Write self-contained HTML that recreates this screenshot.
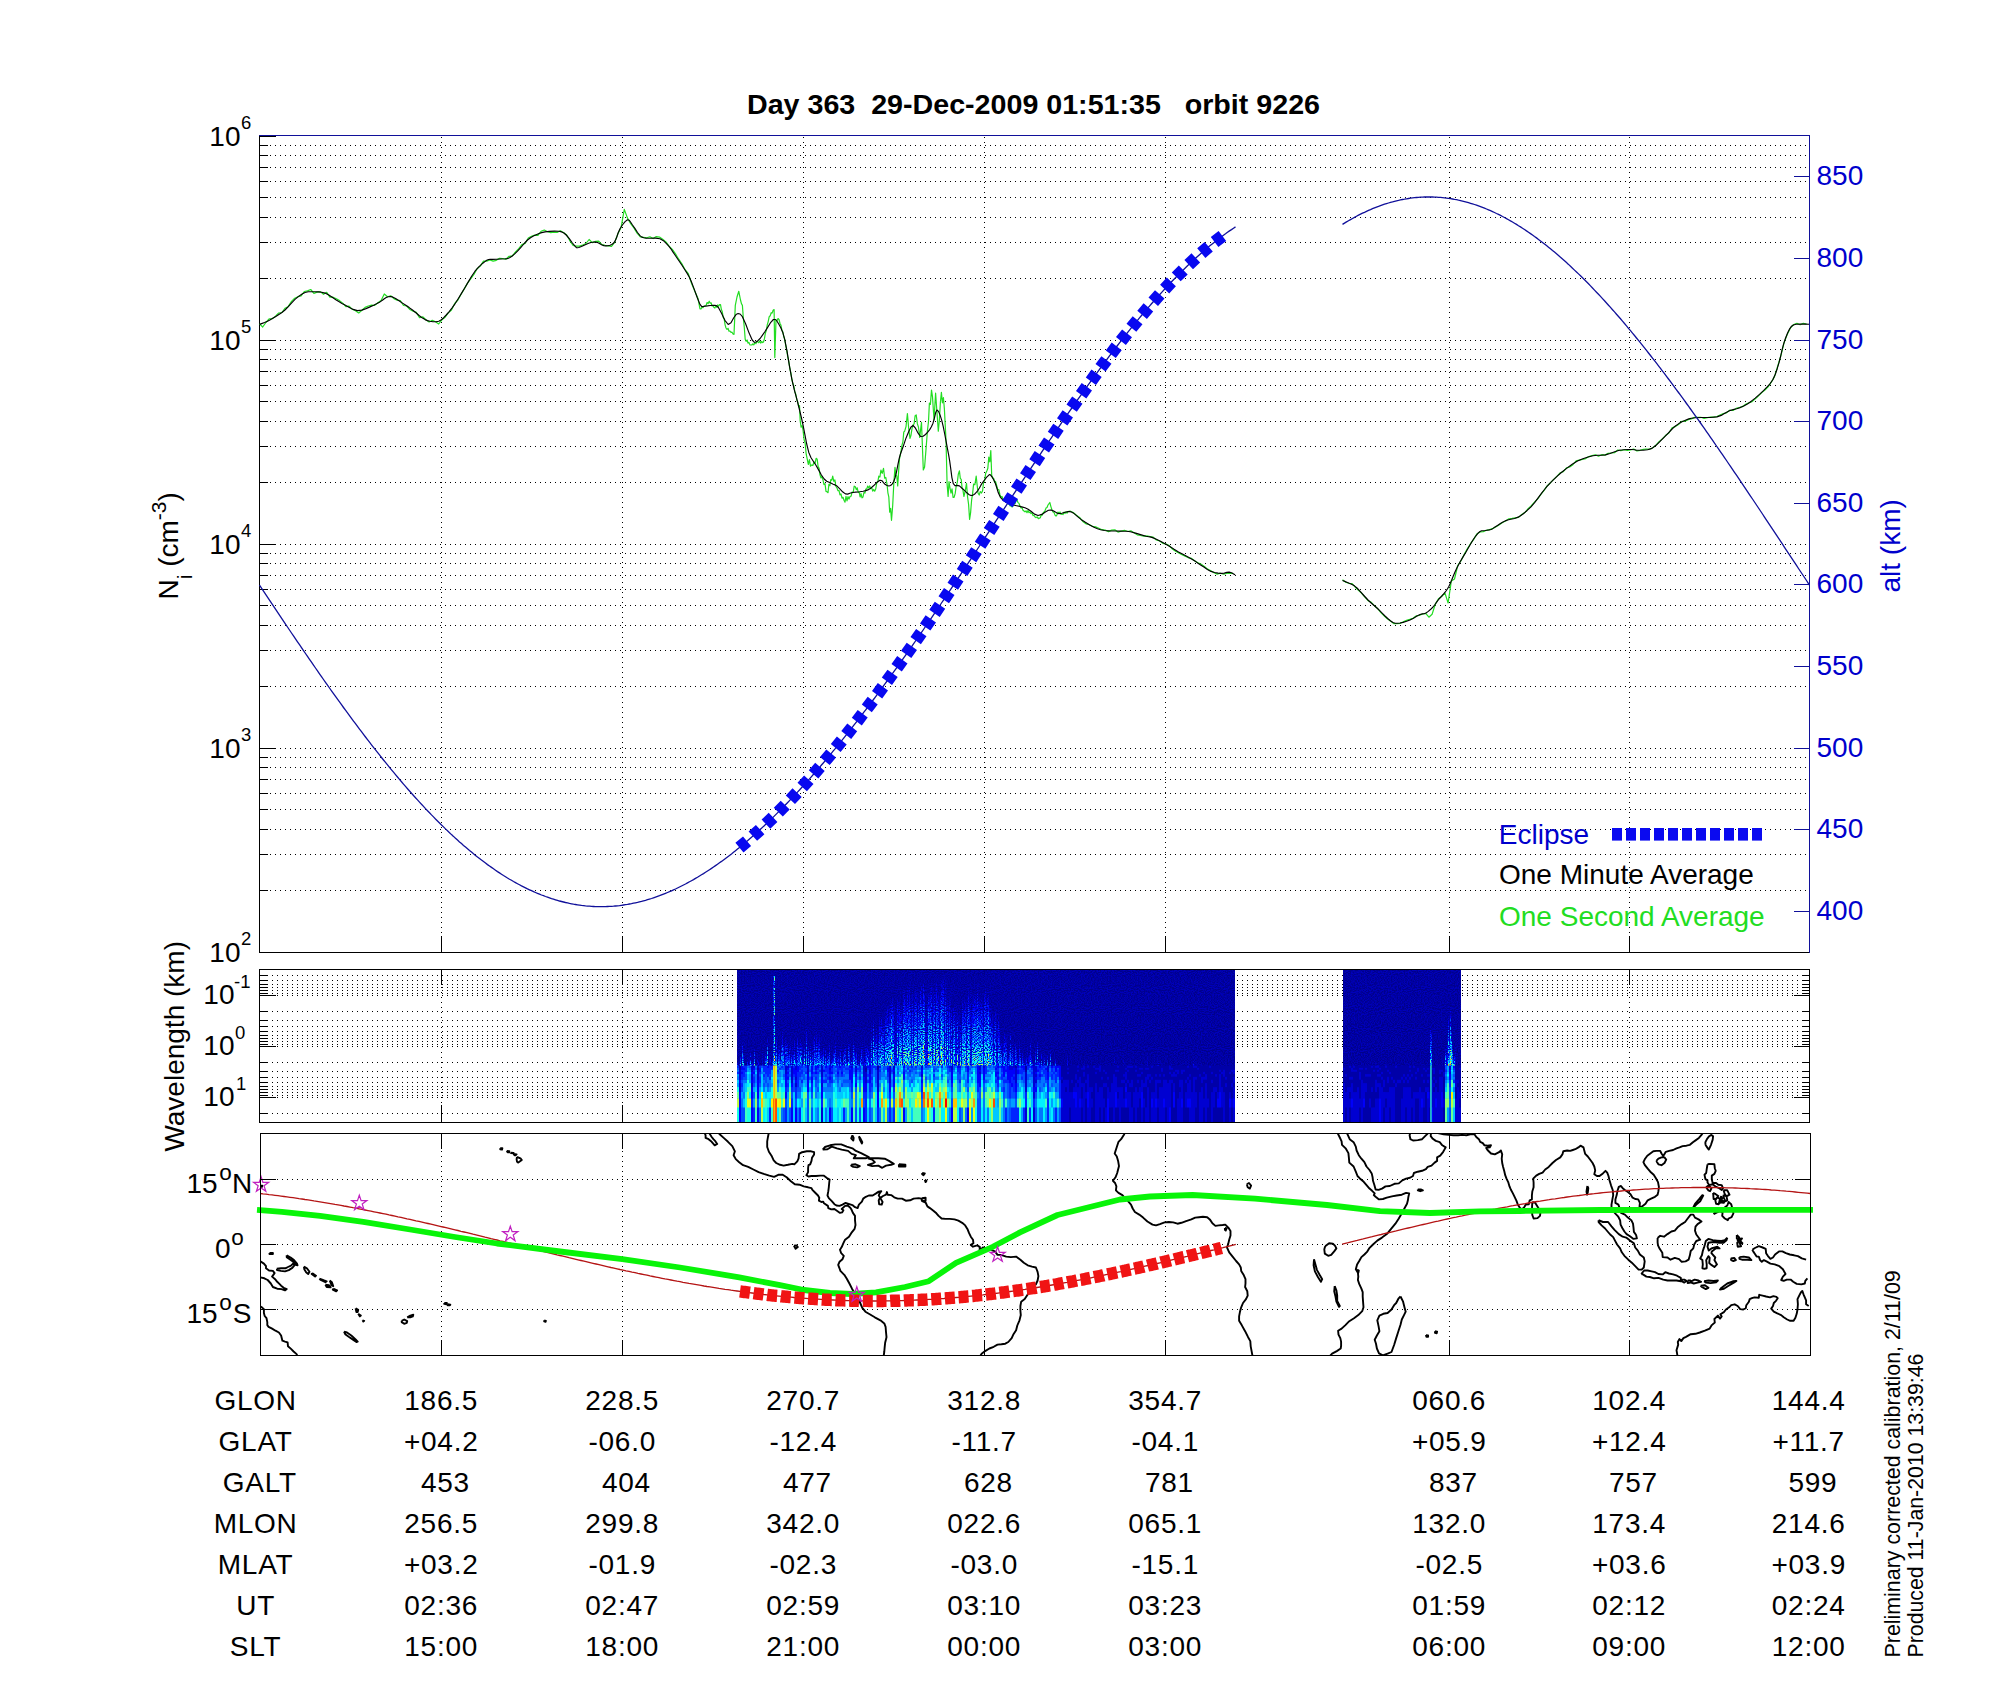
<!DOCTYPE html>
<html><head><meta charset="utf-8"><title>Day 363 29-Dec-2009 orbit 9226</title>
<style>
html,body{margin:0;padding:0;background:#fff;}
svg{display:block;}
text{font-family:"Liberation Sans", Arial, Helvetica, sans-serif;font-size:28px;}
</style></head><body>
<svg width="2000" height="1700" viewBox="0 0 2000 1700" shape-rendering="auto">
<rect width="2000" height="1700" fill="#fff"/>
<line x1="260" y1="890.5" x2="1809" y2="890.5" stroke="#000" stroke-width="1" stroke-dasharray="1 4"/>
<line x1="260" y1="854.5" x2="1809" y2="854.5" stroke="#000" stroke-width="1" stroke-dasharray="1 4"/>
<line x1="260" y1="829.5" x2="1809" y2="829.5" stroke="#000" stroke-width="1" stroke-dasharray="1 4"/>
<line x1="260" y1="809.5" x2="1809" y2="809.5" stroke="#000" stroke-width="1" stroke-dasharray="1 4"/>
<line x1="260" y1="793.5" x2="1809" y2="793.5" stroke="#000" stroke-width="1" stroke-dasharray="1 4"/>
<line x1="260" y1="779.5" x2="1809" y2="779.5" stroke="#000" stroke-width="1" stroke-dasharray="1 4"/>
<line x1="260" y1="767.5" x2="1809" y2="767.5" stroke="#000" stroke-width="1" stroke-dasharray="1 4"/>
<line x1="260" y1="757.5" x2="1809" y2="757.5" stroke="#000" stroke-width="1" stroke-dasharray="1 4"/>
<line x1="260" y1="748.5" x2="1809" y2="748.5" stroke="#000" stroke-width="1" stroke-dasharray="1 4"/>
<line x1="260" y1="686.5" x2="1809" y2="686.5" stroke="#000" stroke-width="1" stroke-dasharray="1 4"/>
<line x1="260" y1="650.5" x2="1809" y2="650.5" stroke="#000" stroke-width="1" stroke-dasharray="1 4"/>
<line x1="260" y1="625.5" x2="1809" y2="625.5" stroke="#000" stroke-width="1" stroke-dasharray="1 4"/>
<line x1="260" y1="605.5" x2="1809" y2="605.5" stroke="#000" stroke-width="1" stroke-dasharray="1 4"/>
<line x1="260" y1="589.5" x2="1809" y2="589.5" stroke="#000" stroke-width="1" stroke-dasharray="1 4"/>
<line x1="260" y1="575.5" x2="1809" y2="575.5" stroke="#000" stroke-width="1" stroke-dasharray="1 4"/>
<line x1="260" y1="563.5" x2="1809" y2="563.5" stroke="#000" stroke-width="1" stroke-dasharray="1 4"/>
<line x1="260" y1="553.5" x2="1809" y2="553.5" stroke="#000" stroke-width="1" stroke-dasharray="1 4"/>
<line x1="260" y1="544.5" x2="1809" y2="544.5" stroke="#000" stroke-width="1" stroke-dasharray="1 4"/>
<line x1="260" y1="482.5" x2="1809" y2="482.5" stroke="#000" stroke-width="1" stroke-dasharray="1 4"/>
<line x1="260" y1="446.5" x2="1809" y2="446.5" stroke="#000" stroke-width="1" stroke-dasharray="1 4"/>
<line x1="260" y1="421.5" x2="1809" y2="421.5" stroke="#000" stroke-width="1" stroke-dasharray="1 4"/>
<line x1="260" y1="401.5" x2="1809" y2="401.5" stroke="#000" stroke-width="1" stroke-dasharray="1 4"/>
<line x1="260" y1="385.5" x2="1809" y2="385.5" stroke="#000" stroke-width="1" stroke-dasharray="1 4"/>
<line x1="260" y1="371.5" x2="1809" y2="371.5" stroke="#000" stroke-width="1" stroke-dasharray="1 4"/>
<line x1="260" y1="359.5" x2="1809" y2="359.5" stroke="#000" stroke-width="1" stroke-dasharray="1 4"/>
<line x1="260" y1="349.5" x2="1809" y2="349.5" stroke="#000" stroke-width="1" stroke-dasharray="1 4"/>
<line x1="260" y1="340.5" x2="1809" y2="340.5" stroke="#000" stroke-width="1" stroke-dasharray="1 4"/>
<line x1="260" y1="278.5" x2="1809" y2="278.5" stroke="#000" stroke-width="1" stroke-dasharray="1 4"/>
<line x1="260" y1="242.5" x2="1809" y2="242.5" stroke="#000" stroke-width="1" stroke-dasharray="1 4"/>
<line x1="260" y1="217.5" x2="1809" y2="217.5" stroke="#000" stroke-width="1" stroke-dasharray="1 4"/>
<line x1="260" y1="197.5" x2="1809" y2="197.5" stroke="#000" stroke-width="1" stroke-dasharray="1 4"/>
<line x1="260" y1="181.5" x2="1809" y2="181.5" stroke="#000" stroke-width="1" stroke-dasharray="1 4"/>
<line x1="260" y1="167.5" x2="1809" y2="167.5" stroke="#000" stroke-width="1" stroke-dasharray="1 4"/>
<line x1="260" y1="155.5" x2="1809" y2="155.5" stroke="#000" stroke-width="1" stroke-dasharray="1 4"/>
<line x1="260" y1="145.5" x2="1809" y2="145.5" stroke="#000" stroke-width="1" stroke-dasharray="1 4"/>
<line x1="441.5" y1="948" x2="441.5" y2="136" stroke="#000" stroke-width="1" stroke-dasharray="1 4"/>
<line x1="622.5" y1="948" x2="622.5" y2="136" stroke="#000" stroke-width="1" stroke-dasharray="1 4"/>
<line x1="803.5" y1="948" x2="803.5" y2="136" stroke="#000" stroke-width="1" stroke-dasharray="1 4"/>
<line x1="984.5" y1="948" x2="984.5" y2="136" stroke="#000" stroke-width="1" stroke-dasharray="1 4"/>
<line x1="1165.5" y1="948" x2="1165.5" y2="136" stroke="#000" stroke-width="1" stroke-dasharray="1 4"/>
<line x1="1449.5" y1="948" x2="1449.5" y2="136" stroke="#000" stroke-width="1" stroke-dasharray="1 4"/>
<line x1="1629.5" y1="948" x2="1629.5" y2="136" stroke="#000" stroke-width="1" stroke-dasharray="1 4"/>
<line x1="259" y1="952.5" x2="276" y2="952.5" stroke="#000" stroke-width="1"/>
<line x1="259" y1="890.5" x2="268" y2="890.5" stroke="#000" stroke-width="1"/>
<line x1="259" y1="854.5" x2="268" y2="854.5" stroke="#000" stroke-width="1"/>
<line x1="259" y1="829.5" x2="268" y2="829.5" stroke="#000" stroke-width="1"/>
<line x1="259" y1="809.5" x2="268" y2="809.5" stroke="#000" stroke-width="1"/>
<line x1="259" y1="793.5" x2="268" y2="793.5" stroke="#000" stroke-width="1"/>
<line x1="259" y1="779.5" x2="268" y2="779.5" stroke="#000" stroke-width="1"/>
<line x1="259" y1="767.5" x2="268" y2="767.5" stroke="#000" stroke-width="1"/>
<line x1="259" y1="757.5" x2="268" y2="757.5" stroke="#000" stroke-width="1"/>
<line x1="259" y1="748.5" x2="276" y2="748.5" stroke="#000" stroke-width="1"/>
<line x1="259" y1="686.5" x2="268" y2="686.5" stroke="#000" stroke-width="1"/>
<line x1="259" y1="650.5" x2="268" y2="650.5" stroke="#000" stroke-width="1"/>
<line x1="259" y1="625.5" x2="268" y2="625.5" stroke="#000" stroke-width="1"/>
<line x1="259" y1="605.5" x2="268" y2="605.5" stroke="#000" stroke-width="1"/>
<line x1="259" y1="589.5" x2="268" y2="589.5" stroke="#000" stroke-width="1"/>
<line x1="259" y1="575.5" x2="268" y2="575.5" stroke="#000" stroke-width="1"/>
<line x1="259" y1="563.5" x2="268" y2="563.5" stroke="#000" stroke-width="1"/>
<line x1="259" y1="553.5" x2="268" y2="553.5" stroke="#000" stroke-width="1"/>
<line x1="259" y1="544.5" x2="276" y2="544.5" stroke="#000" stroke-width="1"/>
<line x1="259" y1="482.5" x2="268" y2="482.5" stroke="#000" stroke-width="1"/>
<line x1="259" y1="446.5" x2="268" y2="446.5" stroke="#000" stroke-width="1"/>
<line x1="259" y1="421.5" x2="268" y2="421.5" stroke="#000" stroke-width="1"/>
<line x1="259" y1="401.5" x2="268" y2="401.5" stroke="#000" stroke-width="1"/>
<line x1="259" y1="385.5" x2="268" y2="385.5" stroke="#000" stroke-width="1"/>
<line x1="259" y1="371.5" x2="268" y2="371.5" stroke="#000" stroke-width="1"/>
<line x1="259" y1="359.5" x2="268" y2="359.5" stroke="#000" stroke-width="1"/>
<line x1="259" y1="349.5" x2="268" y2="349.5" stroke="#000" stroke-width="1"/>
<line x1="259" y1="340.5" x2="276" y2="340.5" stroke="#000" stroke-width="1"/>
<line x1="259" y1="278.5" x2="268" y2="278.5" stroke="#000" stroke-width="1"/>
<line x1="259" y1="242.5" x2="268" y2="242.5" stroke="#000" stroke-width="1"/>
<line x1="259" y1="217.5" x2="268" y2="217.5" stroke="#000" stroke-width="1"/>
<line x1="259" y1="197.5" x2="268" y2="197.5" stroke="#000" stroke-width="1"/>
<line x1="259" y1="181.5" x2="268" y2="181.5" stroke="#000" stroke-width="1"/>
<line x1="259" y1="167.5" x2="268" y2="167.5" stroke="#000" stroke-width="1"/>
<line x1="259" y1="155.5" x2="268" y2="155.5" stroke="#000" stroke-width="1"/>
<line x1="259" y1="145.5" x2="268" y2="145.5" stroke="#000" stroke-width="1"/>
<line x1="259" y1="136.5" x2="276" y2="136.5" stroke="#000" stroke-width="1"/>
<line x1="441.5" y1="952" x2="441.5" y2="936" stroke="#000" stroke-width="1"/>
<line x1="622.5" y1="952" x2="622.5" y2="936" stroke="#000" stroke-width="1"/>
<line x1="803.5" y1="952" x2="803.5" y2="936" stroke="#000" stroke-width="1"/>
<line x1="984.5" y1="952" x2="984.5" y2="936" stroke="#000" stroke-width="1"/>
<line x1="1165.5" y1="952" x2="1165.5" y2="936" stroke="#000" stroke-width="1"/>
<line x1="1449.5" y1="952" x2="1449.5" y2="936" stroke="#000" stroke-width="1"/>
<line x1="1629.5" y1="952" x2="1629.5" y2="936" stroke="#000" stroke-width="1"/>
<line x1="259.5" y1="135" x2="259.5" y2="953" stroke="#000" stroke-width="1"/>
<line x1="259" y1="952.5" x2="1810" y2="952.5" stroke="#000" stroke-width="1"/>
<line x1="259" y1="135.5" x2="1810" y2="135.5" stroke="#10109a" stroke-width="1"/>
<line x1="1809.5" y1="135" x2="1809.5" y2="953" stroke="#10109a" stroke-width="1"/>
<line x1="1794" y1="911.5" x2="1809" y2="911.5" stroke="#10109a" stroke-width="1"/>
<text x="1816.5" y="920" fill="#0000cc">400</text>
<line x1="1794" y1="829.5" x2="1809" y2="829.5" stroke="#10109a" stroke-width="1"/>
<text x="1816.5" y="838" fill="#0000cc">450</text>
<line x1="1794" y1="748.5" x2="1809" y2="748.5" stroke="#10109a" stroke-width="1"/>
<text x="1816.5" y="757" fill="#0000cc">500</text>
<line x1="1794" y1="666.5" x2="1809" y2="666.5" stroke="#10109a" stroke-width="1"/>
<text x="1816.5" y="675" fill="#0000cc">550</text>
<line x1="1794" y1="584.5" x2="1809" y2="584.5" stroke="#10109a" stroke-width="1"/>
<text x="1816.5" y="593" fill="#0000cc">600</text>
<line x1="1794" y1="503.5" x2="1809" y2="503.5" stroke="#10109a" stroke-width="1"/>
<text x="1816.5" y="512" fill="#0000cc">650</text>
<line x1="1794" y1="421.5" x2="1809" y2="421.5" stroke="#10109a" stroke-width="1"/>
<text x="1816.5" y="430" fill="#0000cc">700</text>
<line x1="1794" y1="340.5" x2="1809" y2="340.5" stroke="#10109a" stroke-width="1"/>
<text x="1816.5" y="349" fill="#0000cc">750</text>
<line x1="1794" y1="258.5" x2="1809" y2="258.5" stroke="#10109a" stroke-width="1"/>
<text x="1816.5" y="267" fill="#0000cc">800</text>
<line x1="1794" y1="176.5" x2="1809" y2="176.5" stroke="#10109a" stroke-width="1"/>
<text x="1816.5" y="185" fill="#0000cc">850</text>
<text x="240.5" y="962" text-anchor="end">10</text>
<text x="241" y="944.7" style="font-size:18.5px">2</text>
<text x="240.5" y="758" text-anchor="end">10</text>
<text x="241" y="740.7" style="font-size:18.5px">3</text>
<text x="240.5" y="554" text-anchor="end">10</text>
<text x="241" y="536.7" style="font-size:18.5px">4</text>
<text x="240.5" y="350" text-anchor="end">10</text>
<text x="241" y="332.7" style="font-size:18.5px">5</text>
<text x="240.5" y="146" text-anchor="end">10</text>
<text x="241" y="128.7" style="font-size:18.5px">6</text>
<text transform="translate(178,599.5) rotate(-90)">N<tspan style="font-size:21px" dy="14">i</tspan><tspan dy="-14"> (cm</tspan><tspan style="font-size:21px" dy="-12">-3</tspan><tspan dy="12">)</tspan></text>
<text transform="translate(1900,592.5) rotate(-90)" fill="#0000cc">alt (km)</text>
<text x="1033.5" y="114" text-anchor="middle" font-weight="bold" xml:space="preserve" textLength="573" lengthAdjust="spacingAndGlyphs">Day 363  29-Dec-2009 01:51:35   orbit 9226</text>
<text x="1498.8" y="843.6" fill="#0000cc">Eclipse</text>
<text x="1499" y="884.4">One Minute Average</text>
<text x="1499" y="926" fill="#22dd22">One Second Average</text>
<rect x="1612" y="828" width="10" height="12.6" fill="#0a0af0"/>
<rect x="1626" y="828" width="10" height="12.6" fill="#0a0af0"/>
<rect x="1640" y="828" width="10" height="12.6" fill="#0a0af0"/>
<rect x="1654" y="828" width="10" height="12.6" fill="#0a0af0"/>
<rect x="1668" y="828" width="10" height="12.6" fill="#0a0af0"/>
<rect x="1682" y="828" width="10" height="12.6" fill="#0a0af0"/>
<rect x="1696" y="828" width="10" height="12.6" fill="#0a0af0"/>
<rect x="1710" y="828" width="10" height="12.6" fill="#0a0af0"/>
<rect x="1724" y="828" width="10" height="12.6" fill="#0a0af0"/>
<rect x="1738" y="828" width="10" height="12.6" fill="#0a0af0"/>
<rect x="1752" y="828" width="10" height="12.6" fill="#0a0af0"/>
<line x1="262" y1="975.5" x2="1800" y2="975.5" stroke="#000" stroke-width="1" stroke-dasharray="1 4"/>
<line x1="259" y1="975.5" x2="268" y2="975.5" stroke="#000" stroke-width="1"/>
<line x1="1802" y1="975.5" x2="1809" y2="975.5" stroke="#000" stroke-width="1"/>
<line x1="262" y1="980.5" x2="1800" y2="980.5" stroke="#000" stroke-width="1" stroke-dasharray="1 4"/>
<line x1="259" y1="980.5" x2="268" y2="980.5" stroke="#000" stroke-width="1"/>
<line x1="1802" y1="980.5" x2="1809" y2="980.5" stroke="#000" stroke-width="1"/>
<line x1="262" y1="984.5" x2="1800" y2="984.5" stroke="#000" stroke-width="1" stroke-dasharray="1 4"/>
<line x1="259" y1="984.5" x2="268" y2="984.5" stroke="#000" stroke-width="1"/>
<line x1="1802" y1="984.5" x2="1809" y2="984.5" stroke="#000" stroke-width="1"/>
<line x1="262" y1="987.5" x2="1800" y2="987.5" stroke="#000" stroke-width="1" stroke-dasharray="1 4"/>
<line x1="259" y1="987.5" x2="268" y2="987.5" stroke="#000" stroke-width="1"/>
<line x1="1802" y1="987.5" x2="1809" y2="987.5" stroke="#000" stroke-width="1"/>
<line x1="262" y1="990.5" x2="1800" y2="990.5" stroke="#000" stroke-width="1" stroke-dasharray="1 4"/>
<line x1="259" y1="990.5" x2="268" y2="990.5" stroke="#000" stroke-width="1"/>
<line x1="1802" y1="990.5" x2="1809" y2="990.5" stroke="#000" stroke-width="1"/>
<line x1="262" y1="993.5" x2="1800" y2="993.5" stroke="#000" stroke-width="1" stroke-dasharray="1 4"/>
<line x1="259" y1="993.5" x2="268" y2="993.5" stroke="#000" stroke-width="1"/>
<line x1="1802" y1="993.5" x2="1809" y2="993.5" stroke="#000" stroke-width="1"/>
<line x1="262" y1="995.5" x2="1800" y2="995.5" stroke="#000" stroke-width="1" stroke-dasharray="1 4"/>
<line x1="259" y1="995.5" x2="276" y2="995.5" stroke="#000" stroke-width="1"/>
<line x1="1794" y1="995.5" x2="1809" y2="995.5" stroke="#000" stroke-width="1"/>
<line x1="262" y1="1011.5" x2="1800" y2="1011.5" stroke="#000" stroke-width="1" stroke-dasharray="1 4"/>
<line x1="259" y1="1011.5" x2="268" y2="1011.5" stroke="#000" stroke-width="1"/>
<line x1="1802" y1="1011.5" x2="1809" y2="1011.5" stroke="#000" stroke-width="1"/>
<line x1="262" y1="1020.5" x2="1800" y2="1020.5" stroke="#000" stroke-width="1" stroke-dasharray="1 4"/>
<line x1="259" y1="1020.5" x2="268" y2="1020.5" stroke="#000" stroke-width="1"/>
<line x1="1802" y1="1020.5" x2="1809" y2="1020.5" stroke="#000" stroke-width="1"/>
<line x1="262" y1="1026.5" x2="1800" y2="1026.5" stroke="#000" stroke-width="1" stroke-dasharray="1 4"/>
<line x1="259" y1="1026.5" x2="268" y2="1026.5" stroke="#000" stroke-width="1"/>
<line x1="1802" y1="1026.5" x2="1809" y2="1026.5" stroke="#000" stroke-width="1"/>
<line x1="262" y1="1031.5" x2="1800" y2="1031.5" stroke="#000" stroke-width="1" stroke-dasharray="1 4"/>
<line x1="259" y1="1031.5" x2="268" y2="1031.5" stroke="#000" stroke-width="1"/>
<line x1="1802" y1="1031.5" x2="1809" y2="1031.5" stroke="#000" stroke-width="1"/>
<line x1="262" y1="1035.5" x2="1800" y2="1035.5" stroke="#000" stroke-width="1" stroke-dasharray="1 4"/>
<line x1="259" y1="1035.5" x2="268" y2="1035.5" stroke="#000" stroke-width="1"/>
<line x1="1802" y1="1035.5" x2="1809" y2="1035.5" stroke="#000" stroke-width="1"/>
<line x1="262" y1="1038.5" x2="1800" y2="1038.5" stroke="#000" stroke-width="1" stroke-dasharray="1 4"/>
<line x1="259" y1="1038.5" x2="268" y2="1038.5" stroke="#000" stroke-width="1"/>
<line x1="1802" y1="1038.5" x2="1809" y2="1038.5" stroke="#000" stroke-width="1"/>
<line x1="262" y1="1041.5" x2="1800" y2="1041.5" stroke="#000" stroke-width="1" stroke-dasharray="1 4"/>
<line x1="259" y1="1041.5" x2="268" y2="1041.5" stroke="#000" stroke-width="1"/>
<line x1="1802" y1="1041.5" x2="1809" y2="1041.5" stroke="#000" stroke-width="1"/>
<line x1="262" y1="1044.5" x2="1800" y2="1044.5" stroke="#000" stroke-width="1" stroke-dasharray="1 4"/>
<line x1="259" y1="1044.5" x2="268" y2="1044.5" stroke="#000" stroke-width="1"/>
<line x1="1802" y1="1044.5" x2="1809" y2="1044.5" stroke="#000" stroke-width="1"/>
<line x1="262" y1="1046.5" x2="1800" y2="1046.5" stroke="#000" stroke-width="1" stroke-dasharray="1 4"/>
<line x1="259" y1="1046.5" x2="276" y2="1046.5" stroke="#000" stroke-width="1"/>
<line x1="1794" y1="1046.5" x2="1809" y2="1046.5" stroke="#000" stroke-width="1"/>
<line x1="262" y1="1062.5" x2="1800" y2="1062.5" stroke="#000" stroke-width="1" stroke-dasharray="1 4"/>
<line x1="259" y1="1062.5" x2="268" y2="1062.5" stroke="#000" stroke-width="1"/>
<line x1="1802" y1="1062.5" x2="1809" y2="1062.5" stroke="#000" stroke-width="1"/>
<line x1="262" y1="1071.5" x2="1800" y2="1071.5" stroke="#000" stroke-width="1" stroke-dasharray="1 4"/>
<line x1="259" y1="1071.5" x2="268" y2="1071.5" stroke="#000" stroke-width="1"/>
<line x1="1802" y1="1071.5" x2="1809" y2="1071.5" stroke="#000" stroke-width="1"/>
<line x1="262" y1="1077.5" x2="1800" y2="1077.5" stroke="#000" stroke-width="1" stroke-dasharray="1 4"/>
<line x1="259" y1="1077.5" x2="268" y2="1077.5" stroke="#000" stroke-width="1"/>
<line x1="1802" y1="1077.5" x2="1809" y2="1077.5" stroke="#000" stroke-width="1"/>
<line x1="262" y1="1082.5" x2="1800" y2="1082.5" stroke="#000" stroke-width="1" stroke-dasharray="1 4"/>
<line x1="259" y1="1082.5" x2="268" y2="1082.5" stroke="#000" stroke-width="1"/>
<line x1="1802" y1="1082.5" x2="1809" y2="1082.5" stroke="#000" stroke-width="1"/>
<line x1="262" y1="1086.5" x2="1800" y2="1086.5" stroke="#000" stroke-width="1" stroke-dasharray="1 4"/>
<line x1="259" y1="1086.5" x2="268" y2="1086.5" stroke="#000" stroke-width="1"/>
<line x1="1802" y1="1086.5" x2="1809" y2="1086.5" stroke="#000" stroke-width="1"/>
<line x1="262" y1="1089.5" x2="1800" y2="1089.5" stroke="#000" stroke-width="1" stroke-dasharray="1 4"/>
<line x1="259" y1="1089.5" x2="268" y2="1089.5" stroke="#000" stroke-width="1"/>
<line x1="1802" y1="1089.5" x2="1809" y2="1089.5" stroke="#000" stroke-width="1"/>
<line x1="262" y1="1092.5" x2="1800" y2="1092.5" stroke="#000" stroke-width="1" stroke-dasharray="1 4"/>
<line x1="259" y1="1092.5" x2="268" y2="1092.5" stroke="#000" stroke-width="1"/>
<line x1="1802" y1="1092.5" x2="1809" y2="1092.5" stroke="#000" stroke-width="1"/>
<line x1="262" y1="1095.5" x2="1800" y2="1095.5" stroke="#000" stroke-width="1" stroke-dasharray="1 4"/>
<line x1="259" y1="1095.5" x2="268" y2="1095.5" stroke="#000" stroke-width="1"/>
<line x1="1802" y1="1095.5" x2="1809" y2="1095.5" stroke="#000" stroke-width="1"/>
<line x1="262" y1="1097.5" x2="1800" y2="1097.5" stroke="#000" stroke-width="1" stroke-dasharray="1 4"/>
<line x1="259" y1="1097.5" x2="276" y2="1097.5" stroke="#000" stroke-width="1"/>
<line x1="1794" y1="1097.5" x2="1809" y2="1097.5" stroke="#000" stroke-width="1"/>
<line x1="262" y1="1113.5" x2="1800" y2="1113.5" stroke="#000" stroke-width="1" stroke-dasharray="1 4"/>
<line x1="259" y1="1113.5" x2="268" y2="1113.5" stroke="#000" stroke-width="1"/>
<line x1="1802" y1="1113.5" x2="1809" y2="1113.5" stroke="#000" stroke-width="1"/>
<line x1="441.5" y1="1118" x2="441.5" y2="969" stroke="#000" stroke-width="1" stroke-dasharray="1 4"/>
<line x1="441.5" y1="969" x2="441.5" y2="985" stroke="#000" stroke-width="1"/>
<line x1="441.5" y1="1122" x2="441.5" y2="1105" stroke="#000" stroke-width="1"/>
<line x1="622.5" y1="1118" x2="622.5" y2="969" stroke="#000" stroke-width="1" stroke-dasharray="1 4"/>
<line x1="622.5" y1="969" x2="622.5" y2="985" stroke="#000" stroke-width="1"/>
<line x1="622.5" y1="1122" x2="622.5" y2="1105" stroke="#000" stroke-width="1"/>
<line x1="803.5" y1="1118" x2="803.5" y2="969" stroke="#000" stroke-width="1" stroke-dasharray="1 4"/>
<line x1="803.5" y1="969" x2="803.5" y2="985" stroke="#000" stroke-width="1"/>
<line x1="803.5" y1="1122" x2="803.5" y2="1105" stroke="#000" stroke-width="1"/>
<line x1="984.5" y1="1118" x2="984.5" y2="969" stroke="#000" stroke-width="1" stroke-dasharray="1 4"/>
<line x1="984.5" y1="969" x2="984.5" y2="985" stroke="#000" stroke-width="1"/>
<line x1="984.5" y1="1122" x2="984.5" y2="1105" stroke="#000" stroke-width="1"/>
<line x1="1165.5" y1="1118" x2="1165.5" y2="969" stroke="#000" stroke-width="1" stroke-dasharray="1 4"/>
<line x1="1165.5" y1="969" x2="1165.5" y2="985" stroke="#000" stroke-width="1"/>
<line x1="1165.5" y1="1122" x2="1165.5" y2="1105" stroke="#000" stroke-width="1"/>
<line x1="1449.5" y1="1118" x2="1449.5" y2="969" stroke="#000" stroke-width="1" stroke-dasharray="1 4"/>
<line x1="1449.5" y1="969" x2="1449.5" y2="985" stroke="#000" stroke-width="1"/>
<line x1="1449.5" y1="1122" x2="1449.5" y2="1105" stroke="#000" stroke-width="1"/>
<line x1="1629.5" y1="1118" x2="1629.5" y2="969" stroke="#000" stroke-width="1" stroke-dasharray="1 4"/>
<line x1="1629.5" y1="969" x2="1629.5" y2="985" stroke="#000" stroke-width="1"/>
<line x1="1629.5" y1="1122" x2="1629.5" y2="1105" stroke="#000" stroke-width="1"/>
<defs>
<linearGradient id="fl" x1="0" y1="1" x2="0" y2="0">
<stop offset="0" stop-color="#fff"/><stop offset="0.3" stop-color="#fff" stop-opacity="0.6"/>
<stop offset="0.7" stop-color="#fff" stop-opacity="0.25"/><stop offset="1" stop-color="#fff" stop-opacity="0"/>
</linearGradient>
<filter id="spk" x="0" y="0" width="1" height="1" color-interpolation-filters="sRGB">
<feTurbulence type="fractalNoise" baseFrequency="0.7 0.95" numOctaves="1" seed="5" result="n"/>
<feColorMatrix in="n" type="matrix" values="1 0 0 0 0 1 0 0 0 0 1 0 0 0 0 0 0 0 0 1" result="ng"/>
<feComponentTransfer in="ng" result="nc"><feFuncR type="linear" slope="3.4" intercept="-1.2"/><feFuncG type="linear" slope="3.4" intercept="-1.2"/><feFuncB type="linear" slope="3.4" intercept="-1.2"/></feComponentTransfer>
<feComposite in="SourceGraphic" in2="nc" operator="arithmetic" k1="0.85" k2="0.12" k3="0.05" k4="0.01" result="v"/>
<feComponentTransfer in="v"><feFuncR type="table" tableValues="0 0 0 0 0.5 1 1 1 0.5"/><feFuncG type="table" tableValues="0 0 0.5 1 1 1 0.5 0 0"/><feFuncB type="table" tableValues="0.5 1 1 1 0.5 0 0 0 0"/><feFuncA type="linear" slope="0" intercept="1"/></feComponentTransfer>
</filter>
</defs>
<rect x="737" y="970" width="498" height="152" fill="#00009e"/>
<g filter="url(#spk)">
<rect x="737" y="970" width="498" height="96.6" fill="#000"/>
<rect x="737" y="1062.8" width="1" height="3.8" fill="url(#fl)" opacity="0.47"/>
<rect x="739" y="1063.9" width="1" height="2.7" fill="url(#fl)" opacity="0.46"/>
<rect x="740" y="1056" width="1" height="10.6" fill="url(#fl)" opacity="0.46"/>
<rect x="742" y="1041.6" width="1" height="25" fill="url(#fl)" opacity="0.62"/>
<rect x="743" y="1053.4" width="1" height="13.2" fill="url(#fl)" opacity="0.46"/>
<rect x="747" y="1054.5" width="1" height="12.1" fill="url(#fl)" opacity="0.14"/>
<rect x="748" y="1063.3" width="1" height="3.3" fill="url(#fl)" opacity="0.14"/>
<rect x="749" y="1055" width="1" height="11.5" fill="url(#fl)" opacity="0.14"/>
<rect x="750" y="1051.1" width="1" height="15.5" fill="url(#fl)" opacity="0.45"/>
<rect x="751" y="1060.8" width="1" height="5.8" fill="url(#fl)" opacity="0.45"/>
<rect x="752" y="1062.6" width="1" height="4" fill="url(#fl)" opacity="0.45"/>
<rect x="753" y="1062" width="1" height="4.6" fill="url(#fl)" opacity="0.45"/>
<rect x="754" y="1048.9" width="1" height="17.7" fill="url(#fl)" opacity="0.60"/>
<rect x="757" y="1057.1" width="1" height="9.5" fill="url(#fl)" opacity="0.13"/>
<rect x="758" y="1056.3" width="1" height="10.3" fill="url(#fl)" opacity="0.13"/>
<rect x="762" y="1048.9" width="1" height="17.7" fill="url(#fl)" opacity="0.13"/>
<rect x="765" y="1050.3" width="1" height="16.3" fill="url(#fl)" opacity="0.43"/>
<rect x="766" y="1055.1" width="1" height="11.5" fill="url(#fl)" opacity="0.58"/>
<rect x="767" y="1038.4" width="1" height="28.2" fill="url(#fl)" opacity="0.58"/>
<rect x="769" y="1050.9" width="1" height="15.7" fill="url(#fl)" opacity="0.13"/>
<rect x="770" y="1050" width="1" height="16.6" fill="url(#fl)" opacity="0.13"/>
<rect x="772" y="1059.2" width="1" height="7.4" fill="url(#fl)" opacity="0.42"/>
<rect x="773" y="1049.4" width="1" height="17.2" fill="url(#fl)" opacity="0.42"/>
<rect x="774" y="1047.1" width="1" height="19.5" fill="url(#fl)" opacity="0.42"/>
<rect x="775" y="1045.8" width="1" height="20.7" fill="url(#fl)" opacity="0.42"/>
<rect x="776" y="1035.3" width="1" height="31.3" fill="url(#fl)" opacity="0.56"/>
<rect x="777" y="1064.6" width="1" height="2" fill="url(#fl)" opacity="0.41"/>
<rect x="778" y="1047.6" width="1" height="18.9" fill="url(#fl)" opacity="0.41"/>
<rect x="779" y="1044.5" width="1" height="22.1" fill="url(#fl)" opacity="0.41"/>
<rect x="780" y="1059.1" width="1" height="7.5" fill="url(#fl)" opacity="0.41"/>
<rect x="781" y="1040.1" width="1" height="26.5" fill="url(#fl)" opacity="0.41"/>
<rect x="782" y="1029.9" width="1" height="36.7" fill="url(#fl)" opacity="0.55"/>
<rect x="783" y="1042.4" width="1" height="24.2" fill="url(#fl)" opacity="0.55"/>
<rect x="784" y="1042.1" width="1" height="24.5" fill="url(#fl)" opacity="0.12"/>
<rect x="785" y="1036.2" width="1" height="30.4" fill="url(#fl)" opacity="0.40"/>
<rect x="786" y="1039" width="1" height="27.6" fill="url(#fl)" opacity="0.40"/>
<rect x="787" y="1041.2" width="1" height="25.4" fill="url(#fl)" opacity="0.40"/>
<rect x="788" y="1054.4" width="1" height="12.2" fill="url(#fl)" opacity="0.40"/>
<rect x="789" y="1044.2" width="1" height="22.3" fill="url(#fl)" opacity="0.40"/>
<rect x="790" y="1034.7" width="1" height="31.9" fill="url(#fl)" opacity="0.12"/>
<rect x="791" y="1052.8" width="1" height="13.8" fill="url(#fl)" opacity="0.39"/>
<rect x="792" y="1037.7" width="1" height="28.9" fill="url(#fl)" opacity="0.12"/>
<rect x="793" y="1050.1" width="1" height="16.5" fill="url(#fl)" opacity="0.39"/>
<rect x="794" y="1037.7" width="1" height="28.9" fill="url(#fl)" opacity="0.39"/>
<rect x="795" y="1054.8" width="1" height="11.7" fill="url(#fl)" opacity="0.39"/>
<rect x="796" y="1044.4" width="1" height="22.1" fill="url(#fl)" opacity="0.12"/>
<rect x="797" y="1035.9" width="1" height="30.7" fill="url(#fl)" opacity="0.39"/>
<rect x="798" y="1041.4" width="1" height="25.2" fill="url(#fl)" opacity="0.38"/>
<rect x="799" y="1042.5" width="1" height="24.1" fill="url(#fl)" opacity="0.38"/>
<rect x="800" y="1039.3" width="1" height="27.3" fill="url(#fl)" opacity="0.52"/>
<rect x="801" y="1041.9" width="1" height="24.7" fill="url(#fl)" opacity="0.38"/>
<rect x="802" y="1040" width="1" height="26.6" fill="url(#fl)" opacity="0.11"/>
<rect x="803" y="1052.4" width="1" height="14.2" fill="url(#fl)" opacity="0.38"/>
<rect x="804" y="1042.4" width="1" height="24.2" fill="url(#fl)" opacity="0.52"/>
<rect x="805" y="1061.4" width="1" height="5.2" fill="url(#fl)" opacity="0.12"/>
<rect x="806" y="1026.6" width="1" height="40" fill="url(#fl)" opacity="0.52"/>
<rect x="807" y="1047.7" width="1" height="18.9" fill="url(#fl)" opacity="0.12"/>
<rect x="808" y="1040" width="1" height="26.6" fill="url(#fl)" opacity="0.38"/>
<rect x="809" y="1048.3" width="1" height="18.3" fill="url(#fl)" opacity="0.12"/>
<rect x="810" y="1042.1" width="1" height="24.5" fill="url(#fl)" opacity="0.39"/>
<rect x="811" y="1055.7" width="1" height="10.9" fill="url(#fl)" opacity="0.39"/>
<rect x="812" y="1047.6" width="1" height="19" fill="url(#fl)" opacity="0.39"/>
<rect x="813" y="1033.2" width="1" height="33.4" fill="url(#fl)" opacity="0.12"/>
<rect x="814" y="1029" width="1" height="37.6" fill="url(#fl)" opacity="0.39"/>
<rect x="815" y="1045.2" width="1" height="21.4" fill="url(#fl)" opacity="0.39"/>
<rect x="816" y="1029.7" width="1" height="36.9" fill="url(#fl)" opacity="0.39"/>
<rect x="817" y="1041.6" width="1" height="25" fill="url(#fl)" opacity="0.39"/>
<rect x="818" y="1038.5" width="1" height="28.1" fill="url(#fl)" opacity="0.39"/>
<rect x="819" y="1033.4" width="1" height="33.2" fill="url(#fl)" opacity="0.39"/>
<rect x="820" y="1050.1" width="1" height="16.5" fill="url(#fl)" opacity="0.39"/>
<rect x="821" y="1050.9" width="1" height="15.7" fill="url(#fl)" opacity="0.39"/>
<rect x="822" y="1053" width="1" height="13.5" fill="url(#fl)" opacity="0.39"/>
<rect x="823" y="1043.2" width="1" height="23.3" fill="url(#fl)" opacity="0.39"/>
<rect x="824" y="1057.2" width="1" height="9.4" fill="url(#fl)" opacity="0.39"/>
<rect x="825" y="1046.4" width="1" height="20.2" fill="url(#fl)" opacity="0.39"/>
<rect x="826" y="1057.9" width="1" height="8.7" fill="url(#fl)" opacity="0.39"/>
<rect x="827" y="1053" width="1" height="13.6" fill="url(#fl)" opacity="0.39"/>
<rect x="828" y="1052.8" width="1" height="13.8" fill="url(#fl)" opacity="0.39"/>
<rect x="829" y="1041.5" width="1" height="25.1" fill="url(#fl)" opacity="0.39"/>
<rect x="830" y="1063.8" width="1" height="2.7" fill="url(#fl)" opacity="0.39"/>
<rect x="831" y="1057.5" width="1" height="9.1" fill="url(#fl)" opacity="0.39"/>
<rect x="832" y="1057.6" width="1" height="8.9" fill="url(#fl)" opacity="0.39"/>
<rect x="833" y="1050.6" width="1" height="16" fill="url(#fl)" opacity="0.39"/>
<rect x="834" y="1042" width="1" height="24.6" fill="url(#fl)" opacity="0.39"/>
<rect x="835" y="1040.7" width="1" height="25.9" fill="url(#fl)" opacity="0.39"/>
<rect x="836" y="1051.5" width="1" height="15" fill="url(#fl)" opacity="0.12"/>
<rect x="837" y="1056.8" width="1" height="9.8" fill="url(#fl)" opacity="0.39"/>
<rect x="838" y="1054.7" width="1" height="11.8" fill="url(#fl)" opacity="0.39"/>
<rect x="839" y="1046.1" width="1" height="20.4" fill="url(#fl)" opacity="0.12"/>
<rect x="840" y="1047.2" width="1" height="19.4" fill="url(#fl)" opacity="0.39"/>
<rect x="841" y="1044.9" width="1" height="21.7" fill="url(#fl)" opacity="0.12"/>
<rect x="842" y="1061.7" width="1" height="4.8" fill="url(#fl)" opacity="0.39"/>
<rect x="843" y="1050.6" width="1" height="16" fill="url(#fl)" opacity="0.39"/>
<rect x="844" y="1047.8" width="1" height="18.7" fill="url(#fl)" opacity="0.40"/>
<rect x="845" y="1044.8" width="1" height="21.8" fill="url(#fl)" opacity="0.40"/>
<rect x="846" y="1059.3" width="1" height="7.2" fill="url(#fl)" opacity="0.40"/>
<rect x="847" y="1061.1" width="1" height="5.5" fill="url(#fl)" opacity="0.40"/>
<rect x="848" y="1042" width="1" height="24.6" fill="url(#fl)" opacity="0.53"/>
<rect x="849" y="1043.3" width="1" height="23.3" fill="url(#fl)" opacity="0.40"/>
<rect x="850" y="1060.1" width="1" height="6.5" fill="url(#fl)" opacity="0.40"/>
<rect x="851" y="1057.1" width="1" height="9.5" fill="url(#fl)" opacity="0.40"/>
<rect x="852" y="1046.6" width="1" height="19.9" fill="url(#fl)" opacity="0.12"/>
<rect x="853" y="1038.8" width="1" height="27.8" fill="url(#fl)" opacity="0.54"/>
<rect x="854" y="1045.1" width="1" height="21.4" fill="url(#fl)" opacity="0.40"/>
<rect x="855" y="1055" width="1" height="11.6" fill="url(#fl)" opacity="0.40"/>
<rect x="856" y="1047.6" width="1" height="19" fill="url(#fl)" opacity="0.40"/>
<rect x="857" y="1063.6" width="1" height="3" fill="url(#fl)" opacity="0.40"/>
<rect x="858" y="1041.8" width="1" height="24.8" fill="url(#fl)" opacity="0.12"/>
<rect x="859" y="1060.9" width="1" height="5.6" fill="url(#fl)" opacity="0.12"/>
<rect x="860" y="1056.3" width="1" height="10.2" fill="url(#fl)" opacity="0.40"/>
<rect x="861" y="1045.4" width="1" height="21.2" fill="url(#fl)" opacity="0.41"/>
<rect x="862" y="1037.1" width="1" height="29.5" fill="url(#fl)" opacity="0.12"/>
<rect x="863" y="1046.2" width="1" height="20.3" fill="url(#fl)" opacity="0.12"/>
<rect x="864" y="1053.9" width="1" height="12.7" fill="url(#fl)" opacity="0.12"/>
<rect x="865" y="1036" width="1" height="30.5" fill="url(#fl)" opacity="0.13"/>
<rect x="866" y="1046.4" width="1" height="20.1" fill="url(#fl)" opacity="0.42"/>
<rect x="867" y="1045.1" width="1" height="21.5" fill="url(#fl)" opacity="0.43"/>
<rect x="868" y="1048" width="1" height="18.5" fill="url(#fl)" opacity="0.43"/>
<rect x="869" y="1043.8" width="1" height="22.8" fill="url(#fl)" opacity="0.13"/>
<rect x="870" y="1037.4" width="1" height="29.2" fill="url(#fl)" opacity="0.13"/>
<rect x="871" y="1024.9" width="1" height="41.7" fill="url(#fl)" opacity="0.44"/>
<rect x="872" y="1040.5" width="1" height="26.1" fill="url(#fl)" opacity="0.13"/>
<rect x="873" y="1016.5" width="1" height="50" fill="url(#fl)" opacity="0.61"/>
<rect x="874" y="1037.4" width="1" height="29.2" fill="url(#fl)" opacity="0.45"/>
<rect x="875" y="1033.5" width="1" height="33.1" fill="url(#fl)" opacity="0.46"/>
<rect x="876" y="1025.7" width="1" height="40.9" fill="url(#fl)" opacity="0.46"/>
<rect x="877" y="1035.5" width="1" height="31.1" fill="url(#fl)" opacity="0.14"/>
<rect x="878" y="1033.6" width="1" height="33" fill="url(#fl)" opacity="0.47"/>
<rect x="879" y="1011.9" width="1" height="54.7" fill="url(#fl)" opacity="0.47"/>
<rect x="880" y="1021.3" width="1" height="45.3" fill="url(#fl)" opacity="0.48"/>
<rect x="881" y="1012.8" width="1" height="53.8" fill="url(#fl)" opacity="0.48"/>
<rect x="882" y="1022.4" width="1" height="44.2" fill="url(#fl)" opacity="0.49"/>
<rect x="883" y="1021.4" width="1" height="45.2" fill="url(#fl)" opacity="0.49"/>
<rect x="884" y="1011.9" width="1" height="54.7" fill="url(#fl)" opacity="0.15"/>
<rect x="885" y="1012" width="1" height="54.6" fill="url(#fl)" opacity="0.50"/>
<rect x="886" y="1009.4" width="1" height="57.2" fill="url(#fl)" opacity="0.51"/>
<rect x="887" y="998.5" width="1" height="68.1" fill="url(#fl)" opacity="0.51"/>
<rect x="888" y="1016.2" width="1" height="50.4" fill="url(#fl)" opacity="0.52"/>
<rect x="889" y="1004.9" width="1" height="61.7" fill="url(#fl)" opacity="0.52"/>
<rect x="890" y="999" width="1" height="67.6" fill="url(#fl)" opacity="0.53"/>
<rect x="891" y="999.2" width="1" height="67.4" fill="url(#fl)" opacity="0.72"/>
<rect x="892" y="992" width="1" height="74.6" fill="url(#fl)" opacity="0.54"/>
<rect x="893" y="1002.5" width="1" height="64" fill="url(#fl)" opacity="0.54"/>
<rect x="894" y="1000.4" width="1" height="66.2" fill="url(#fl)" opacity="0.16"/>
<rect x="895" y="1007.4" width="1" height="59.2" fill="url(#fl)" opacity="0.17"/>
<rect x="896" y="1006.5" width="1" height="60.1" fill="url(#fl)" opacity="0.17"/>
<rect x="897" y="994.7" width="1" height="71.9" fill="url(#fl)" opacity="0.57"/>
<rect x="898" y="989.4" width="1" height="77.2" fill="url(#fl)" opacity="0.17"/>
<rect x="899" y="997.7" width="1" height="68.9" fill="url(#fl)" opacity="0.58"/>
<rect x="900" y="1004.7" width="1" height="61.9" fill="url(#fl)" opacity="0.58"/>
<rect x="901" y="1006.2" width="1" height="60.4" fill="url(#fl)" opacity="0.58"/>
<rect x="902" y="1005.3" width="1" height="61.3" fill="url(#fl)" opacity="0.17"/>
<rect x="903" y="986.8" width="1" height="79.8" fill="url(#fl)" opacity="0.58"/>
<rect x="904" y="987.5" width="1" height="79.1" fill="url(#fl)" opacity="0.58"/>
<rect x="905" y="994.8" width="1" height="71.7" fill="url(#fl)" opacity="0.58"/>
<rect x="906" y="998.7" width="1" height="67.8" fill="url(#fl)" opacity="0.58"/>
<rect x="907" y="985" width="1" height="81.6" fill="url(#fl)" opacity="0.58"/>
<rect x="908" y="996.8" width="1" height="69.8" fill="url(#fl)" opacity="0.58"/>
<rect x="909" y="980.5" width="1" height="86.1" fill="url(#fl)" opacity="0.58"/>
<rect x="910" y="998.2" width="1" height="68.3" fill="url(#fl)" opacity="0.58"/>
<rect x="911" y="988.8" width="1" height="77.8" fill="url(#fl)" opacity="0.17"/>
<rect x="912" y="987.9" width="1" height="78.7" fill="url(#fl)" opacity="0.58"/>
<rect x="913" y="989.5" width="1" height="77.1" fill="url(#fl)" opacity="0.17"/>
<rect x="914" y="998.3" width="1" height="68.3" fill="url(#fl)" opacity="0.58"/>
<rect x="915" y="984.6" width="1" height="82" fill="url(#fl)" opacity="0.58"/>
<rect x="916" y="988.5" width="1" height="78.1" fill="url(#fl)" opacity="0.58"/>
<rect x="917" y="991.6" width="1" height="75" fill="url(#fl)" opacity="0.17"/>
<rect x="918" y="987.9" width="1" height="78.7" fill="url(#fl)" opacity="0.58"/>
<rect x="919" y="998" width="1" height="68.6" fill="url(#fl)" opacity="0.58"/>
<rect x="920" y="982.1" width="1" height="84.5" fill="url(#fl)" opacity="0.58"/>
<rect x="921" y="979.9" width="1" height="86.7" fill="url(#fl)" opacity="0.58"/>
<rect x="922" y="997.7" width="1" height="68.9" fill="url(#fl)" opacity="0.58"/>
<rect x="923" y="978.8" width="1" height="87.8" fill="url(#fl)" opacity="0.79"/>
<rect x="924" y="985.2" width="1" height="81.4" fill="url(#fl)" opacity="0.58"/>
<rect x="925" y="1004.1" width="1" height="62.5" fill="url(#fl)" opacity="0.18"/>
<rect x="926" y="1001.8" width="1" height="64.8" fill="url(#fl)" opacity="0.18"/>
<rect x="927" y="989" width="1" height="77.5" fill="url(#fl)" opacity="0.18"/>
<rect x="928" y="988.7" width="1" height="77.9" fill="url(#fl)" opacity="0.79"/>
<rect x="929" y="991.1" width="1" height="75.5" fill="url(#fl)" opacity="0.59"/>
<rect x="930" y="983.5" width="1" height="83.1" fill="url(#fl)" opacity="0.59"/>
<rect x="931" y="982.3" width="1" height="84.3" fill="url(#fl)" opacity="0.59"/>
<rect x="932" y="983.7" width="1" height="82.9" fill="url(#fl)" opacity="0.18"/>
<rect x="933" y="988.8" width="1" height="77.8" fill="url(#fl)" opacity="0.59"/>
<rect x="934" y="983.5" width="1" height="83.1" fill="url(#fl)" opacity="0.59"/>
<rect x="935" y="985.5" width="1" height="81.1" fill="url(#fl)" opacity="0.18"/>
<rect x="936" y="976.7" width="1" height="89.9" fill="url(#fl)" opacity="0.59"/>
<rect x="937" y="986.6" width="1" height="80" fill="url(#fl)" opacity="0.59"/>
<rect x="938" y="991.2" width="1" height="75.4" fill="url(#fl)" opacity="0.59"/>
<rect x="939" y="990.8" width="1" height="75.8" fill="url(#fl)" opacity="0.18"/>
<rect x="940" y="987.5" width="1" height="79.1" fill="url(#fl)" opacity="0.59"/>
<rect x="941" y="978.9" width="1" height="87.7" fill="url(#fl)" opacity="0.80"/>
<rect x="942" y="976.3" width="1" height="90.3" fill="url(#fl)" opacity="0.59"/>
<rect x="943" y="973.5" width="1" height="93.1" fill="url(#fl)" opacity="0.59"/>
<rect x="944" y="990.7" width="1" height="75.9" fill="url(#fl)" opacity="0.18"/>
<rect x="945" y="977.9" width="1" height="88.7" fill="url(#fl)" opacity="0.59"/>
<rect x="946" y="981.1" width="1" height="85.5" fill="url(#fl)" opacity="0.18"/>
<rect x="947" y="997.6" width="1" height="69" fill="url(#fl)" opacity="0.59"/>
<rect x="948" y="999.3" width="1" height="67.2" fill="url(#fl)" opacity="0.18"/>
<rect x="949" y="992.8" width="1" height="73.8" fill="url(#fl)" opacity="0.59"/>
<rect x="950" y="986.3" width="1" height="80.3" fill="url(#fl)" opacity="0.18"/>
<rect x="951" y="1005" width="1" height="61.6" fill="url(#fl)" opacity="0.59"/>
<rect x="952" y="1013.9" width="1" height="52.7" fill="url(#fl)" opacity="0.18"/>
<rect x="953" y="1004" width="1" height="62.6" fill="url(#fl)" opacity="0.59"/>
<rect x="954" y="1005.2" width="1" height="61.4" fill="url(#fl)" opacity="0.59"/>
<rect x="955" y="998.9" width="1" height="67.7" fill="url(#fl)" opacity="0.18"/>
<rect x="956" y="998.2" width="1" height="68.4" fill="url(#fl)" opacity="0.18"/>
<rect x="957" y="1010.1" width="1" height="56.5" fill="url(#fl)" opacity="0.59"/>
<rect x="958" y="1011.8" width="1" height="54.8" fill="url(#fl)" opacity="0.18"/>
<rect x="959" y="1003.8" width="1" height="62.8" fill="url(#fl)" opacity="0.18"/>
<rect x="960" y="1018.9" width="1" height="47.7" fill="url(#fl)" opacity="0.59"/>
<rect x="961" y="1018.5" width="1" height="48.1" fill="url(#fl)" opacity="0.18"/>
<rect x="962" y="995.2" width="1" height="71.3" fill="url(#fl)" opacity="0.59"/>
<rect x="963" y="1002.3" width="1" height="64.2" fill="url(#fl)" opacity="0.59"/>
<rect x="964" y="996.6" width="1" height="70" fill="url(#fl)" opacity="0.59"/>
<rect x="965" y="998.6" width="1" height="68" fill="url(#fl)" opacity="0.59"/>
<rect x="966" y="998.2" width="1" height="68.4" fill="url(#fl)" opacity="0.18"/>
<rect x="967" y="998.1" width="1" height="68.5" fill="url(#fl)" opacity="0.58"/>
<rect x="968" y="984.1" width="1" height="82.5" fill="url(#fl)" opacity="0.58"/>
<rect x="969" y="997" width="1" height="69.6" fill="url(#fl)" opacity="0.58"/>
<rect x="970" y="983.4" width="1" height="83.1" fill="url(#fl)" opacity="0.17"/>
<rect x="971" y="990.6" width="1" height="76" fill="url(#fl)" opacity="0.17"/>
<rect x="972" y="999.2" width="1" height="67.4" fill="url(#fl)" opacity="0.58"/>
<rect x="973" y="994.2" width="1" height="72.4" fill="url(#fl)" opacity="0.58"/>
<rect x="974" y="991.9" width="1" height="74.7" fill="url(#fl)" opacity="0.58"/>
<rect x="975" y="990.6" width="1" height="75.9" fill="url(#fl)" opacity="0.57"/>
<rect x="976" y="999.3" width="1" height="67.2" fill="url(#fl)" opacity="0.57"/>
<rect x="977" y="981.4" width="1" height="85.1" fill="url(#fl)" opacity="0.57"/>
<rect x="978" y="993.4" width="1" height="73.2" fill="url(#fl)" opacity="0.57"/>
<rect x="979" y="996.1" width="1" height="70.5" fill="url(#fl)" opacity="0.57"/>
<rect x="980" y="999" width="1" height="67.6" fill="url(#fl)" opacity="0.57"/>
<rect x="981" y="995.2" width="1" height="71.4" fill="url(#fl)" opacity="0.57"/>
<rect x="982" y="997.9" width="1" height="68.7" fill="url(#fl)" opacity="0.56"/>
<rect x="983" y="997.8" width="1" height="68.7" fill="url(#fl)" opacity="0.17"/>
<rect x="984" y="989.7" width="1" height="76.9" fill="url(#fl)" opacity="0.56"/>
<rect x="985" y="982.8" width="1" height="83.8" fill="url(#fl)" opacity="0.56"/>
<rect x="986" y="998.8" width="1" height="67.8" fill="url(#fl)" opacity="0.55"/>
<rect x="987" y="990.1" width="1" height="76.5" fill="url(#fl)" opacity="0.54"/>
<rect x="988" y="990" width="1" height="76.6" fill="url(#fl)" opacity="0.72"/>
<rect x="989" y="1003.8" width="1" height="62.7" fill="url(#fl)" opacity="0.53"/>
<rect x="990" y="1002.8" width="1" height="63.8" fill="url(#fl)" opacity="0.52"/>
<rect x="991" y="1016" width="1" height="50.6" fill="url(#fl)" opacity="0.51"/>
<rect x="992" y="1010.8" width="1" height="55.8" fill="url(#fl)" opacity="0.50"/>
<rect x="993" y="1019.5" width="1" height="47.1" fill="url(#fl)" opacity="0.15"/>
<rect x="994" y="1012.8" width="1" height="53.8" fill="url(#fl)" opacity="0.49"/>
<rect x="995" y="1006.2" width="1" height="60.4" fill="url(#fl)" opacity="0.48"/>
<rect x="996" y="1003.2" width="1" height="63.4" fill="url(#fl)" opacity="0.14"/>
<rect x="997" y="1013" width="1" height="53.6" fill="url(#fl)" opacity="0.14"/>
<rect x="998" y="1012.8" width="1" height="53.8" fill="url(#fl)" opacity="0.45"/>
<rect x="999" y="1023.6" width="1" height="43" fill="url(#fl)" opacity="0.45"/>
<rect x="1000" y="1037.1" width="1" height="29.4" fill="url(#fl)" opacity="0.43"/>
<rect x="1001" y="1041.4" width="1" height="25.2" fill="url(#fl)" opacity="0.41"/>
<rect x="1002" y="1040.5" width="1" height="26.1" fill="url(#fl)" opacity="0.12"/>
<rect x="1003" y="1039" width="1" height="27.6" fill="url(#fl)" opacity="0.37"/>
<rect x="1004" y="1029.3" width="1" height="37.3" fill="url(#fl)" opacity="0.36"/>
<rect x="1005" y="1034.1" width="1" height="32.5" fill="url(#fl)" opacity="0.36"/>
<rect x="1006" y="1034.9" width="1" height="31.7" fill="url(#fl)" opacity="0.36"/>
<rect x="1007" y="1046" width="1" height="20.6" fill="url(#fl)" opacity="0.11"/>
<rect x="1008" y="1054.6" width="1" height="12" fill="url(#fl)" opacity="0.36"/>
<rect x="1009" y="1045" width="1" height="21.5" fill="url(#fl)" opacity="0.36"/>
<rect x="1010" y="1029.7" width="1" height="36.9" fill="url(#fl)" opacity="0.48"/>
<rect x="1011" y="1049.2" width="1" height="17.4" fill="url(#fl)" opacity="0.35"/>
<rect x="1012" y="1040.8" width="1" height="25.8" fill="url(#fl)" opacity="0.35"/>
<rect x="1013" y="1041.6" width="1" height="24.9" fill="url(#fl)" opacity="0.11"/>
<rect x="1014" y="1040.9" width="1" height="25.6" fill="url(#fl)" opacity="0.11"/>
<rect x="1015" y="1039.4" width="1" height="27.2" fill="url(#fl)" opacity="0.35"/>
<rect x="1016" y="1045.5" width="1" height="21.1" fill="url(#fl)" opacity="0.35"/>
<rect x="1017" y="1054.6" width="1" height="12" fill="url(#fl)" opacity="0.11"/>
<rect x="1018" y="1060.9" width="1" height="5.7" fill="url(#fl)" opacity="0.35"/>
<rect x="1019" y="1039.5" width="1" height="27.1" fill="url(#fl)" opacity="0.35"/>
<rect x="1020" y="1048.5" width="1" height="18.1" fill="url(#fl)" opacity="0.35"/>
<rect x="1021" y="1061.9" width="1" height="4.7" fill="url(#fl)" opacity="0.11"/>
<rect x="1022" y="1051.4" width="1" height="15.1" fill="url(#fl)" opacity="0.35"/>
<rect x="1023" y="1056.6" width="1" height="10" fill="url(#fl)" opacity="0.35"/>
<rect x="1024" y="1063.1" width="1" height="3.5" fill="url(#fl)" opacity="0.35"/>
<rect x="1025" y="1054.4" width="1" height="12.2" fill="url(#fl)" opacity="0.11"/>
<rect x="1026" y="1055.3" width="1" height="11.3" fill="url(#fl)" opacity="0.35"/>
<rect x="1027" y="1045.5" width="1" height="21.1" fill="url(#fl)" opacity="0.10"/>
<rect x="1028" y="1053.6" width="1" height="12.9" fill="url(#fl)" opacity="0.10"/>
<rect x="1029" y="1052" width="1" height="14.6" fill="url(#fl)" opacity="0.35"/>
<rect x="1030" y="1040.6" width="1" height="26" fill="url(#fl)" opacity="0.47"/>
<rect x="1031" y="1056" width="1" height="10.6" fill="url(#fl)" opacity="0.35"/>
<rect x="1032" y="1061" width="1" height="5.5" fill="url(#fl)" opacity="0.35"/>
<rect x="1034" y="1060.7" width="1" height="5.9" fill="url(#fl)" opacity="0.10"/>
<rect x="1035" y="1046.2" width="1" height="20.4" fill="url(#fl)" opacity="0.35"/>
<rect x="1036" y="1062.6" width="1" height="4" fill="url(#fl)" opacity="0.35"/>
<rect x="1037" y="1040.7" width="1" height="25.8" fill="url(#fl)" opacity="0.47"/>
<rect x="1038" y="1060.9" width="1" height="5.7" fill="url(#fl)" opacity="0.35"/>
<rect x="1039" y="1059" width="1" height="7.6" fill="url(#fl)" opacity="0.35"/>
<rect x="1040" y="1063.6" width="1" height="3" fill="url(#fl)" opacity="0.10"/>
<rect x="1041" y="1052.5" width="1" height="14.1" fill="url(#fl)" opacity="0.35"/>
<rect x="1043" y="1049.4" width="1" height="17.1" fill="url(#fl)" opacity="0.10"/>
<rect x="1044" y="1056" width="1" height="10.6" fill="url(#fl)" opacity="0.34"/>
<rect x="1045" y="1065.5" width="1" height="1.1" fill="url(#fl)" opacity="0.10"/>
<rect x="1046" y="1064.5" width="1" height="2.1" fill="url(#fl)" opacity="0.10"/>
<rect x="1047" y="1054.6" width="1" height="12" fill="url(#fl)" opacity="0.34"/>
<rect x="1049" y="1063.5" width="1" height="3.1" fill="url(#fl)" opacity="0.34"/>
<rect x="1050" y="1048.6" width="1" height="18" fill="url(#fl)" opacity="0.46"/>
<rect x="1052" y="1059.3" width="1" height="7.3" fill="url(#fl)" opacity="0.10"/>
<rect x="1055" y="1058.7" width="1" height="7.9" fill="url(#fl)" opacity="0.46"/>
<rect x="1067" y="1055.2" width="1" height="11.4" fill="url(#fl)" opacity="0.11"/>
<rect x="1098" y="1063.6" width="1" height="3" fill="url(#fl)" opacity="0.11"/>
<rect x="1114" y="1056" width="1" height="10.6" fill="url(#fl)" opacity="0.11"/>
<rect x="1123" y="1059.2" width="1" height="7.3" fill="url(#fl)" opacity="0.11"/>
<rect x="1140" y="1063" width="1" height="3.6" fill="url(#fl)" opacity="0.11"/>
<rect x="1147" y="1057.5" width="1" height="9.1" fill="url(#fl)" opacity="0.11"/>
<rect x="1157" y="1063.2" width="1" height="3.3" fill="url(#fl)" opacity="0.11"/>
<rect x="1158" y="1057.6" width="1" height="9" fill="url(#fl)" opacity="0.11"/>
<rect x="1171" y="1063.3" width="1" height="3.3" fill="url(#fl)" opacity="0.11"/>
<rect x="1193" y="1057.2" width="1" height="9.3" fill="url(#fl)" opacity="0.11"/>
<rect x="773.6" y="976" width="1.4" height="90.6" fill="#fff" opacity="0.45"/>
</g>
<rect x="737" y="1107" width="2" height="15.4" fill="#1affe5"/>
<rect x="737" y="1098.1" width="2" height="9.4" fill="#bdff42"/>
<rect x="737" y="1091.7" width="2" height="6.8" fill="#6bff94"/>
<rect x="737" y="1086.7" width="2" height="5.3" fill="#1affe5"/>
<rect x="737" y="1082.7" width="2" height="4.4" fill="#009eff"/>
<rect x="737" y="1079.3" width="2" height="3.8" fill="#00c7ff"/>
<rect x="737" y="1076.3" width="2" height="3.4" fill="#0075ff"/>
<rect x="737" y="1073.7" width="2" height="3" fill="#009eff"/>
<rect x="737" y="1071.4" width="2" height="2.7" fill="#0024ff"/>
<rect x="737" y="1069.3" width="2" height="2.5" fill="#0075ff"/>
<rect x="737" y="1067.4" width="2" height="2.3" fill="#004dff"/>
<rect x="737" y="1065.6" width="2" height="2.2" fill="#0024ff"/>
<rect x="739" y="1091.7" width="2" height="30.7" fill="#0000fa"/>
<rect x="739" y="1082.7" width="2" height="9.4" fill="#0000d1"/>
<rect x="739" y="1079.3" width="2" height="3.8" fill="#0000fa"/>
<rect x="739" y="1069.3" width="2" height="10.4" fill="#0000d1"/>
<rect x="739" y="1065.6" width="2" height="4.1" fill="#0000a8"/>
<rect x="741" y="1107" width="2" height="15.4" fill="#004dff"/>
<rect x="741" y="1098.1" width="2" height="9.4" fill="#0075ff"/>
<rect x="741" y="1091.7" width="2" height="6.8" fill="#009eff"/>
<rect x="741" y="1086.7" width="2" height="5.3" fill="#004dff"/>
<rect x="741" y="1082.7" width="2" height="4.4" fill="#0024ff"/>
<rect x="741" y="1079.3" width="2" height="3.8" fill="#004dff"/>
<rect x="741" y="1073.7" width="2" height="6" fill="#0024ff"/>
<rect x="741" y="1071.4" width="2" height="2.7" fill="#0000fa"/>
<rect x="741" y="1069.3" width="2" height="2.5" fill="#0024ff"/>
<rect x="741" y="1065.6" width="2" height="4.1" fill="#0000fa"/>
<rect x="743" y="1107" width="2" height="15.4" fill="#004dff"/>
<rect x="743" y="1098.1" width="2" height="9.4" fill="#00c7ff"/>
<rect x="743" y="1091.7" width="2" height="6.8" fill="#0075ff"/>
<rect x="743" y="1082.7" width="2" height="9.4" fill="#009eff"/>
<rect x="743" y="1079.3" width="2" height="3.8" fill="#0075ff"/>
<rect x="743" y="1076.3" width="2" height="3.4" fill="#004dff"/>
<rect x="743" y="1069.3" width="2" height="7.5" fill="#0024ff"/>
<rect x="743" y="1067.4" width="2" height="2.3" fill="#0000fa"/>
<rect x="743" y="1065.6" width="2" height="2.2" fill="#0024ff"/>
<rect x="745" y="1107" width="2" height="15.4" fill="#42ffbd"/>
<rect x="745" y="1091.7" width="2" height="15.8" fill="#1affe5"/>
<rect x="745" y="1082.7" width="2" height="9.4" fill="#00c7ff"/>
<rect x="745" y="1079.3" width="2" height="3.8" fill="#0075ff"/>
<rect x="745" y="1073.7" width="2" height="6" fill="#004dff"/>
<rect x="745" y="1071.4" width="2" height="2.7" fill="#0075ff"/>
<rect x="745" y="1065.6" width="2" height="6.2" fill="#0024ff"/>
<rect x="747" y="1107" width="2" height="15.4" fill="#1affe5"/>
<rect x="747" y="1098.1" width="2" height="9.4" fill="#e5ff1a"/>
<rect x="747" y="1091.7" width="2" height="6.8" fill="#94ff6b"/>
<rect x="747" y="1086.7" width="2" height="5.3" fill="#42ffbd"/>
<rect x="747" y="1082.7" width="2" height="4.4" fill="#00f0ff"/>
<rect x="747" y="1079.3" width="2" height="3.8" fill="#1affe5"/>
<rect x="747" y="1073.7" width="2" height="6" fill="#00c7ff"/>
<rect x="747" y="1071.4" width="2" height="2.7" fill="#00f0ff"/>
<rect x="747" y="1067.4" width="2" height="4.4" fill="#009eff"/>
<rect x="747" y="1065.6" width="2" height="2.2" fill="#0075ff"/>
<rect x="749" y="1107" width="2" height="15.4" fill="#1affe5"/>
<rect x="749" y="1098.1" width="2" height="9.4" fill="#e5ff1a"/>
<rect x="749" y="1091.7" width="2" height="6.8" fill="#00f0ff"/>
<rect x="749" y="1086.7" width="2" height="5.3" fill="#42ffbd"/>
<rect x="749" y="1082.7" width="2" height="4.4" fill="#1affe5"/>
<rect x="749" y="1073.7" width="2" height="9.4" fill="#009eff"/>
<rect x="749" y="1071.4" width="2" height="2.7" fill="#00c7ff"/>
<rect x="749" y="1069.3" width="2" height="2.5" fill="#009eff"/>
<rect x="749" y="1067.4" width="2" height="2.3" fill="#0075ff"/>
<rect x="749" y="1065.6" width="2" height="2.2" fill="#004dff"/>
<rect x="751" y="1107" width="2" height="15.4" fill="#0000fa"/>
<rect x="751" y="1098.1" width="2" height="9.4" fill="#0024ff"/>
<rect x="751" y="1086.7" width="2" height="11.7" fill="#0000fa"/>
<rect x="751" y="1082.7" width="2" height="4.4" fill="#0000d1"/>
<rect x="751" y="1079.3" width="2" height="3.8" fill="#0000fa"/>
<rect x="751" y="1073.7" width="2" height="6" fill="#0000d1"/>
<rect x="751" y="1071.4" width="2" height="2.7" fill="#0000fa"/>
<rect x="751" y="1065.6" width="2" height="6.2" fill="#0000d1"/>
<rect x="753" y="1107" width="2" height="15.4" fill="#0024ff"/>
<rect x="753" y="1098.1" width="2" height="9.4" fill="#009eff"/>
<rect x="753" y="1091.7" width="2" height="6.8" fill="#004dff"/>
<rect x="753" y="1086.7" width="2" height="5.3" fill="#009eff"/>
<rect x="753" y="1082.7" width="2" height="4.4" fill="#004dff"/>
<rect x="753" y="1076.3" width="2" height="6.8" fill="#0024ff"/>
<rect x="753" y="1073.7" width="2" height="3" fill="#004dff"/>
<rect x="753" y="1071.4" width="2" height="2.7" fill="#0000fa"/>
<rect x="753" y="1069.3" width="2" height="2.5" fill="#0024ff"/>
<rect x="753" y="1067.4" width="2" height="2.3" fill="#0000fa"/>
<rect x="753" y="1065.6" width="2" height="2.2" fill="#0000d1"/>
<rect x="755" y="1107" width="2" height="15.4" fill="#42ffbd"/>
<rect x="755" y="1098.1" width="2" height="9.4" fill="#94ff6b"/>
<rect x="755" y="1091.7" width="2" height="6.8" fill="#42ffbd"/>
<rect x="755" y="1086.7" width="2" height="5.3" fill="#00c7ff"/>
<rect x="755" y="1082.7" width="2" height="4.4" fill="#009eff"/>
<rect x="755" y="1073.7" width="2" height="9.4" fill="#0075ff"/>
<rect x="755" y="1071.4" width="2" height="2.7" fill="#00c7ff"/>
<rect x="755" y="1069.3" width="2" height="2.5" fill="#009eff"/>
<rect x="755" y="1067.4" width="2" height="2.3" fill="#004dff"/>
<rect x="755" y="1065.6" width="2" height="2.2" fill="#0075ff"/>
<rect x="757" y="1107" width="2" height="15.4" fill="#0000fa"/>
<rect x="757" y="1098.1" width="2" height="9.4" fill="#004dff"/>
<rect x="757" y="1079.3" width="2" height="19.2" fill="#0000fa"/>
<rect x="757" y="1069.3" width="2" height="10.4" fill="#0000d1"/>
<rect x="757" y="1067.4" width="2" height="2.3" fill="#0000a8"/>
<rect x="757" y="1065.6" width="2" height="2.2" fill="#0000d1"/>
<rect x="759" y="1107" width="2" height="15.4" fill="#0075ff"/>
<rect x="759" y="1098.1" width="2" height="9.4" fill="#00f0ff"/>
<rect x="759" y="1091.7" width="2" height="6.8" fill="#00c7ff"/>
<rect x="759" y="1086.7" width="2" height="5.3" fill="#009eff"/>
<rect x="759" y="1082.7" width="2" height="4.4" fill="#004dff"/>
<rect x="759" y="1076.3" width="2" height="6.8" fill="#0024ff"/>
<rect x="759" y="1073.7" width="2" height="3" fill="#004dff"/>
<rect x="759" y="1071.4" width="2" height="2.7" fill="#0024ff"/>
<rect x="759" y="1067.4" width="2" height="4.4" fill="#0000fa"/>
<rect x="759" y="1065.6" width="2" height="2.2" fill="#0024ff"/>
<rect x="761" y="1107" width="2" height="15.4" fill="#bdff42"/>
<rect x="761" y="1098.1" width="2" height="9.4" fill="#ffc700"/>
<rect x="761" y="1091.7" width="2" height="6.8" fill="#fff000"/>
<rect x="761" y="1086.7" width="2" height="5.3" fill="#00f0ff"/>
<rect x="761" y="1073.7" width="2" height="13.4" fill="#00c7ff"/>
<rect x="761" y="1071.4" width="2" height="2.7" fill="#0075ff"/>
<rect x="761" y="1067.4" width="2" height="4.4" fill="#009eff"/>
<rect x="761" y="1065.6" width="2" height="2.2" fill="#004dff"/>
<rect x="763" y="1107" width="2" height="15.4" fill="#00f0ff"/>
<rect x="763" y="1098.1" width="2" height="9.4" fill="#6bff94"/>
<rect x="763" y="1091.7" width="2" height="6.8" fill="#00f0ff"/>
<rect x="763" y="1086.7" width="2" height="5.3" fill="#0075ff"/>
<rect x="763" y="1082.7" width="2" height="4.4" fill="#004dff"/>
<rect x="763" y="1079.3" width="2" height="3.8" fill="#0075ff"/>
<rect x="763" y="1076.3" width="2" height="3.4" fill="#004dff"/>
<rect x="763" y="1073.7" width="2" height="3" fill="#0024ff"/>
<rect x="763" y="1071.4" width="2" height="2.7" fill="#0075ff"/>
<rect x="763" y="1065.6" width="2" height="6.2" fill="#0024ff"/>
<rect x="765" y="1107" width="2" height="15.4" fill="#1affe5"/>
<rect x="765" y="1098.1" width="2" height="9.4" fill="#42ffbd"/>
<rect x="765" y="1086.7" width="2" height="11.7" fill="#00c7ff"/>
<rect x="765" y="1082.7" width="2" height="4.4" fill="#0075ff"/>
<rect x="765" y="1073.7" width="2" height="9.4" fill="#004dff"/>
<rect x="765" y="1065.6" width="2" height="8.5" fill="#0024ff"/>
<rect x="767" y="1107" width="2" height="15.4" fill="#00c7ff"/>
<rect x="767" y="1098.1" width="2" height="9.4" fill="#1affe5"/>
<rect x="767" y="1091.7" width="2" height="6.8" fill="#00f0ff"/>
<rect x="767" y="1086.7" width="2" height="5.3" fill="#0075ff"/>
<rect x="767" y="1082.7" width="2" height="4.4" fill="#004dff"/>
<rect x="767" y="1076.3" width="2" height="6.8" fill="#0075ff"/>
<rect x="767" y="1067.4" width="2" height="9.4" fill="#0024ff"/>
<rect x="767" y="1065.6" width="2" height="2.2" fill="#0000fa"/>
<rect x="769" y="1107" width="2" height="15.4" fill="#0024ff"/>
<rect x="769" y="1098.1" width="2" height="9.4" fill="#00c7ff"/>
<rect x="769" y="1091.7" width="2" height="6.8" fill="#00f0ff"/>
<rect x="769" y="1086.7" width="2" height="5.3" fill="#009eff"/>
<rect x="769" y="1079.3" width="2" height="7.9" fill="#0075ff"/>
<rect x="769" y="1076.3" width="2" height="3.4" fill="#0024ff"/>
<rect x="769" y="1073.7" width="2" height="3" fill="#004dff"/>
<rect x="769" y="1065.6" width="2" height="8.5" fill="#0024ff"/>
<rect x="771" y="1107" width="2" height="15.4" fill="#42ffbd"/>
<rect x="771" y="1098.1" width="2" height="9.4" fill="#fff000"/>
<rect x="771" y="1086.7" width="2" height="11.7" fill="#1affe5"/>
<rect x="771" y="1082.7" width="2" height="4.4" fill="#009eff"/>
<rect x="771" y="1079.3" width="2" height="3.8" fill="#00c7ff"/>
<rect x="771" y="1076.3" width="2" height="3.4" fill="#00f0ff"/>
<rect x="771" y="1069.3" width="2" height="7.5" fill="#009eff"/>
<rect x="771" y="1065.6" width="2" height="4.1" fill="#0024ff"/>
<rect x="773" y="1098.1" width="2" height="24.3" fill="#ff4c00"/>
<rect x="773" y="1065.6" width="2" height="32.9" fill="#bdff42"/>
<rect x="775" y="1098.1" width="2" height="24.3" fill="#ff4c00"/>
<rect x="775" y="1065.6" width="2" height="32.9" fill="#bdff42"/>
<rect x="777" y="1107" width="2" height="15.4" fill="#00f0ff"/>
<rect x="777" y="1098.1" width="2" height="9.4" fill="#e5ff1a"/>
<rect x="777" y="1091.7" width="2" height="6.8" fill="#6bff94"/>
<rect x="777" y="1086.7" width="2" height="5.3" fill="#009eff"/>
<rect x="777" y="1082.7" width="2" height="4.4" fill="#0075ff"/>
<rect x="777" y="1079.3" width="2" height="3.8" fill="#004dff"/>
<rect x="777" y="1076.3" width="2" height="3.4" fill="#009eff"/>
<rect x="777" y="1073.7" width="2" height="3" fill="#0075ff"/>
<rect x="777" y="1071.4" width="2" height="2.7" fill="#004dff"/>
<rect x="777" y="1069.3" width="2" height="2.5" fill="#0024ff"/>
<rect x="777" y="1067.4" width="2" height="2.3" fill="#0075ff"/>
<rect x="777" y="1065.6" width="2" height="2.2" fill="#004dff"/>
<rect x="779" y="1107" width="2" height="15.4" fill="#6bff94"/>
<rect x="779" y="1098.1" width="2" height="9.4" fill="#fff000"/>
<rect x="779" y="1091.7" width="2" height="6.8" fill="#6bff94"/>
<rect x="779" y="1086.7" width="2" height="5.3" fill="#42ffbd"/>
<rect x="779" y="1082.7" width="2" height="4.4" fill="#00c7ff"/>
<rect x="779" y="1076.3" width="2" height="6.8" fill="#009eff"/>
<rect x="779" y="1071.4" width="2" height="5.3" fill="#0075ff"/>
<rect x="779" y="1069.3" width="2" height="2.5" fill="#009eff"/>
<rect x="779" y="1067.4" width="2" height="2.3" fill="#0024ff"/>
<rect x="779" y="1065.6" width="2" height="2.2" fill="#0075ff"/>
<rect x="781" y="1107" width="2" height="15.4" fill="#0075ff"/>
<rect x="781" y="1098.1" width="2" height="9.4" fill="#42ffbd"/>
<rect x="781" y="1091.7" width="2" height="6.8" fill="#1affe5"/>
<rect x="781" y="1086.7" width="2" height="5.3" fill="#00f0ff"/>
<rect x="781" y="1082.7" width="2" height="4.4" fill="#009eff"/>
<rect x="781" y="1079.3" width="2" height="3.8" fill="#00f0ff"/>
<rect x="781" y="1076.3" width="2" height="3.4" fill="#00c7ff"/>
<rect x="781" y="1069.3" width="2" height="7.5" fill="#009eff"/>
<rect x="781" y="1067.4" width="2" height="2.3" fill="#004dff"/>
<rect x="781" y="1065.6" width="2" height="2.2" fill="#0024ff"/>
<rect x="783" y="1107" width="2" height="15.4" fill="#004dff"/>
<rect x="783" y="1098.1" width="2" height="9.4" fill="#e5ff1a"/>
<rect x="783" y="1091.7" width="2" height="6.8" fill="#42ffbd"/>
<rect x="783" y="1086.7" width="2" height="5.3" fill="#00f0ff"/>
<rect x="783" y="1079.3" width="2" height="7.9" fill="#00c7ff"/>
<rect x="783" y="1076.3" width="2" height="3.4" fill="#0075ff"/>
<rect x="783" y="1073.7" width="2" height="3" fill="#004dff"/>
<rect x="783" y="1069.3" width="2" height="4.8" fill="#0075ff"/>
<rect x="783" y="1065.6" width="2" height="4.1" fill="#004dff"/>
<rect x="785" y="1107" width="2" height="15.4" fill="#0024ff"/>
<rect x="785" y="1098.1" width="2" height="9.4" fill="#004dff"/>
<rect x="785" y="1091.7" width="2" height="6.8" fill="#0000fa"/>
<rect x="785" y="1086.7" width="2" height="5.3" fill="#0024ff"/>
<rect x="785" y="1073.7" width="2" height="13.4" fill="#0000fa"/>
<rect x="785" y="1065.6" width="2" height="8.5" fill="#0000d1"/>
<rect x="787" y="1091.7" width="2" height="30.7" fill="#009eff"/>
<rect x="787" y="1086.7" width="2" height="5.3" fill="#004dff"/>
<rect x="787" y="1082.7" width="2" height="4.4" fill="#0024ff"/>
<rect x="787" y="1079.3" width="2" height="3.8" fill="#004dff"/>
<rect x="787" y="1076.3" width="2" height="3.4" fill="#0000fa"/>
<rect x="787" y="1073.7" width="2" height="3" fill="#0024ff"/>
<rect x="787" y="1071.4" width="2" height="2.7" fill="#0000fa"/>
<rect x="787" y="1069.3" width="2" height="2.5" fill="#0024ff"/>
<rect x="787" y="1067.4" width="2" height="2.3" fill="#0000fa"/>
<rect x="787" y="1065.6" width="2" height="2.2" fill="#0000d1"/>
<rect x="789" y="1107" width="2" height="15.4" fill="#004dff"/>
<rect x="789" y="1098.1" width="2" height="9.4" fill="#e5ff1a"/>
<rect x="789" y="1091.7" width="2" height="6.8" fill="#94ff6b"/>
<rect x="789" y="1086.7" width="2" height="5.3" fill="#42ffbd"/>
<rect x="789" y="1082.7" width="2" height="4.4" fill="#00f0ff"/>
<rect x="789" y="1079.3" width="2" height="3.8" fill="#00c7ff"/>
<rect x="789" y="1076.3" width="2" height="3.4" fill="#009eff"/>
<rect x="789" y="1073.7" width="2" height="3" fill="#004dff"/>
<rect x="789" y="1071.4" width="2" height="2.7" fill="#0075ff"/>
<rect x="789" y="1069.3" width="2" height="2.5" fill="#004dff"/>
<rect x="789" y="1067.4" width="2" height="2.3" fill="#0075ff"/>
<rect x="789" y="1065.6" width="2" height="2.2" fill="#0024ff"/>
<rect x="791" y="1107" width="2" height="15.4" fill="#0000fa"/>
<rect x="791" y="1098.1" width="2" height="9.4" fill="#0024ff"/>
<rect x="791" y="1091.7" width="2" height="6.8" fill="#004dff"/>
<rect x="791" y="1086.7" width="2" height="5.3" fill="#0024ff"/>
<rect x="791" y="1082.7" width="2" height="4.4" fill="#0000fa"/>
<rect x="791" y="1065.6" width="2" height="17.5" fill="#0000d1"/>
<rect x="793" y="1091.7" width="2" height="30.7" fill="#00c7ff"/>
<rect x="793" y="1082.7" width="2" height="9.4" fill="#004dff"/>
<rect x="793" y="1079.3" width="2" height="3.8" fill="#0075ff"/>
<rect x="793" y="1076.3" width="2" height="3.4" fill="#004dff"/>
<rect x="793" y="1073.7" width="2" height="3" fill="#0024ff"/>
<rect x="793" y="1067.4" width="2" height="6.8" fill="#0000fa"/>
<rect x="793" y="1065.6" width="2" height="2.2" fill="#0024ff"/>
<rect x="795" y="1107" width="2" height="15.4" fill="#0000fa"/>
<rect x="795" y="1098.1" width="2" height="9.4" fill="#004dff"/>
<rect x="795" y="1086.7" width="2" height="11.7" fill="#0024ff"/>
<rect x="795" y="1082.7" width="2" height="4.4" fill="#0000d1"/>
<rect x="795" y="1079.3" width="2" height="3.8" fill="#0000fa"/>
<rect x="795" y="1076.3" width="2" height="3.4" fill="#0000d1"/>
<rect x="795" y="1069.3" width="2" height="7.5" fill="#0000fa"/>
<rect x="795" y="1065.6" width="2" height="4.1" fill="#0000d1"/>
<rect x="797" y="1107" width="2" height="15.4" fill="#0075ff"/>
<rect x="797" y="1098.1" width="2" height="9.4" fill="#00f0ff"/>
<rect x="797" y="1091.7" width="2" height="6.8" fill="#0075ff"/>
<rect x="797" y="1086.7" width="2" height="5.3" fill="#004dff"/>
<rect x="797" y="1071.4" width="2" height="15.8" fill="#0024ff"/>
<rect x="797" y="1065.6" width="2" height="6.2" fill="#0000fa"/>
<rect x="799" y="1107" width="2" height="15.4" fill="#0024ff"/>
<rect x="799" y="1098.1" width="2" height="9.4" fill="#00c7ff"/>
<rect x="799" y="1091.7" width="2" height="6.8" fill="#0075ff"/>
<rect x="799" y="1086.7" width="2" height="5.3" fill="#004dff"/>
<rect x="799" y="1079.3" width="2" height="7.9" fill="#0075ff"/>
<rect x="799" y="1076.3" width="2" height="3.4" fill="#004dff"/>
<rect x="799" y="1071.4" width="2" height="5.3" fill="#0024ff"/>
<rect x="799" y="1069.3" width="2" height="2.5" fill="#004dff"/>
<rect x="799" y="1065.6" width="2" height="4.1" fill="#0024ff"/>
<rect x="801" y="1107" width="2" height="15.4" fill="#00f0ff"/>
<rect x="801" y="1098.1" width="2" height="9.4" fill="#009eff"/>
<rect x="801" y="1091.7" width="2" height="6.8" fill="#00f0ff"/>
<rect x="801" y="1086.7" width="2" height="5.3" fill="#009eff"/>
<rect x="801" y="1082.7" width="2" height="4.4" fill="#0075ff"/>
<rect x="801" y="1079.3" width="2" height="3.8" fill="#0024ff"/>
<rect x="801" y="1076.3" width="2" height="3.4" fill="#0075ff"/>
<rect x="801" y="1073.7" width="2" height="3" fill="#004dff"/>
<rect x="801" y="1069.3" width="2" height="4.8" fill="#0024ff"/>
<rect x="801" y="1067.4" width="2" height="2.3" fill="#004dff"/>
<rect x="801" y="1065.6" width="2" height="2.2" fill="#0024ff"/>
<rect x="803" y="1107" width="2" height="15.4" fill="#42ffbd"/>
<rect x="803" y="1091.7" width="2" height="15.8" fill="#6bff94"/>
<rect x="803" y="1086.7" width="2" height="5.3" fill="#00f0ff"/>
<rect x="803" y="1082.7" width="2" height="4.4" fill="#00c7ff"/>
<rect x="803" y="1079.3" width="2" height="3.8" fill="#009eff"/>
<rect x="803" y="1073.7" width="2" height="6" fill="#004dff"/>
<rect x="803" y="1071.4" width="2" height="2.7" fill="#0075ff"/>
<rect x="803" y="1065.6" width="2" height="6.2" fill="#004dff"/>
<rect x="805" y="1107" width="2" height="15.4" fill="#00c7ff"/>
<rect x="805" y="1098.1" width="2" height="9.4" fill="#00f0ff"/>
<rect x="805" y="1091.7" width="2" height="6.8" fill="#6bff94"/>
<rect x="805" y="1086.7" width="2" height="5.3" fill="#00f0ff"/>
<rect x="805" y="1079.3" width="2" height="7.9" fill="#009eff"/>
<rect x="805" y="1076.3" width="2" height="3.4" fill="#0075ff"/>
<rect x="805" y="1073.7" width="2" height="3" fill="#009eff"/>
<rect x="805" y="1071.4" width="2" height="2.7" fill="#0024ff"/>
<rect x="805" y="1067.4" width="2" height="4.4" fill="#004dff"/>
<rect x="805" y="1065.6" width="2" height="2.2" fill="#0024ff"/>
<rect x="807" y="1091.7" width="2" height="30.7" fill="#004dff"/>
<rect x="807" y="1073.7" width="2" height="18.4" fill="#0000fa"/>
<rect x="807" y="1065.6" width="2" height="8.5" fill="#0000d1"/>
<rect x="809" y="1107" width="2" height="15.4" fill="#42ffbd"/>
<rect x="809" y="1098.1" width="2" height="9.4" fill="#6bff94"/>
<rect x="809" y="1091.7" width="2" height="6.8" fill="#00f0ff"/>
<rect x="809" y="1086.7" width="2" height="5.3" fill="#009eff"/>
<rect x="809" y="1082.7" width="2" height="4.4" fill="#00f0ff"/>
<rect x="809" y="1079.3" width="2" height="3.8" fill="#009eff"/>
<rect x="809" y="1076.3" width="2" height="3.4" fill="#004dff"/>
<rect x="809" y="1071.4" width="2" height="5.3" fill="#009eff"/>
<rect x="809" y="1069.3" width="2" height="2.5" fill="#004dff"/>
<rect x="809" y="1065.6" width="2" height="4.1" fill="#0075ff"/>
<rect x="811" y="1107" width="2" height="15.4" fill="#004dff"/>
<rect x="811" y="1098.1" width="2" height="9.4" fill="#009eff"/>
<rect x="811" y="1091.7" width="2" height="6.8" fill="#004dff"/>
<rect x="811" y="1082.7" width="2" height="9.4" fill="#0024ff"/>
<rect x="811" y="1076.3" width="2" height="6.8" fill="#0000fa"/>
<rect x="811" y="1073.7" width="2" height="3" fill="#0024ff"/>
<rect x="811" y="1065.6" width="2" height="8.5" fill="#0000fa"/>
<rect x="813" y="1107" width="2" height="15.4" fill="#00f0ff"/>
<rect x="813" y="1098.1" width="2" height="9.4" fill="#1affe5"/>
<rect x="813" y="1091.7" width="2" height="6.8" fill="#42ffbd"/>
<rect x="813" y="1086.7" width="2" height="5.3" fill="#00f0ff"/>
<rect x="813" y="1079.3" width="2" height="7.9" fill="#00c7ff"/>
<rect x="813" y="1076.3" width="2" height="3.4" fill="#0075ff"/>
<rect x="813" y="1073.7" width="2" height="3" fill="#004dff"/>
<rect x="813" y="1071.4" width="2" height="2.7" fill="#0024ff"/>
<rect x="813" y="1069.3" width="2" height="2.5" fill="#0075ff"/>
<rect x="813" y="1065.6" width="2" height="4.1" fill="#004dff"/>
<rect x="815" y="1107" width="2" height="15.4" fill="#009eff"/>
<rect x="815" y="1098.1" width="2" height="9.4" fill="#00f0ff"/>
<rect x="815" y="1086.7" width="2" height="11.7" fill="#0075ff"/>
<rect x="815" y="1079.3" width="2" height="7.9" fill="#004dff"/>
<rect x="815" y="1076.3" width="2" height="3.4" fill="#0024ff"/>
<rect x="815" y="1073.7" width="2" height="3" fill="#004dff"/>
<rect x="815" y="1071.4" width="2" height="2.7" fill="#0000fa"/>
<rect x="815" y="1069.3" width="2" height="2.5" fill="#0024ff"/>
<rect x="815" y="1065.6" width="2" height="4.1" fill="#0000fa"/>
<rect x="817" y="1107" width="2" height="15.4" fill="#0075ff"/>
<rect x="817" y="1098.1" width="2" height="9.4" fill="#00c7ff"/>
<rect x="817" y="1091.7" width="2" height="6.8" fill="#009eff"/>
<rect x="817" y="1086.7" width="2" height="5.3" fill="#004dff"/>
<rect x="817" y="1082.7" width="2" height="4.4" fill="#0075ff"/>
<rect x="817" y="1073.7" width="2" height="9.4" fill="#004dff"/>
<rect x="817" y="1071.4" width="2" height="2.7" fill="#0024ff"/>
<rect x="817" y="1069.3" width="2" height="2.5" fill="#004dff"/>
<rect x="817" y="1067.4" width="2" height="2.3" fill="#0024ff"/>
<rect x="817" y="1065.6" width="2" height="2.2" fill="#0000fa"/>
<rect x="819" y="1098.1" width="2" height="24.3" fill="#1affe5"/>
<rect x="819" y="1091.7" width="2" height="6.8" fill="#00c7ff"/>
<rect x="819" y="1082.7" width="2" height="9.4" fill="#00f0ff"/>
<rect x="819" y="1079.3" width="2" height="3.8" fill="#009eff"/>
<rect x="819" y="1076.3" width="2" height="3.4" fill="#00c7ff"/>
<rect x="819" y="1073.7" width="2" height="3" fill="#009eff"/>
<rect x="819" y="1071.4" width="2" height="2.7" fill="#0075ff"/>
<rect x="819" y="1069.3" width="2" height="2.5" fill="#0024ff"/>
<rect x="819" y="1067.4" width="2" height="2.3" fill="#0075ff"/>
<rect x="819" y="1065.6" width="2" height="2.2" fill="#004dff"/>
<rect x="821" y="1107" width="2" height="15.4" fill="#0000d1"/>
<rect x="821" y="1098.1" width="2" height="9.4" fill="#0024ff"/>
<rect x="821" y="1086.7" width="2" height="11.7" fill="#0000fa"/>
<rect x="821" y="1082.7" width="2" height="4.4" fill="#0000d1"/>
<rect x="821" y="1076.3" width="2" height="6.8" fill="#0000fa"/>
<rect x="821" y="1065.6" width="2" height="11.2" fill="#0000d1"/>
<rect x="823" y="1107" width="2" height="15.4" fill="#00f0ff"/>
<rect x="823" y="1098.1" width="2" height="9.4" fill="#6bff94"/>
<rect x="823" y="1091.7" width="2" height="6.8" fill="#00f0ff"/>
<rect x="823" y="1086.7" width="2" height="5.3" fill="#0075ff"/>
<rect x="823" y="1082.7" width="2" height="4.4" fill="#009eff"/>
<rect x="823" y="1079.3" width="2" height="3.8" fill="#0024ff"/>
<rect x="823" y="1076.3" width="2" height="3.4" fill="#0075ff"/>
<rect x="823" y="1071.4" width="2" height="5.3" fill="#004dff"/>
<rect x="823" y="1069.3" width="2" height="2.5" fill="#0000fa"/>
<rect x="823" y="1065.6" width="2" height="4.1" fill="#004dff"/>
<rect x="825" y="1107" width="2" height="15.4" fill="#0075ff"/>
<rect x="825" y="1098.1" width="2" height="9.4" fill="#1affe5"/>
<rect x="825" y="1091.7" width="2" height="6.8" fill="#009eff"/>
<rect x="825" y="1086.7" width="2" height="5.3" fill="#0075ff"/>
<rect x="825" y="1082.7" width="2" height="4.4" fill="#009eff"/>
<rect x="825" y="1079.3" width="2" height="3.8" fill="#0024ff"/>
<rect x="825" y="1076.3" width="2" height="3.4" fill="#004dff"/>
<rect x="825" y="1073.7" width="2" height="3" fill="#0024ff"/>
<rect x="825" y="1071.4" width="2" height="2.7" fill="#004dff"/>
<rect x="825" y="1067.4" width="2" height="4.4" fill="#0024ff"/>
<rect x="825" y="1065.6" width="2" height="2.2" fill="#0000fa"/>
<rect x="827" y="1107" width="2" height="15.4" fill="#00c7ff"/>
<rect x="827" y="1091.7" width="2" height="15.8" fill="#009eff"/>
<rect x="827" y="1086.7" width="2" height="5.3" fill="#0075ff"/>
<rect x="827" y="1082.7" width="2" height="4.4" fill="#004dff"/>
<rect x="827" y="1079.3" width="2" height="3.8" fill="#0075ff"/>
<rect x="827" y="1076.3" width="2" height="3.4" fill="#0024ff"/>
<rect x="827" y="1073.7" width="2" height="3" fill="#004dff"/>
<rect x="827" y="1065.6" width="2" height="8.5" fill="#0024ff"/>
<rect x="829" y="1107" width="2" height="15.4" fill="#0000fa"/>
<rect x="829" y="1098.1" width="2" height="9.4" fill="#0075ff"/>
<rect x="829" y="1091.7" width="2" height="6.8" fill="#009eff"/>
<rect x="829" y="1086.7" width="2" height="5.3" fill="#0075ff"/>
<rect x="829" y="1082.7" width="2" height="4.4" fill="#004dff"/>
<rect x="829" y="1079.3" width="2" height="3.8" fill="#0024ff"/>
<rect x="829" y="1076.3" width="2" height="3.4" fill="#0000fa"/>
<rect x="829" y="1073.7" width="2" height="3" fill="#0024ff"/>
<rect x="829" y="1069.3" width="2" height="4.8" fill="#0000fa"/>
<rect x="829" y="1067.4" width="2" height="2.3" fill="#0000d1"/>
<rect x="829" y="1065.6" width="2" height="2.2" fill="#0000fa"/>
<rect x="831" y="1107" width="2" height="15.4" fill="#004dff"/>
<rect x="831" y="1091.7" width="2" height="15.8" fill="#009eff"/>
<rect x="831" y="1082.7" width="2" height="9.4" fill="#0075ff"/>
<rect x="831" y="1076.3" width="2" height="6.8" fill="#0024ff"/>
<rect x="831" y="1073.7" width="2" height="3" fill="#004dff"/>
<rect x="831" y="1071.4" width="2" height="2.7" fill="#0000fa"/>
<rect x="831" y="1067.4" width="2" height="4.4" fill="#0024ff"/>
<rect x="831" y="1065.6" width="2" height="2.2" fill="#0000fa"/>
<rect x="833" y="1107" width="2" height="15.4" fill="#00f0ff"/>
<rect x="833" y="1091.7" width="2" height="15.8" fill="#1affe5"/>
<rect x="833" y="1086.7" width="2" height="5.3" fill="#00c7ff"/>
<rect x="833" y="1082.7" width="2" height="4.4" fill="#00f0ff"/>
<rect x="833" y="1079.3" width="2" height="3.8" fill="#0075ff"/>
<rect x="833" y="1076.3" width="2" height="3.4" fill="#00c7ff"/>
<rect x="833" y="1073.7" width="2" height="3" fill="#009eff"/>
<rect x="833" y="1065.6" width="2" height="8.5" fill="#004dff"/>
<rect x="835" y="1107" width="2" height="15.4" fill="#00f0ff"/>
<rect x="835" y="1098.1" width="2" height="9.4" fill="#42ffbd"/>
<rect x="835" y="1086.7" width="2" height="11.7" fill="#00f0ff"/>
<rect x="835" y="1082.7" width="2" height="4.4" fill="#00c7ff"/>
<rect x="835" y="1079.3" width="2" height="3.8" fill="#009eff"/>
<rect x="835" y="1076.3" width="2" height="3.4" fill="#0075ff"/>
<rect x="835" y="1073.7" width="2" height="3" fill="#004dff"/>
<rect x="835" y="1071.4" width="2" height="2.7" fill="#0075ff"/>
<rect x="835" y="1069.3" width="2" height="2.5" fill="#004dff"/>
<rect x="835" y="1067.4" width="2" height="2.3" fill="#0075ff"/>
<rect x="835" y="1065.6" width="2" height="2.2" fill="#0024ff"/>
<rect x="837" y="1107" width="2" height="15.4" fill="#00c7ff"/>
<rect x="837" y="1098.1" width="2" height="9.4" fill="#00f0ff"/>
<rect x="837" y="1091.7" width="2" height="6.8" fill="#00c7ff"/>
<rect x="837" y="1086.7" width="2" height="5.3" fill="#009eff"/>
<rect x="837" y="1082.7" width="2" height="4.4" fill="#0075ff"/>
<rect x="837" y="1076.3" width="2" height="6.8" fill="#004dff"/>
<rect x="837" y="1073.7" width="2" height="3" fill="#0024ff"/>
<rect x="837" y="1071.4" width="2" height="2.7" fill="#0000fa"/>
<rect x="837" y="1065.6" width="2" height="6.2" fill="#0024ff"/>
<rect x="839" y="1107" width="2" height="15.4" fill="#1affe5"/>
<rect x="839" y="1098.1" width="2" height="9.4" fill="#00f0ff"/>
<rect x="839" y="1091.7" width="2" height="6.8" fill="#00c7ff"/>
<rect x="839" y="1086.7" width="2" height="5.3" fill="#0075ff"/>
<rect x="839" y="1079.3" width="2" height="7.9" fill="#009eff"/>
<rect x="839" y="1076.3" width="2" height="3.4" fill="#0075ff"/>
<rect x="839" y="1069.3" width="2" height="7.5" fill="#004dff"/>
<rect x="839" y="1067.4" width="2" height="2.3" fill="#0024ff"/>
<rect x="839" y="1065.6" width="2" height="2.2" fill="#0000fa"/>
<rect x="841" y="1107" width="2" height="15.4" fill="#00c7ff"/>
<rect x="841" y="1098.1" width="2" height="9.4" fill="#1affe5"/>
<rect x="841" y="1086.7" width="2" height="11.7" fill="#00c7ff"/>
<rect x="841" y="1082.7" width="2" height="4.4" fill="#004dff"/>
<rect x="841" y="1076.3" width="2" height="6.8" fill="#0075ff"/>
<rect x="841" y="1073.7" width="2" height="3" fill="#0024ff"/>
<rect x="841" y="1071.4" width="2" height="2.7" fill="#0000fa"/>
<rect x="841" y="1065.6" width="2" height="6.2" fill="#0024ff"/>
<rect x="843" y="1107" width="2" height="15.4" fill="#0024ff"/>
<rect x="843" y="1098.1" width="2" height="9.4" fill="#6bff94"/>
<rect x="843" y="1091.7" width="2" height="6.8" fill="#00f0ff"/>
<rect x="843" y="1086.7" width="2" height="5.3" fill="#00c7ff"/>
<rect x="843" y="1082.7" width="2" height="4.4" fill="#0075ff"/>
<rect x="843" y="1079.3" width="2" height="3.8" fill="#004dff"/>
<rect x="843" y="1076.3" width="2" height="3.4" fill="#0075ff"/>
<rect x="843" y="1073.7" width="2" height="3" fill="#004dff"/>
<rect x="843" y="1071.4" width="2" height="2.7" fill="#0075ff"/>
<rect x="843" y="1067.4" width="2" height="4.4" fill="#004dff"/>
<rect x="843" y="1065.6" width="2" height="2.2" fill="#0024ff"/>
<rect x="845" y="1107" width="2" height="15.4" fill="#009eff"/>
<rect x="845" y="1098.1" width="2" height="9.4" fill="#42ffbd"/>
<rect x="845" y="1086.7" width="2" height="11.7" fill="#00c7ff"/>
<rect x="845" y="1082.7" width="2" height="4.4" fill="#0075ff"/>
<rect x="845" y="1079.3" width="2" height="3.8" fill="#004dff"/>
<rect x="845" y="1073.7" width="2" height="6" fill="#0075ff"/>
<rect x="845" y="1069.3" width="2" height="4.8" fill="#004dff"/>
<rect x="845" y="1067.4" width="2" height="2.3" fill="#0024ff"/>
<rect x="845" y="1065.6" width="2" height="2.2" fill="#004dff"/>
<rect x="847" y="1098.1" width="2" height="24.3" fill="#42ffbd"/>
<rect x="847" y="1086.7" width="2" height="11.7" fill="#00f0ff"/>
<rect x="847" y="1082.7" width="2" height="4.4" fill="#0075ff"/>
<rect x="847" y="1079.3" width="2" height="3.8" fill="#004dff"/>
<rect x="847" y="1073.7" width="2" height="6" fill="#0075ff"/>
<rect x="847" y="1069.3" width="2" height="4.8" fill="#004dff"/>
<rect x="847" y="1067.4" width="2" height="2.3" fill="#0024ff"/>
<rect x="847" y="1065.6" width="2" height="2.2" fill="#004dff"/>
<rect x="849" y="1091.7" width="2" height="30.7" fill="#009eff"/>
<rect x="849" y="1086.7" width="2" height="5.3" fill="#0075ff"/>
<rect x="849" y="1079.3" width="2" height="7.9" fill="#004dff"/>
<rect x="849" y="1069.3" width="2" height="10.4" fill="#0000fa"/>
<rect x="849" y="1067.4" width="2" height="2.3" fill="#0024ff"/>
<rect x="849" y="1065.6" width="2" height="2.2" fill="#0000fa"/>
<rect x="851" y="1107" width="2" height="15.4" fill="#0000fa"/>
<rect x="851" y="1098.1" width="2" height="9.4" fill="#0075ff"/>
<rect x="851" y="1091.7" width="2" height="6.8" fill="#004dff"/>
<rect x="851" y="1082.7" width="2" height="9.4" fill="#0024ff"/>
<rect x="851" y="1067.4" width="2" height="15.8" fill="#0000fa"/>
<rect x="851" y="1065.6" width="2" height="2.2" fill="#0000d1"/>
<rect x="853" y="1107" width="2" height="15.4" fill="#42ffbd"/>
<rect x="853" y="1098.1" width="2" height="9.4" fill="#94ff6b"/>
<rect x="853" y="1091.7" width="2" height="6.8" fill="#bdff42"/>
<rect x="853" y="1086.7" width="2" height="5.3" fill="#42ffbd"/>
<rect x="853" y="1076.3" width="2" height="10.8" fill="#00f0ff"/>
<rect x="853" y="1073.7" width="2" height="3" fill="#00c7ff"/>
<rect x="853" y="1071.4" width="2" height="2.7" fill="#0075ff"/>
<rect x="853" y="1067.4" width="2" height="4.4" fill="#004dff"/>
<rect x="853" y="1065.6" width="2" height="2.2" fill="#009eff"/>
<rect x="855" y="1107" width="2" height="15.4" fill="#004dff"/>
<rect x="855" y="1091.7" width="2" height="15.8" fill="#0075ff"/>
<rect x="855" y="1086.7" width="2" height="5.3" fill="#004dff"/>
<rect x="855" y="1082.7" width="2" height="4.4" fill="#0000fa"/>
<rect x="855" y="1076.3" width="2" height="6.8" fill="#0024ff"/>
<rect x="855" y="1071.4" width="2" height="5.3" fill="#0000fa"/>
<rect x="855" y="1069.3" width="2" height="2.5" fill="#0000d1"/>
<rect x="855" y="1067.4" width="2" height="2.3" fill="#0000fa"/>
<rect x="855" y="1065.6" width="2" height="2.2" fill="#0000d1"/>
<rect x="857" y="1107" width="2" height="15.4" fill="#1affe5"/>
<rect x="857" y="1091.7" width="2" height="15.8" fill="#42ffbd"/>
<rect x="857" y="1086.7" width="2" height="5.3" fill="#6bff94"/>
<rect x="857" y="1082.7" width="2" height="4.4" fill="#1affe5"/>
<rect x="857" y="1079.3" width="2" height="3.8" fill="#00c7ff"/>
<rect x="857" y="1076.3" width="2" height="3.4" fill="#0075ff"/>
<rect x="857" y="1073.7" width="2" height="3" fill="#009eff"/>
<rect x="857" y="1071.4" width="2" height="2.7" fill="#0075ff"/>
<rect x="857" y="1069.3" width="2" height="2.5" fill="#004dff"/>
<rect x="857" y="1067.4" width="2" height="2.3" fill="#0024ff"/>
<rect x="857" y="1065.6" width="2" height="2.2" fill="#0075ff"/>
<rect x="859" y="1107" width="2" height="15.4" fill="#004dff"/>
<rect x="859" y="1098.1" width="2" height="9.4" fill="#00c7ff"/>
<rect x="859" y="1091.7" width="2" height="6.8" fill="#00f0ff"/>
<rect x="859" y="1079.3" width="2" height="12.8" fill="#0075ff"/>
<rect x="859" y="1076.3" width="2" height="3.4" fill="#0024ff"/>
<rect x="859" y="1071.4" width="2" height="5.3" fill="#004dff"/>
<rect x="859" y="1065.6" width="2" height="6.2" fill="#0024ff"/>
<rect x="861" y="1107" width="2" height="15.4" fill="#1affe5"/>
<rect x="861" y="1098.1" width="2" height="9.4" fill="#ff9e00"/>
<rect x="861" y="1086.7" width="2" height="11.7" fill="#6bff94"/>
<rect x="861" y="1082.7" width="2" height="4.4" fill="#1affe5"/>
<rect x="861" y="1079.3" width="2" height="3.8" fill="#00c7ff"/>
<rect x="861" y="1076.3" width="2" height="3.4" fill="#009eff"/>
<rect x="861" y="1073.7" width="2" height="3" fill="#00c7ff"/>
<rect x="861" y="1071.4" width="2" height="2.7" fill="#0075ff"/>
<rect x="861" y="1069.3" width="2" height="2.5" fill="#009eff"/>
<rect x="861" y="1067.4" width="2" height="2.3" fill="#0075ff"/>
<rect x="861" y="1065.6" width="2" height="2.2" fill="#009eff"/>
<rect x="863" y="1107" width="2" height="15.4" fill="#0000fa"/>
<rect x="863" y="1098.1" width="2" height="9.4" fill="#004dff"/>
<rect x="863" y="1091.7" width="2" height="6.8" fill="#0024ff"/>
<rect x="863" y="1076.3" width="2" height="15.8" fill="#0000fa"/>
<rect x="863" y="1065.6" width="2" height="11.2" fill="#0000d1"/>
<rect x="865" y="1091.7" width="2" height="30.7" fill="#0024ff"/>
<rect x="865" y="1082.7" width="2" height="9.4" fill="#0000fa"/>
<rect x="865" y="1071.4" width="2" height="11.7" fill="#0000d1"/>
<rect x="865" y="1067.4" width="2" height="4.4" fill="#0000a8"/>
<rect x="865" y="1065.6" width="2" height="2.2" fill="#0000d1"/>
<rect x="867" y="1107" width="2" height="15.4" fill="#00c7ff"/>
<rect x="867" y="1098.1" width="2" height="9.4" fill="#1affe5"/>
<rect x="867" y="1082.7" width="2" height="15.8" fill="#009eff"/>
<rect x="867" y="1079.3" width="2" height="3.8" fill="#0024ff"/>
<rect x="867" y="1076.3" width="2" height="3.4" fill="#0075ff"/>
<rect x="867" y="1073.7" width="2" height="3" fill="#0024ff"/>
<rect x="867" y="1069.3" width="2" height="4.8" fill="#004dff"/>
<rect x="867" y="1067.4" width="2" height="2.3" fill="#0024ff"/>
<rect x="867" y="1065.6" width="2" height="2.2" fill="#0000fa"/>
<rect x="869" y="1107" width="2" height="15.4" fill="#004dff"/>
<rect x="869" y="1098.1" width="2" height="9.4" fill="#0075ff"/>
<rect x="869" y="1091.7" width="2" height="6.8" fill="#004dff"/>
<rect x="869" y="1082.7" width="2" height="9.4" fill="#0024ff"/>
<rect x="869" y="1073.7" width="2" height="9.4" fill="#0000fa"/>
<rect x="869" y="1069.3" width="2" height="4.8" fill="#0000d1"/>
<rect x="869" y="1065.6" width="2" height="4.1" fill="#0000fa"/>
<rect x="871" y="1107" width="2" height="15.4" fill="#0075ff"/>
<rect x="871" y="1098.1" width="2" height="9.4" fill="#1affe5"/>
<rect x="871" y="1091.7" width="2" height="6.8" fill="#0075ff"/>
<rect x="871" y="1086.7" width="2" height="5.3" fill="#004dff"/>
<rect x="871" y="1082.7" width="2" height="4.4" fill="#0024ff"/>
<rect x="871" y="1079.3" width="2" height="3.8" fill="#004dff"/>
<rect x="871" y="1076.3" width="2" height="3.4" fill="#0024ff"/>
<rect x="871" y="1073.7" width="2" height="3" fill="#004dff"/>
<rect x="871" y="1065.6" width="2" height="8.5" fill="#0024ff"/>
<rect x="873" y="1107" width="2" height="15.4" fill="#42ffbd"/>
<rect x="873" y="1098.1" width="2" height="9.4" fill="#6bff94"/>
<rect x="873" y="1091.7" width="2" height="6.8" fill="#94ff6b"/>
<rect x="873" y="1076.3" width="2" height="15.8" fill="#00c7ff"/>
<rect x="873" y="1067.4" width="2" height="9.4" fill="#0075ff"/>
<rect x="873" y="1065.6" width="2" height="2.2" fill="#0024ff"/>
<rect x="875" y="1107" width="2" height="15.4" fill="#00c7ff"/>
<rect x="875" y="1091.7" width="2" height="15.8" fill="#00f0ff"/>
<rect x="875" y="1086.7" width="2" height="5.3" fill="#00c7ff"/>
<rect x="875" y="1082.7" width="2" height="4.4" fill="#0075ff"/>
<rect x="875" y="1069.3" width="2" height="13.8" fill="#004dff"/>
<rect x="875" y="1065.6" width="2" height="4.1" fill="#0024ff"/>
<rect x="877" y="1107" width="2" height="15.4" fill="#0024ff"/>
<rect x="877" y="1091.7" width="2" height="15.8" fill="#0000fa"/>
<rect x="877" y="1069.3" width="2" height="22.8" fill="#0000d1"/>
<rect x="877" y="1065.6" width="2" height="4.1" fill="#0000a8"/>
<rect x="879" y="1107" width="2" height="15.4" fill="#0075ff"/>
<rect x="879" y="1098.1" width="2" height="9.4" fill="#00f0ff"/>
<rect x="879" y="1091.7" width="2" height="6.8" fill="#1affe5"/>
<rect x="879" y="1086.7" width="2" height="5.3" fill="#009eff"/>
<rect x="879" y="1082.7" width="2" height="4.4" fill="#0075ff"/>
<rect x="879" y="1079.3" width="2" height="3.8" fill="#009eff"/>
<rect x="879" y="1071.4" width="2" height="8.3" fill="#004dff"/>
<rect x="879" y="1069.3" width="2" height="2.5" fill="#0024ff"/>
<rect x="879" y="1067.4" width="2" height="2.3" fill="#004dff"/>
<rect x="879" y="1065.6" width="2" height="2.2" fill="#0000fa"/>
<rect x="881" y="1107" width="2" height="15.4" fill="#6bff94"/>
<rect x="881" y="1098.1" width="2" height="9.4" fill="#ff9e00"/>
<rect x="881" y="1091.7" width="2" height="6.8" fill="#e5ff1a"/>
<rect x="881" y="1086.7" width="2" height="5.3" fill="#6bff94"/>
<rect x="881" y="1082.7" width="2" height="4.4" fill="#42ffbd"/>
<rect x="881" y="1079.3" width="2" height="3.8" fill="#00c7ff"/>
<rect x="881" y="1076.3" width="2" height="3.4" fill="#009eff"/>
<rect x="881" y="1071.4" width="2" height="5.3" fill="#0075ff"/>
<rect x="881" y="1069.3" width="2" height="2.5" fill="#009eff"/>
<rect x="881" y="1067.4" width="2" height="2.3" fill="#0075ff"/>
<rect x="881" y="1065.6" width="2" height="2.2" fill="#009eff"/>
<rect x="883" y="1107" width="2" height="15.4" fill="#00c7ff"/>
<rect x="883" y="1098.1" width="2" height="9.4" fill="#6bff94"/>
<rect x="883" y="1091.7" width="2" height="6.8" fill="#00c7ff"/>
<rect x="883" y="1086.7" width="2" height="5.3" fill="#0075ff"/>
<rect x="883" y="1076.3" width="2" height="10.8" fill="#009eff"/>
<rect x="883" y="1071.4" width="2" height="5.3" fill="#0075ff"/>
<rect x="883" y="1065.6" width="2" height="6.2" fill="#004dff"/>
<rect x="885" y="1107" width="2" height="15.4" fill="#bdff42"/>
<rect x="885" y="1098.1" width="2" height="9.4" fill="#fff000"/>
<rect x="885" y="1091.7" width="2" height="6.8" fill="#1affe5"/>
<rect x="885" y="1086.7" width="2" height="5.3" fill="#00f0ff"/>
<rect x="885" y="1079.3" width="2" height="7.9" fill="#1affe5"/>
<rect x="885" y="1076.3" width="2" height="3.4" fill="#0075ff"/>
<rect x="885" y="1073.7" width="2" height="3" fill="#009eff"/>
<rect x="885" y="1069.3" width="2" height="4.8" fill="#00c7ff"/>
<rect x="885" y="1065.6" width="2" height="4.1" fill="#004dff"/>
<rect x="887" y="1107" width="2" height="15.4" fill="#0075ff"/>
<rect x="887" y="1098.1" width="2" height="9.4" fill="#1affe5"/>
<rect x="887" y="1082.7" width="2" height="15.8" fill="#009eff"/>
<rect x="887" y="1076.3" width="2" height="6.8" fill="#004dff"/>
<rect x="887" y="1071.4" width="2" height="5.3" fill="#0024ff"/>
<rect x="887" y="1067.4" width="2" height="4.4" fill="#0000fa"/>
<rect x="887" y="1065.6" width="2" height="2.2" fill="#0024ff"/>
<rect x="889" y="1107" width="2" height="15.4" fill="#0024ff"/>
<rect x="889" y="1098.1" width="2" height="9.4" fill="#004dff"/>
<rect x="889" y="1091.7" width="2" height="6.8" fill="#0024ff"/>
<rect x="889" y="1082.7" width="2" height="9.4" fill="#0000fa"/>
<rect x="889" y="1065.6" width="2" height="17.5" fill="#0000d1"/>
<rect x="891" y="1107" width="2" height="15.4" fill="#0075ff"/>
<rect x="891" y="1098.1" width="2" height="9.4" fill="#bdff42"/>
<rect x="891" y="1091.7" width="2" height="6.8" fill="#00f0ff"/>
<rect x="891" y="1086.7" width="2" height="5.3" fill="#1affe5"/>
<rect x="891" y="1079.3" width="2" height="7.9" fill="#0075ff"/>
<rect x="891" y="1073.7" width="2" height="6" fill="#009eff"/>
<rect x="891" y="1071.4" width="2" height="2.7" fill="#004dff"/>
<rect x="891" y="1069.3" width="2" height="2.5" fill="#0024ff"/>
<rect x="891" y="1067.4" width="2" height="2.3" fill="#004dff"/>
<rect x="891" y="1065.6" width="2" height="2.2" fill="#0075ff"/>
<rect x="893" y="1107" width="2" height="15.4" fill="#0024ff"/>
<rect x="893" y="1098.1" width="2" height="9.4" fill="#0075ff"/>
<rect x="893" y="1091.7" width="2" height="6.8" fill="#004dff"/>
<rect x="893" y="1086.7" width="2" height="5.3" fill="#0024ff"/>
<rect x="893" y="1073.7" width="2" height="13.4" fill="#0000fa"/>
<rect x="893" y="1071.4" width="2" height="2.7" fill="#0000d1"/>
<rect x="893" y="1069.3" width="2" height="2.5" fill="#0000fa"/>
<rect x="893" y="1065.6" width="2" height="4.1" fill="#0000d1"/>
<rect x="895" y="1107" width="2" height="15.4" fill="#bdff42"/>
<rect x="895" y="1098.1" width="2" height="9.4" fill="#ffc700"/>
<rect x="895" y="1091.7" width="2" height="6.8" fill="#6bff94"/>
<rect x="895" y="1086.7" width="2" height="5.3" fill="#bdff42"/>
<rect x="895" y="1082.7" width="2" height="4.4" fill="#6bff94"/>
<rect x="895" y="1079.3" width="2" height="3.8" fill="#00f0ff"/>
<rect x="895" y="1076.3" width="2" height="3.4" fill="#42ffbd"/>
<rect x="895" y="1073.7" width="2" height="3" fill="#009eff"/>
<rect x="895" y="1067.4" width="2" height="6.8" fill="#00c7ff"/>
<rect x="895" y="1065.6" width="2" height="2.2" fill="#009eff"/>
<rect x="897" y="1107" width="2" height="15.4" fill="#42ffbd"/>
<rect x="897" y="1091.7" width="2" height="15.8" fill="#94ff6b"/>
<rect x="897" y="1086.7" width="2" height="5.3" fill="#42ffbd"/>
<rect x="897" y="1082.7" width="2" height="4.4" fill="#00f0ff"/>
<rect x="897" y="1079.3" width="2" height="3.8" fill="#009eff"/>
<rect x="897" y="1076.3" width="2" height="3.4" fill="#00c7ff"/>
<rect x="897" y="1073.7" width="2" height="3" fill="#0075ff"/>
<rect x="897" y="1071.4" width="2" height="2.7" fill="#004dff"/>
<rect x="897" y="1069.3" width="2" height="2.5" fill="#0075ff"/>
<rect x="897" y="1067.4" width="2" height="2.3" fill="#004dff"/>
<rect x="897" y="1065.6" width="2" height="2.2" fill="#0075ff"/>
<rect x="899" y="1107" width="2" height="15.4" fill="#00f0ff"/>
<rect x="899" y="1098.1" width="2" height="9.4" fill="#ff7500"/>
<rect x="899" y="1091.7" width="2" height="6.8" fill="#ff9e00"/>
<rect x="899" y="1086.7" width="2" height="5.3" fill="#bdff42"/>
<rect x="899" y="1082.7" width="2" height="4.4" fill="#42ffbd"/>
<rect x="899" y="1079.3" width="2" height="3.8" fill="#00f0ff"/>
<rect x="899" y="1076.3" width="2" height="3.4" fill="#42ffbd"/>
<rect x="899" y="1073.7" width="2" height="3" fill="#009eff"/>
<rect x="899" y="1071.4" width="2" height="2.7" fill="#00f0ff"/>
<rect x="899" y="1065.6" width="2" height="6.2" fill="#009eff"/>
<rect x="901" y="1107" width="2" height="15.4" fill="#94ff6b"/>
<rect x="901" y="1098.1" width="2" height="9.4" fill="#ff4c00"/>
<rect x="901" y="1091.7" width="2" height="6.8" fill="#94ff6b"/>
<rect x="901" y="1086.7" width="2" height="5.3" fill="#42ffbd"/>
<rect x="901" y="1082.7" width="2" height="4.4" fill="#6bff94"/>
<rect x="901" y="1079.3" width="2" height="3.8" fill="#94ff6b"/>
<rect x="901" y="1073.7" width="2" height="6" fill="#42ffbd"/>
<rect x="901" y="1071.4" width="2" height="2.7" fill="#009eff"/>
<rect x="901" y="1069.3" width="2" height="2.5" fill="#00c7ff"/>
<rect x="901" y="1067.4" width="2" height="2.3" fill="#00f0ff"/>
<rect x="901" y="1065.6" width="2" height="2.2" fill="#00c7ff"/>
<rect x="903" y="1107" width="2" height="15.4" fill="#0000fa"/>
<rect x="903" y="1098.1" width="2" height="9.4" fill="#1affe5"/>
<rect x="903" y="1091.7" width="2" height="6.8" fill="#009eff"/>
<rect x="903" y="1079.3" width="2" height="12.8" fill="#0075ff"/>
<rect x="903" y="1071.4" width="2" height="8.3" fill="#0000fa"/>
<rect x="903" y="1067.4" width="2" height="4.4" fill="#0024ff"/>
<rect x="903" y="1065.6" width="2" height="2.2" fill="#0000fa"/>
<rect x="905" y="1107" width="2" height="15.4" fill="#009eff"/>
<rect x="905" y="1086.7" width="2" height="20.7" fill="#94ff6b"/>
<rect x="905" y="1082.7" width="2" height="4.4" fill="#00f0ff"/>
<rect x="905" y="1079.3" width="2" height="3.8" fill="#1affe5"/>
<rect x="905" y="1076.3" width="2" height="3.4" fill="#009eff"/>
<rect x="905" y="1073.7" width="2" height="3" fill="#00c7ff"/>
<rect x="905" y="1071.4" width="2" height="2.7" fill="#0075ff"/>
<rect x="905" y="1069.3" width="2" height="2.5" fill="#004dff"/>
<rect x="905" y="1067.4" width="2" height="2.3" fill="#009eff"/>
<rect x="905" y="1065.6" width="2" height="2.2" fill="#0075ff"/>
<rect x="907" y="1107" width="2" height="15.4" fill="#6bff94"/>
<rect x="907" y="1098.1" width="2" height="9.4" fill="#94ff6b"/>
<rect x="907" y="1091.7" width="2" height="6.8" fill="#42ffbd"/>
<rect x="907" y="1082.7" width="2" height="9.4" fill="#00f0ff"/>
<rect x="907" y="1079.3" width="2" height="3.8" fill="#00c7ff"/>
<rect x="907" y="1073.7" width="2" height="6" fill="#0075ff"/>
<rect x="907" y="1071.4" width="2" height="2.7" fill="#004dff"/>
<rect x="907" y="1069.3" width="2" height="2.5" fill="#009eff"/>
<rect x="907" y="1067.4" width="2" height="2.3" fill="#0024ff"/>
<rect x="907" y="1065.6" width="2" height="2.2" fill="#004dff"/>
<rect x="909" y="1107" width="2" height="15.4" fill="#42ffbd"/>
<rect x="909" y="1098.1" width="2" height="9.4" fill="#00f0ff"/>
<rect x="909" y="1091.7" width="2" height="6.8" fill="#42ffbd"/>
<rect x="909" y="1086.7" width="2" height="5.3" fill="#00f0ff"/>
<rect x="909" y="1079.3" width="2" height="7.9" fill="#0075ff"/>
<rect x="909" y="1076.3" width="2" height="3.4" fill="#009eff"/>
<rect x="909" y="1071.4" width="2" height="5.3" fill="#004dff"/>
<rect x="909" y="1069.3" width="2" height="2.5" fill="#0024ff"/>
<rect x="909" y="1067.4" width="2" height="2.3" fill="#0075ff"/>
<rect x="909" y="1065.6" width="2" height="2.2" fill="#004dff"/>
<rect x="911" y="1107" width="2" height="15.4" fill="#00c7ff"/>
<rect x="911" y="1098.1" width="2" height="9.4" fill="#42ffbd"/>
<rect x="911" y="1091.7" width="2" height="6.8" fill="#6bff94"/>
<rect x="911" y="1086.7" width="2" height="5.3" fill="#009eff"/>
<rect x="911" y="1082.7" width="2" height="4.4" fill="#00f0ff"/>
<rect x="911" y="1079.3" width="2" height="3.8" fill="#004dff"/>
<rect x="911" y="1076.3" width="2" height="3.4" fill="#0075ff"/>
<rect x="911" y="1073.7" width="2" height="3" fill="#009eff"/>
<rect x="911" y="1071.4" width="2" height="2.7" fill="#0075ff"/>
<rect x="911" y="1067.4" width="2" height="4.4" fill="#004dff"/>
<rect x="911" y="1065.6" width="2" height="2.2" fill="#0024ff"/>
<rect x="913" y="1091.7" width="2" height="30.7" fill="#42ffbd"/>
<rect x="913" y="1086.7" width="2" height="5.3" fill="#1affe5"/>
<rect x="913" y="1079.3" width="2" height="7.9" fill="#009eff"/>
<rect x="913" y="1069.3" width="2" height="10.4" fill="#0075ff"/>
<rect x="913" y="1067.4" width="2" height="2.3" fill="#004dff"/>
<rect x="913" y="1065.6" width="2" height="2.2" fill="#0075ff"/>
<rect x="915" y="1107" width="2" height="15.4" fill="#42ffbd"/>
<rect x="915" y="1098.1" width="2" height="9.4" fill="#fff000"/>
<rect x="915" y="1091.7" width="2" height="6.8" fill="#6bff94"/>
<rect x="915" y="1086.7" width="2" height="5.3" fill="#1affe5"/>
<rect x="915" y="1079.3" width="2" height="7.9" fill="#00f0ff"/>
<rect x="915" y="1076.3" width="2" height="3.4" fill="#00c7ff"/>
<rect x="915" y="1073.7" width="2" height="3" fill="#009eff"/>
<rect x="915" y="1071.4" width="2" height="2.7" fill="#004dff"/>
<rect x="915" y="1069.3" width="2" height="2.5" fill="#0075ff"/>
<rect x="915" y="1067.4" width="2" height="2.3" fill="#004dff"/>
<rect x="915" y="1065.6" width="2" height="2.2" fill="#0024ff"/>
<rect x="917" y="1107" width="2" height="15.4" fill="#42ffbd"/>
<rect x="917" y="1098.1" width="2" height="9.4" fill="#94ff6b"/>
<rect x="917" y="1091.7" width="2" height="6.8" fill="#e5ff1a"/>
<rect x="917" y="1082.7" width="2" height="9.4" fill="#1affe5"/>
<rect x="917" y="1079.3" width="2" height="3.8" fill="#009eff"/>
<rect x="917" y="1076.3" width="2" height="3.4" fill="#00c7ff"/>
<rect x="917" y="1073.7" width="2" height="3" fill="#009eff"/>
<rect x="917" y="1071.4" width="2" height="2.7" fill="#0075ff"/>
<rect x="917" y="1069.3" width="2" height="2.5" fill="#00c7ff"/>
<rect x="917" y="1065.6" width="2" height="4.1" fill="#0075ff"/>
<rect x="919" y="1107" width="2" height="15.4" fill="#42ffbd"/>
<rect x="919" y="1098.1" width="2" height="9.4" fill="#fff000"/>
<rect x="919" y="1091.7" width="2" height="6.8" fill="#bdff42"/>
<rect x="919" y="1079.3" width="2" height="12.8" fill="#00c7ff"/>
<rect x="919" y="1076.3" width="2" height="3.4" fill="#00f0ff"/>
<rect x="919" y="1071.4" width="2" height="5.3" fill="#004dff"/>
<rect x="919" y="1069.3" width="2" height="2.5" fill="#009eff"/>
<rect x="919" y="1067.4" width="2" height="2.3" fill="#004dff"/>
<rect x="919" y="1065.6" width="2" height="2.2" fill="#0075ff"/>
<rect x="921" y="1098.1" width="2" height="24.3" fill="#0075ff"/>
<rect x="921" y="1091.7" width="2" height="6.8" fill="#004dff"/>
<rect x="921" y="1082.7" width="2" height="9.4" fill="#0024ff"/>
<rect x="921" y="1079.3" width="2" height="3.8" fill="#0000fa"/>
<rect x="921" y="1076.3" width="2" height="3.4" fill="#0024ff"/>
<rect x="921" y="1073.7" width="2" height="3" fill="#0000d1"/>
<rect x="921" y="1067.4" width="2" height="6.8" fill="#0000fa"/>
<rect x="921" y="1065.6" width="2" height="2.2" fill="#0000d1"/>
<rect x="923" y="1107" width="2" height="15.4" fill="#009eff"/>
<rect x="923" y="1098.1" width="2" height="9.4" fill="#ff7500"/>
<rect x="923" y="1091.7" width="2" height="6.8" fill="#ff4c00"/>
<rect x="923" y="1086.7" width="2" height="5.3" fill="#e5ff1a"/>
<rect x="923" y="1082.7" width="2" height="4.4" fill="#94ff6b"/>
<rect x="923" y="1079.3" width="2" height="3.8" fill="#42ffbd"/>
<rect x="923" y="1076.3" width="2" height="3.4" fill="#6bff94"/>
<rect x="923" y="1073.7" width="2" height="3" fill="#42ffbd"/>
<rect x="923" y="1071.4" width="2" height="2.7" fill="#00c7ff"/>
<rect x="923" y="1069.3" width="2" height="2.5" fill="#00f0ff"/>
<rect x="923" y="1067.4" width="2" height="2.3" fill="#0075ff"/>
<rect x="923" y="1065.6" width="2" height="2.2" fill="#009eff"/>
<rect x="925" y="1107" width="2" height="15.4" fill="#1affe5"/>
<rect x="925" y="1098.1" width="2" height="9.4" fill="#bdff42"/>
<rect x="925" y="1091.7" width="2" height="6.8" fill="#6bff94"/>
<rect x="925" y="1086.7" width="2" height="5.3" fill="#1affe5"/>
<rect x="925" y="1082.7" width="2" height="4.4" fill="#009eff"/>
<rect x="925" y="1079.3" width="2" height="3.8" fill="#0075ff"/>
<rect x="925" y="1076.3" width="2" height="3.4" fill="#004dff"/>
<rect x="925" y="1073.7" width="2" height="3" fill="#009eff"/>
<rect x="925" y="1071.4" width="2" height="2.7" fill="#0075ff"/>
<rect x="925" y="1069.3" width="2" height="2.5" fill="#009eff"/>
<rect x="925" y="1067.4" width="2" height="2.3" fill="#0075ff"/>
<rect x="925" y="1065.6" width="2" height="2.2" fill="#0024ff"/>
<rect x="927" y="1107" width="2" height="15.4" fill="#e5ff1a"/>
<rect x="927" y="1098.1" width="2" height="9.4" fill="#ff4c00"/>
<rect x="927" y="1091.7" width="2" height="6.8" fill="#ff9e00"/>
<rect x="927" y="1086.7" width="2" height="5.3" fill="#bdff42"/>
<rect x="927" y="1082.7" width="2" height="4.4" fill="#94ff6b"/>
<rect x="927" y="1079.3" width="2" height="3.8" fill="#42ffbd"/>
<rect x="927" y="1076.3" width="2" height="3.4" fill="#009eff"/>
<rect x="927" y="1073.7" width="2" height="3" fill="#00c7ff"/>
<rect x="927" y="1071.4" width="2" height="2.7" fill="#009eff"/>
<rect x="927" y="1069.3" width="2" height="2.5" fill="#00c7ff"/>
<rect x="927" y="1067.4" width="2" height="2.3" fill="#0075ff"/>
<rect x="927" y="1065.6" width="2" height="2.2" fill="#004dff"/>
<rect x="929" y="1107" width="2" height="15.4" fill="#42ffbd"/>
<rect x="929" y="1098.1" width="2" height="9.4" fill="#e5ff1a"/>
<rect x="929" y="1091.7" width="2" height="6.8" fill="#1affe5"/>
<rect x="929" y="1086.7" width="2" height="5.3" fill="#6bff94"/>
<rect x="929" y="1082.7" width="2" height="4.4" fill="#00f0ff"/>
<rect x="929" y="1079.3" width="2" height="3.8" fill="#009eff"/>
<rect x="929" y="1073.7" width="2" height="6" fill="#0075ff"/>
<rect x="929" y="1071.4" width="2" height="2.7" fill="#00c7ff"/>
<rect x="929" y="1067.4" width="2" height="4.4" fill="#009eff"/>
<rect x="929" y="1065.6" width="2" height="2.2" fill="#004dff"/>
<rect x="931" y="1107" width="2" height="15.4" fill="#1affe5"/>
<rect x="931" y="1098.1" width="2" height="9.4" fill="#ff4c00"/>
<rect x="931" y="1091.7" width="2" height="6.8" fill="#94ff6b"/>
<rect x="931" y="1086.7" width="2" height="5.3" fill="#bdff42"/>
<rect x="931" y="1082.7" width="2" height="4.4" fill="#e5ff1a"/>
<rect x="931" y="1073.7" width="2" height="9.4" fill="#00f0ff"/>
<rect x="931" y="1071.4" width="2" height="2.7" fill="#00c7ff"/>
<rect x="931" y="1069.3" width="2" height="2.5" fill="#1affe5"/>
<rect x="931" y="1067.4" width="2" height="2.3" fill="#00f0ff"/>
<rect x="931" y="1065.6" width="2" height="2.2" fill="#009eff"/>
<rect x="933" y="1107" width="2" height="15.4" fill="#0024ff"/>
<rect x="933" y="1086.7" width="2" height="20.7" fill="#00f0ff"/>
<rect x="933" y="1082.7" width="2" height="4.4" fill="#00c7ff"/>
<rect x="933" y="1079.3" width="2" height="3.8" fill="#0075ff"/>
<rect x="933" y="1076.3" width="2" height="3.4" fill="#004dff"/>
<rect x="933" y="1073.7" width="2" height="3" fill="#0024ff"/>
<rect x="933" y="1071.4" width="2" height="2.7" fill="#0075ff"/>
<rect x="933" y="1069.3" width="2" height="2.5" fill="#0024ff"/>
<rect x="933" y="1065.6" width="2" height="4.1" fill="#004dff"/>
<rect x="935" y="1107" width="2" height="15.4" fill="#42ffbd"/>
<rect x="935" y="1098.1" width="2" height="9.4" fill="#bdff42"/>
<rect x="935" y="1091.7" width="2" height="6.8" fill="#6bff94"/>
<rect x="935" y="1086.7" width="2" height="5.3" fill="#00c7ff"/>
<rect x="935" y="1082.7" width="2" height="4.4" fill="#1affe5"/>
<rect x="935" y="1079.3" width="2" height="3.8" fill="#00f0ff"/>
<rect x="935" y="1076.3" width="2" height="3.4" fill="#0075ff"/>
<rect x="935" y="1071.4" width="2" height="5.3" fill="#00c7ff"/>
<rect x="935" y="1069.3" width="2" height="2.5" fill="#0075ff"/>
<rect x="935" y="1067.4" width="2" height="2.3" fill="#004dff"/>
<rect x="935" y="1065.6" width="2" height="2.2" fill="#0075ff"/>
<rect x="937" y="1107" width="2" height="15.4" fill="#42ffbd"/>
<rect x="937" y="1098.1" width="2" height="9.4" fill="#6bff94"/>
<rect x="937" y="1091.7" width="2" height="6.8" fill="#94ff6b"/>
<rect x="937" y="1082.7" width="2" height="9.4" fill="#00c7ff"/>
<rect x="937" y="1079.3" width="2" height="3.8" fill="#00f0ff"/>
<rect x="937" y="1076.3" width="2" height="3.4" fill="#0075ff"/>
<rect x="937" y="1071.4" width="2" height="5.3" fill="#00c7ff"/>
<rect x="937" y="1069.3" width="2" height="2.5" fill="#004dff"/>
<rect x="937" y="1067.4" width="2" height="2.3" fill="#009eff"/>
<rect x="937" y="1065.6" width="2" height="2.2" fill="#004dff"/>
<rect x="939" y="1107" width="2" height="15.4" fill="#94ff6b"/>
<rect x="939" y="1098.1" width="2" height="9.4" fill="#ff7500"/>
<rect x="939" y="1091.7" width="2" height="6.8" fill="#ff9e00"/>
<rect x="939" y="1086.7" width="2" height="5.3" fill="#bdff42"/>
<rect x="939" y="1082.7" width="2" height="4.4" fill="#6bff94"/>
<rect x="939" y="1079.3" width="2" height="3.8" fill="#1affe5"/>
<rect x="939" y="1076.3" width="2" height="3.4" fill="#00f0ff"/>
<rect x="939" y="1073.7" width="2" height="3" fill="#42ffbd"/>
<rect x="939" y="1067.4" width="2" height="6.8" fill="#00f0ff"/>
<rect x="939" y="1065.6" width="2" height="2.2" fill="#009eff"/>
<rect x="941" y="1107" width="2" height="15.4" fill="#00f0ff"/>
<rect x="941" y="1098.1" width="2" height="9.4" fill="#1affe5"/>
<rect x="941" y="1091.7" width="2" height="6.8" fill="#94ff6b"/>
<rect x="941" y="1086.7" width="2" height="5.3" fill="#42ffbd"/>
<rect x="941" y="1082.7" width="2" height="4.4" fill="#1affe5"/>
<rect x="941" y="1079.3" width="2" height="3.8" fill="#00c7ff"/>
<rect x="941" y="1076.3" width="2" height="3.4" fill="#0075ff"/>
<rect x="941" y="1073.7" width="2" height="3" fill="#004dff"/>
<rect x="941" y="1071.4" width="2" height="2.7" fill="#009eff"/>
<rect x="941" y="1067.4" width="2" height="4.4" fill="#0075ff"/>
<rect x="941" y="1065.6" width="2" height="2.2" fill="#0024ff"/>
<rect x="943" y="1107" width="2" height="15.4" fill="#00f0ff"/>
<rect x="943" y="1098.1" width="2" height="9.4" fill="#bdff42"/>
<rect x="943" y="1091.7" width="2" height="6.8" fill="#42ffbd"/>
<rect x="943" y="1086.7" width="2" height="5.3" fill="#94ff6b"/>
<rect x="943" y="1079.3" width="2" height="7.9" fill="#42ffbd"/>
<rect x="943" y="1076.3" width="2" height="3.4" fill="#1affe5"/>
<rect x="943" y="1073.7" width="2" height="3" fill="#00c7ff"/>
<rect x="943" y="1069.3" width="2" height="4.8" fill="#00f0ff"/>
<rect x="943" y="1067.4" width="2" height="2.3" fill="#009eff"/>
<rect x="943" y="1065.6" width="2" height="2.2" fill="#00c7ff"/>
<rect x="945" y="1107" width="2" height="15.4" fill="#e5ff1a"/>
<rect x="945" y="1098.1" width="2" height="9.4" fill="#fa0000"/>
<rect x="945" y="1091.7" width="2" height="6.8" fill="#ffc700"/>
<rect x="945" y="1086.7" width="2" height="5.3" fill="#bdff42"/>
<rect x="945" y="1082.7" width="2" height="4.4" fill="#6bff94"/>
<rect x="945" y="1076.3" width="2" height="6.8" fill="#42ffbd"/>
<rect x="945" y="1073.7" width="2" height="3" fill="#1affe5"/>
<rect x="945" y="1071.4" width="2" height="2.7" fill="#009eff"/>
<rect x="945" y="1069.3" width="2" height="2.5" fill="#00f0ff"/>
<rect x="945" y="1067.4" width="2" height="2.3" fill="#009eff"/>
<rect x="945" y="1065.6" width="2" height="2.2" fill="#0075ff"/>
<rect x="947" y="1107" width="2" height="15.4" fill="#00c7ff"/>
<rect x="947" y="1098.1" width="2" height="9.4" fill="#94ff6b"/>
<rect x="947" y="1091.7" width="2" height="6.8" fill="#00c7ff"/>
<rect x="947" y="1086.7" width="2" height="5.3" fill="#00f0ff"/>
<rect x="947" y="1082.7" width="2" height="4.4" fill="#009eff"/>
<rect x="947" y="1079.3" width="2" height="3.8" fill="#004dff"/>
<rect x="947" y="1076.3" width="2" height="3.4" fill="#0075ff"/>
<rect x="947" y="1073.7" width="2" height="3" fill="#009eff"/>
<rect x="947" y="1067.4" width="2" height="6.8" fill="#004dff"/>
<rect x="947" y="1065.6" width="2" height="2.2" fill="#0024ff"/>
<rect x="949" y="1107" width="2" height="15.4" fill="#0075ff"/>
<rect x="949" y="1098.1" width="2" height="9.4" fill="#42ffbd"/>
<rect x="949" y="1091.7" width="2" height="6.8" fill="#00f0ff"/>
<rect x="949" y="1086.7" width="2" height="5.3" fill="#00c7ff"/>
<rect x="949" y="1079.3" width="2" height="7.9" fill="#009eff"/>
<rect x="949" y="1071.4" width="2" height="8.3" fill="#0075ff"/>
<rect x="949" y="1067.4" width="2" height="4.4" fill="#0024ff"/>
<rect x="949" y="1065.6" width="2" height="2.2" fill="#0000fa"/>
<rect x="951" y="1107" width="2" height="15.4" fill="#0000fa"/>
<rect x="951" y="1098.1" width="2" height="9.4" fill="#004dff"/>
<rect x="951" y="1091.7" width="2" height="6.8" fill="#0075ff"/>
<rect x="951" y="1086.7" width="2" height="5.3" fill="#004dff"/>
<rect x="951" y="1082.7" width="2" height="4.4" fill="#0024ff"/>
<rect x="951" y="1069.3" width="2" height="13.8" fill="#0000fa"/>
<rect x="951" y="1065.6" width="2" height="4.1" fill="#0000d1"/>
<rect x="953" y="1107" width="2" height="15.4" fill="#bdff42"/>
<rect x="953" y="1098.1" width="2" height="9.4" fill="#ffc700"/>
<rect x="953" y="1091.7" width="2" height="6.8" fill="#6bff94"/>
<rect x="953" y="1086.7" width="2" height="5.3" fill="#42ffbd"/>
<rect x="953" y="1082.7" width="2" height="4.4" fill="#6bff94"/>
<rect x="953" y="1079.3" width="2" height="3.8" fill="#00f0ff"/>
<rect x="953" y="1076.3" width="2" height="3.4" fill="#00c7ff"/>
<rect x="953" y="1073.7" width="2" height="3" fill="#00f0ff"/>
<rect x="953" y="1071.4" width="2" height="2.7" fill="#009eff"/>
<rect x="953" y="1069.3" width="2" height="2.5" fill="#0075ff"/>
<rect x="953" y="1065.6" width="2" height="4.1" fill="#004dff"/>
<rect x="955" y="1107" width="2" height="15.4" fill="#bdff42"/>
<rect x="955" y="1098.1" width="2" height="9.4" fill="#ffc700"/>
<rect x="955" y="1086.7" width="2" height="11.7" fill="#6bff94"/>
<rect x="955" y="1079.3" width="2" height="7.9" fill="#42ffbd"/>
<rect x="955" y="1076.3" width="2" height="3.4" fill="#00c7ff"/>
<rect x="955" y="1073.7" width="2" height="3" fill="#00f0ff"/>
<rect x="955" y="1071.4" width="2" height="2.7" fill="#009eff"/>
<rect x="955" y="1069.3" width="2" height="2.5" fill="#00f0ff"/>
<rect x="955" y="1067.4" width="2" height="2.3" fill="#00c7ff"/>
<rect x="955" y="1065.6" width="2" height="2.2" fill="#0075ff"/>
<rect x="957" y="1107" width="2" height="15.4" fill="#00f0ff"/>
<rect x="957" y="1098.1" width="2" height="9.4" fill="#1affe5"/>
<rect x="957" y="1091.7" width="2" height="6.8" fill="#00f0ff"/>
<rect x="957" y="1082.7" width="2" height="9.4" fill="#009eff"/>
<rect x="957" y="1079.3" width="2" height="3.8" fill="#0075ff"/>
<rect x="957" y="1071.4" width="2" height="8.3" fill="#004dff"/>
<rect x="957" y="1067.4" width="2" height="4.4" fill="#0024ff"/>
<rect x="957" y="1065.6" width="2" height="2.2" fill="#0000fa"/>
<rect x="959" y="1107" width="2" height="15.4" fill="#004dff"/>
<rect x="959" y="1098.1" width="2" height="9.4" fill="#42ffbd"/>
<rect x="959" y="1091.7" width="2" height="6.8" fill="#00f0ff"/>
<rect x="959" y="1082.7" width="2" height="9.4" fill="#0075ff"/>
<rect x="959" y="1079.3" width="2" height="3.8" fill="#0024ff"/>
<rect x="959" y="1073.7" width="2" height="6" fill="#004dff"/>
<rect x="959" y="1067.4" width="2" height="6.8" fill="#0024ff"/>
<rect x="959" y="1065.6" width="2" height="2.2" fill="#0000fa"/>
<rect x="961" y="1107" width="2" height="15.4" fill="#0075ff"/>
<rect x="961" y="1098.1" width="2" height="9.4" fill="#e5ff1a"/>
<rect x="961" y="1091.7" width="2" height="6.8" fill="#6bff94"/>
<rect x="961" y="1079.3" width="2" height="12.8" fill="#42ffbd"/>
<rect x="961" y="1076.3" width="2" height="3.4" fill="#009eff"/>
<rect x="961" y="1069.3" width="2" height="7.5" fill="#00c7ff"/>
<rect x="961" y="1067.4" width="2" height="2.3" fill="#009eff"/>
<rect x="961" y="1065.6" width="2" height="2.2" fill="#0075ff"/>
<rect x="963" y="1098.1" width="2" height="24.3" fill="#94ff6b"/>
<rect x="963" y="1091.7" width="2" height="6.8" fill="#1affe5"/>
<rect x="963" y="1086.7" width="2" height="5.3" fill="#94ff6b"/>
<rect x="963" y="1082.7" width="2" height="4.4" fill="#00c7ff"/>
<rect x="963" y="1079.3" width="2" height="3.8" fill="#00f0ff"/>
<rect x="963" y="1073.7" width="2" height="6" fill="#0075ff"/>
<rect x="963" y="1071.4" width="2" height="2.7" fill="#009eff"/>
<rect x="963" y="1067.4" width="2" height="4.4" fill="#00c7ff"/>
<rect x="963" y="1065.6" width="2" height="2.2" fill="#009eff"/>
<rect x="965" y="1107" width="2" height="15.4" fill="#0075ff"/>
<rect x="965" y="1098.1" width="2" height="9.4" fill="#94ff6b"/>
<rect x="965" y="1091.7" width="2" height="6.8" fill="#42ffbd"/>
<rect x="965" y="1086.7" width="2" height="5.3" fill="#00c7ff"/>
<rect x="965" y="1079.3" width="2" height="7.9" fill="#0075ff"/>
<rect x="965" y="1071.4" width="2" height="8.3" fill="#009eff"/>
<rect x="965" y="1067.4" width="2" height="4.4" fill="#004dff"/>
<rect x="965" y="1065.6" width="2" height="2.2" fill="#0024ff"/>
<rect x="967" y="1107" width="2" height="15.4" fill="#0000fa"/>
<rect x="967" y="1091.7" width="2" height="15.8" fill="#009eff"/>
<rect x="967" y="1086.7" width="2" height="5.3" fill="#004dff"/>
<rect x="967" y="1082.7" width="2" height="4.4" fill="#0075ff"/>
<rect x="967" y="1071.4" width="2" height="11.7" fill="#0024ff"/>
<rect x="967" y="1065.6" width="2" height="6.2" fill="#0000fa"/>
<rect x="969" y="1098.1" width="2" height="24.3" fill="#e5ff1a"/>
<rect x="969" y="1091.7" width="2" height="6.8" fill="#1affe5"/>
<rect x="969" y="1086.7" width="2" height="5.3" fill="#6bff94"/>
<rect x="969" y="1079.3" width="2" height="7.9" fill="#00c7ff"/>
<rect x="969" y="1076.3" width="2" height="3.4" fill="#00f0ff"/>
<rect x="969" y="1073.7" width="2" height="3" fill="#009eff"/>
<rect x="969" y="1069.3" width="2" height="4.8" fill="#0075ff"/>
<rect x="969" y="1067.4" width="2" height="2.3" fill="#004dff"/>
<rect x="969" y="1065.6" width="2" height="2.2" fill="#0075ff"/>
<rect x="971" y="1107" width="2" height="15.4" fill="#009eff"/>
<rect x="971" y="1098.1" width="2" height="9.4" fill="#94ff6b"/>
<rect x="971" y="1091.7" width="2" height="6.8" fill="#e5ff1a"/>
<rect x="971" y="1086.7" width="2" height="5.3" fill="#42ffbd"/>
<rect x="971" y="1082.7" width="2" height="4.4" fill="#1affe5"/>
<rect x="971" y="1079.3" width="2" height="3.8" fill="#009eff"/>
<rect x="971" y="1076.3" width="2" height="3.4" fill="#0075ff"/>
<rect x="971" y="1073.7" width="2" height="3" fill="#00f0ff"/>
<rect x="971" y="1071.4" width="2" height="2.7" fill="#004dff"/>
<rect x="971" y="1067.4" width="2" height="4.4" fill="#009eff"/>
<rect x="971" y="1065.6" width="2" height="2.2" fill="#004dff"/>
<rect x="973" y="1107" width="2" height="15.4" fill="#e5ff1a"/>
<rect x="973" y="1098.1" width="2" height="9.4" fill="#ff9e00"/>
<rect x="973" y="1091.7" width="2" height="6.8" fill="#6bff94"/>
<rect x="973" y="1086.7" width="2" height="5.3" fill="#94ff6b"/>
<rect x="973" y="1082.7" width="2" height="4.4" fill="#42ffbd"/>
<rect x="973" y="1079.3" width="2" height="3.8" fill="#1affe5"/>
<rect x="973" y="1073.7" width="2" height="6" fill="#00f0ff"/>
<rect x="973" y="1071.4" width="2" height="2.7" fill="#1affe5"/>
<rect x="973" y="1069.3" width="2" height="2.5" fill="#00f0ff"/>
<rect x="973" y="1067.4" width="2" height="2.3" fill="#00c7ff"/>
<rect x="973" y="1065.6" width="2" height="2.2" fill="#0075ff"/>
<rect x="975" y="1107" width="2" height="15.4" fill="#1affe5"/>
<rect x="975" y="1091.7" width="2" height="15.8" fill="#42ffbd"/>
<rect x="975" y="1082.7" width="2" height="9.4" fill="#00c7ff"/>
<rect x="975" y="1073.7" width="2" height="9.4" fill="#009eff"/>
<rect x="975" y="1067.4" width="2" height="6.8" fill="#0075ff"/>
<rect x="975" y="1065.6" width="2" height="2.2" fill="#004dff"/>
<rect x="977" y="1098.1" width="2" height="24.3" fill="#004dff"/>
<rect x="977" y="1091.7" width="2" height="6.8" fill="#0075ff"/>
<rect x="977" y="1082.7" width="2" height="9.4" fill="#0024ff"/>
<rect x="977" y="1065.6" width="2" height="17.5" fill="#0000fa"/>
<rect x="979" y="1086.7" width="2" height="35.7" fill="#004dff"/>
<rect x="979" y="1073.7" width="2" height="13.4" fill="#0000fa"/>
<rect x="979" y="1071.4" width="2" height="2.7" fill="#0000d1"/>
<rect x="979" y="1069.3" width="2" height="2.5" fill="#0000fa"/>
<rect x="979" y="1065.6" width="2" height="4.1" fill="#0000d1"/>
<rect x="981" y="1107" width="2" height="15.4" fill="#00f0ff"/>
<rect x="981" y="1098.1" width="2" height="9.4" fill="#1affe5"/>
<rect x="981" y="1091.7" width="2" height="6.8" fill="#94ff6b"/>
<rect x="981" y="1086.7" width="2" height="5.3" fill="#42ffbd"/>
<rect x="981" y="1079.3" width="2" height="7.9" fill="#00f0ff"/>
<rect x="981" y="1073.7" width="2" height="6" fill="#00c7ff"/>
<rect x="981" y="1065.6" width="2" height="8.5" fill="#004dff"/>
<rect x="983" y="1091.7" width="2" height="30.7" fill="#0075ff"/>
<rect x="983" y="1082.7" width="2" height="9.4" fill="#004dff"/>
<rect x="983" y="1079.3" width="2" height="3.8" fill="#0024ff"/>
<rect x="983" y="1067.4" width="2" height="12.3" fill="#0000fa"/>
<rect x="983" y="1065.6" width="2" height="2.2" fill="#0000d1"/>
<rect x="985" y="1107" width="2" height="15.4" fill="#00f0ff"/>
<rect x="985" y="1098.1" width="2" height="9.4" fill="#42ffbd"/>
<rect x="985" y="1091.7" width="2" height="6.8" fill="#6bff94"/>
<rect x="985" y="1086.7" width="2" height="5.3" fill="#009eff"/>
<rect x="985" y="1082.7" width="2" height="4.4" fill="#00c7ff"/>
<rect x="985" y="1079.3" width="2" height="3.8" fill="#004dff"/>
<rect x="985" y="1076.3" width="2" height="3.4" fill="#009eff"/>
<rect x="985" y="1073.7" width="2" height="3" fill="#0075ff"/>
<rect x="985" y="1065.6" width="2" height="8.5" fill="#0024ff"/>
<rect x="987" y="1107" width="2" height="15.4" fill="#0075ff"/>
<rect x="987" y="1091.7" width="2" height="15.8" fill="#6bff94"/>
<rect x="987" y="1086.7" width="2" height="5.3" fill="#42ffbd"/>
<rect x="987" y="1082.7" width="2" height="4.4" fill="#00f0ff"/>
<rect x="987" y="1079.3" width="2" height="3.8" fill="#0075ff"/>
<rect x="987" y="1076.3" width="2" height="3.4" fill="#009eff"/>
<rect x="987" y="1073.7" width="2" height="3" fill="#0075ff"/>
<rect x="987" y="1071.4" width="2" height="2.7" fill="#009eff"/>
<rect x="987" y="1069.3" width="2" height="2.5" fill="#004dff"/>
<rect x="987" y="1067.4" width="2" height="2.3" fill="#009eff"/>
<rect x="987" y="1065.6" width="2" height="2.2" fill="#0075ff"/>
<rect x="989" y="1107" width="2" height="15.4" fill="#1affe5"/>
<rect x="989" y="1098.1" width="2" height="9.4" fill="#fff000"/>
<rect x="989" y="1091.7" width="2" height="6.8" fill="#42ffbd"/>
<rect x="989" y="1086.7" width="2" height="5.3" fill="#6bff94"/>
<rect x="989" y="1079.3" width="2" height="7.9" fill="#00c7ff"/>
<rect x="989" y="1076.3" width="2" height="3.4" fill="#009eff"/>
<rect x="989" y="1073.7" width="2" height="3" fill="#0075ff"/>
<rect x="989" y="1071.4" width="2" height="2.7" fill="#00c7ff"/>
<rect x="989" y="1067.4" width="2" height="4.4" fill="#0075ff"/>
<rect x="989" y="1065.6" width="2" height="2.2" fill="#004dff"/>
<rect x="991" y="1098.1" width="2" height="24.3" fill="#94ff6b"/>
<rect x="991" y="1091.7" width="2" height="6.8" fill="#6bff94"/>
<rect x="991" y="1086.7" width="2" height="5.3" fill="#00c7ff"/>
<rect x="991" y="1082.7" width="2" height="4.4" fill="#1affe5"/>
<rect x="991" y="1073.7" width="2" height="9.4" fill="#00c7ff"/>
<rect x="991" y="1071.4" width="2" height="2.7" fill="#0075ff"/>
<rect x="991" y="1069.3" width="2" height="2.5" fill="#009eff"/>
<rect x="991" y="1065.6" width="2" height="4.1" fill="#0075ff"/>
<rect x="993" y="1107" width="2" height="15.4" fill="#00c7ff"/>
<rect x="993" y="1098.1" width="2" height="9.4" fill="#ff4c00"/>
<rect x="993" y="1091.7" width="2" height="6.8" fill="#bdff42"/>
<rect x="993" y="1086.7" width="2" height="5.3" fill="#42ffbd"/>
<rect x="993" y="1071.4" width="2" height="15.8" fill="#00f0ff"/>
<rect x="993" y="1069.3" width="2" height="2.5" fill="#009eff"/>
<rect x="993" y="1067.4" width="2" height="2.3" fill="#0075ff"/>
<rect x="993" y="1065.6" width="2" height="2.2" fill="#004dff"/>
<rect x="995" y="1098.1" width="2" height="24.3" fill="#00c7ff"/>
<rect x="995" y="1091.7" width="2" height="6.8" fill="#00f0ff"/>
<rect x="995" y="1082.7" width="2" height="9.4" fill="#0075ff"/>
<rect x="995" y="1079.3" width="2" height="3.8" fill="#0024ff"/>
<rect x="995" y="1076.3" width="2" height="3.4" fill="#004dff"/>
<rect x="995" y="1071.4" width="2" height="5.3" fill="#0000fa"/>
<rect x="995" y="1069.3" width="2" height="2.5" fill="#0024ff"/>
<rect x="995" y="1067.4" width="2" height="2.3" fill="#0000fa"/>
<rect x="995" y="1065.6" width="2" height="2.2" fill="#0024ff"/>
<rect x="997" y="1107" width="2" height="15.4" fill="#00c7ff"/>
<rect x="997" y="1098.1" width="2" height="9.4" fill="#009eff"/>
<rect x="997" y="1091.7" width="2" height="6.8" fill="#00c7ff"/>
<rect x="997" y="1086.7" width="2" height="5.3" fill="#004dff"/>
<rect x="997" y="1079.3" width="2" height="7.9" fill="#0024ff"/>
<rect x="997" y="1076.3" width="2" height="3.4" fill="#0000fa"/>
<rect x="997" y="1073.7" width="2" height="3" fill="#0024ff"/>
<rect x="997" y="1071.4" width="2" height="2.7" fill="#0000fa"/>
<rect x="997" y="1067.4" width="2" height="4.4" fill="#0024ff"/>
<rect x="997" y="1065.6" width="2" height="2.2" fill="#0000fa"/>
<rect x="999" y="1107" width="2" height="15.4" fill="#6bff94"/>
<rect x="999" y="1098.1" width="2" height="9.4" fill="#94ff6b"/>
<rect x="999" y="1091.7" width="2" height="6.8" fill="#6bff94"/>
<rect x="999" y="1086.7" width="2" height="5.3" fill="#00f0ff"/>
<rect x="999" y="1082.7" width="2" height="4.4" fill="#009eff"/>
<rect x="999" y="1079.3" width="2" height="3.8" fill="#00f0ff"/>
<rect x="999" y="1076.3" width="2" height="3.4" fill="#004dff"/>
<rect x="999" y="1073.7" width="2" height="3" fill="#009eff"/>
<rect x="999" y="1067.4" width="2" height="6.8" fill="#0075ff"/>
<rect x="999" y="1065.6" width="2" height="2.2" fill="#0024ff"/>
<rect x="1001" y="1107" width="2" height="15.4" fill="#00c7ff"/>
<rect x="1001" y="1098.1" width="2" height="9.4" fill="#42ffbd"/>
<rect x="1001" y="1091.7" width="2" height="6.8" fill="#00f0ff"/>
<rect x="1001" y="1086.7" width="2" height="5.3" fill="#004dff"/>
<rect x="1001" y="1079.3" width="2" height="7.9" fill="#0075ff"/>
<rect x="1001" y="1073.7" width="2" height="6" fill="#0024ff"/>
<rect x="1001" y="1071.4" width="2" height="2.7" fill="#004dff"/>
<rect x="1001" y="1067.4" width="2" height="4.4" fill="#0024ff"/>
<rect x="1001" y="1065.6" width="2" height="2.2" fill="#0000fa"/>
<rect x="1003" y="1098.1" width="2" height="24.3" fill="#0075ff"/>
<rect x="1003" y="1091.7" width="2" height="6.8" fill="#004dff"/>
<rect x="1003" y="1086.7" width="2" height="5.3" fill="#0024ff"/>
<rect x="1003" y="1082.7" width="2" height="4.4" fill="#004dff"/>
<rect x="1003" y="1079.3" width="2" height="3.8" fill="#0024ff"/>
<rect x="1003" y="1076.3" width="2" height="3.4" fill="#004dff"/>
<rect x="1003" y="1065.6" width="2" height="11.2" fill="#0000fa"/>
<rect x="1005" y="1107" width="2" height="15.4" fill="#0024ff"/>
<rect x="1005" y="1098.1" width="2" height="9.4" fill="#42ffbd"/>
<rect x="1005" y="1082.7" width="2" height="15.8" fill="#0075ff"/>
<rect x="1005" y="1079.3" width="2" height="3.8" fill="#0024ff"/>
<rect x="1005" y="1076.3" width="2" height="3.4" fill="#004dff"/>
<rect x="1005" y="1073.7" width="2" height="3" fill="#0075ff"/>
<rect x="1005" y="1071.4" width="2" height="2.7" fill="#004dff"/>
<rect x="1005" y="1069.3" width="2" height="2.5" fill="#0000fa"/>
<rect x="1005" y="1065.6" width="2" height="4.1" fill="#0024ff"/>
<rect x="1007" y="1107" width="2" height="15.4" fill="#0075ff"/>
<rect x="1007" y="1098.1" width="2" height="9.4" fill="#009eff"/>
<rect x="1007" y="1082.7" width="2" height="15.8" fill="#004dff"/>
<rect x="1007" y="1079.3" width="2" height="3.8" fill="#0024ff"/>
<rect x="1007" y="1065.6" width="2" height="14.1" fill="#0000fa"/>
<rect x="1009" y="1107" width="2" height="15.4" fill="#004dff"/>
<rect x="1009" y="1098.1" width="2" height="9.4" fill="#0075ff"/>
<rect x="1009" y="1082.7" width="2" height="15.8" fill="#0024ff"/>
<rect x="1009" y="1069.3" width="2" height="13.8" fill="#0000fa"/>
<rect x="1009" y="1065.6" width="2" height="4.1" fill="#0000d1"/>
<rect x="1011" y="1107" width="2" height="15.4" fill="#0024ff"/>
<rect x="1011" y="1098.1" width="2" height="9.4" fill="#009eff"/>
<rect x="1011" y="1086.7" width="2" height="11.7" fill="#004dff"/>
<rect x="1011" y="1082.7" width="2" height="4.4" fill="#0000fa"/>
<rect x="1011" y="1076.3" width="2" height="6.8" fill="#0024ff"/>
<rect x="1011" y="1069.3" width="2" height="7.5" fill="#0000fa"/>
<rect x="1011" y="1065.6" width="2" height="4.1" fill="#0000d1"/>
<rect x="1013" y="1107" width="2" height="15.4" fill="#0024ff"/>
<rect x="1013" y="1098.1" width="2" height="9.4" fill="#009eff"/>
<rect x="1013" y="1091.7" width="2" height="6.8" fill="#004dff"/>
<rect x="1013" y="1079.3" width="2" height="12.8" fill="#0024ff"/>
<rect x="1013" y="1076.3" width="2" height="3.4" fill="#0000fa"/>
<rect x="1013" y="1073.7" width="2" height="3" fill="#0024ff"/>
<rect x="1013" y="1067.4" width="2" height="6.8" fill="#0000fa"/>
<rect x="1013" y="1065.6" width="2" height="2.2" fill="#0000d1"/>
<rect x="1015" y="1107" width="2" height="15.4" fill="#0024ff"/>
<rect x="1015" y="1098.1" width="2" height="9.4" fill="#004dff"/>
<rect x="1015" y="1091.7" width="2" height="6.8" fill="#0024ff"/>
<rect x="1015" y="1082.7" width="2" height="9.4" fill="#0000fa"/>
<rect x="1015" y="1067.4" width="2" height="15.8" fill="#0000d1"/>
<rect x="1015" y="1065.6" width="2" height="2.2" fill="#0000a8"/>
<rect x="1017" y="1107" width="2" height="15.4" fill="#0024ff"/>
<rect x="1017" y="1098.1" width="2" height="9.4" fill="#42ffbd"/>
<rect x="1017" y="1091.7" width="2" height="6.8" fill="#00c7ff"/>
<rect x="1017" y="1086.7" width="2" height="5.3" fill="#0075ff"/>
<rect x="1017" y="1082.7" width="2" height="4.4" fill="#004dff"/>
<rect x="1017" y="1079.3" width="2" height="3.8" fill="#0075ff"/>
<rect x="1017" y="1073.7" width="2" height="6" fill="#004dff"/>
<rect x="1017" y="1069.3" width="2" height="4.8" fill="#0000fa"/>
<rect x="1017" y="1067.4" width="2" height="2.3" fill="#0024ff"/>
<rect x="1017" y="1065.6" width="2" height="2.2" fill="#0000fa"/>
<rect x="1019" y="1107" width="2" height="15.4" fill="#1affe5"/>
<rect x="1019" y="1098.1" width="2" height="9.4" fill="#94ff6b"/>
<rect x="1019" y="1091.7" width="2" height="6.8" fill="#1affe5"/>
<rect x="1019" y="1086.7" width="2" height="5.3" fill="#009eff"/>
<rect x="1019" y="1082.7" width="2" height="4.4" fill="#00c7ff"/>
<rect x="1019" y="1079.3" width="2" height="3.8" fill="#009eff"/>
<rect x="1019" y="1073.7" width="2" height="6" fill="#0075ff"/>
<rect x="1019" y="1069.3" width="2" height="4.8" fill="#0024ff"/>
<rect x="1019" y="1067.4" width="2" height="2.3" fill="#004dff"/>
<rect x="1019" y="1065.6" width="2" height="2.2" fill="#0024ff"/>
<rect x="1021" y="1107" width="2" height="15.4" fill="#009eff"/>
<rect x="1021" y="1091.7" width="2" height="15.8" fill="#1affe5"/>
<rect x="1021" y="1086.7" width="2" height="5.3" fill="#00f0ff"/>
<rect x="1021" y="1082.7" width="2" height="4.4" fill="#009eff"/>
<rect x="1021" y="1079.3" width="2" height="3.8" fill="#0075ff"/>
<rect x="1021" y="1076.3" width="2" height="3.4" fill="#0024ff"/>
<rect x="1021" y="1073.7" width="2" height="3" fill="#004dff"/>
<rect x="1021" y="1067.4" width="2" height="6.8" fill="#0024ff"/>
<rect x="1021" y="1065.6" width="2" height="2.2" fill="#0000fa"/>
<rect x="1023" y="1107" width="2" height="15.4" fill="#0024ff"/>
<rect x="1023" y="1098.1" width="2" height="9.4" fill="#00f0ff"/>
<rect x="1023" y="1086.7" width="2" height="11.7" fill="#009eff"/>
<rect x="1023" y="1082.7" width="2" height="4.4" fill="#0075ff"/>
<rect x="1023" y="1071.4" width="2" height="11.7" fill="#004dff"/>
<rect x="1023" y="1069.3" width="2" height="2.5" fill="#0024ff"/>
<rect x="1023" y="1065.6" width="2" height="4.1" fill="#0000fa"/>
<rect x="1025" y="1107" width="2" height="15.4" fill="#0000d1"/>
<rect x="1025" y="1091.7" width="2" height="15.8" fill="#0024ff"/>
<rect x="1025" y="1071.4" width="2" height="20.7" fill="#0000d1"/>
<rect x="1025" y="1065.6" width="2" height="6.2" fill="#0000a8"/>
<rect x="1027" y="1107" width="2" height="15.4" fill="#42ffbd"/>
<rect x="1027" y="1098.1" width="2" height="9.4" fill="#1affe5"/>
<rect x="1027" y="1091.7" width="2" height="6.8" fill="#42ffbd"/>
<rect x="1027" y="1086.7" width="2" height="5.3" fill="#00c7ff"/>
<rect x="1027" y="1079.3" width="2" height="7.9" fill="#0075ff"/>
<rect x="1027" y="1073.7" width="2" height="6" fill="#004dff"/>
<rect x="1027" y="1069.3" width="2" height="4.8" fill="#0075ff"/>
<rect x="1027" y="1065.6" width="2" height="4.1" fill="#0024ff"/>
<rect x="1029" y="1107" width="2" height="15.4" fill="#0024ff"/>
<rect x="1029" y="1098.1" width="2" height="9.4" fill="#42ffbd"/>
<rect x="1029" y="1086.7" width="2" height="11.7" fill="#00f0ff"/>
<rect x="1029" y="1082.7" width="2" height="4.4" fill="#0075ff"/>
<rect x="1029" y="1079.3" width="2" height="3.8" fill="#009eff"/>
<rect x="1029" y="1076.3" width="2" height="3.4" fill="#0075ff"/>
<rect x="1029" y="1073.7" width="2" height="3" fill="#004dff"/>
<rect x="1029" y="1071.4" width="2" height="2.7" fill="#0075ff"/>
<rect x="1029" y="1069.3" width="2" height="2.5" fill="#004dff"/>
<rect x="1029" y="1067.4" width="2" height="2.3" fill="#0075ff"/>
<rect x="1029" y="1065.6" width="2" height="2.2" fill="#0024ff"/>
<rect x="1031" y="1107" width="2" height="15.4" fill="#00f0ff"/>
<rect x="1031" y="1091.7" width="2" height="15.8" fill="#00c7ff"/>
<rect x="1031" y="1086.7" width="2" height="5.3" fill="#0075ff"/>
<rect x="1031" y="1082.7" width="2" height="4.4" fill="#009eff"/>
<rect x="1031" y="1076.3" width="2" height="6.8" fill="#0075ff"/>
<rect x="1031" y="1073.7" width="2" height="3" fill="#004dff"/>
<rect x="1031" y="1071.4" width="2" height="2.7" fill="#0024ff"/>
<rect x="1031" y="1069.3" width="2" height="2.5" fill="#004dff"/>
<rect x="1031" y="1067.4" width="2" height="2.3" fill="#0024ff"/>
<rect x="1031" y="1065.6" width="2" height="2.2" fill="#0000fa"/>
<rect x="1033" y="1107" width="2" height="15.4" fill="#0000d1"/>
<rect x="1033" y="1098.1" width="2" height="9.4" fill="#0024ff"/>
<rect x="1033" y="1091.7" width="2" height="6.8" fill="#0000d1"/>
<rect x="1033" y="1086.7" width="2" height="5.3" fill="#0000fa"/>
<rect x="1033" y="1065.6" width="2" height="21.6" fill="#0000d1"/>
<rect x="1035" y="1107" width="2" height="15.4" fill="#004dff"/>
<rect x="1035" y="1098.1" width="2" height="9.4" fill="#0075ff"/>
<rect x="1035" y="1091.7" width="2" height="6.8" fill="#004dff"/>
<rect x="1035" y="1086.7" width="2" height="5.3" fill="#0000fa"/>
<rect x="1035" y="1082.7" width="2" height="4.4" fill="#0024ff"/>
<rect x="1035" y="1079.3" width="2" height="3.8" fill="#0000d1"/>
<rect x="1035" y="1076.3" width="2" height="3.4" fill="#0000fa"/>
<rect x="1035" y="1073.7" width="2" height="3" fill="#0000d1"/>
<rect x="1035" y="1071.4" width="2" height="2.7" fill="#0000fa"/>
<rect x="1035" y="1065.6" width="2" height="6.2" fill="#0000d1"/>
<rect x="1037" y="1107" width="2" height="15.4" fill="#00c7ff"/>
<rect x="1037" y="1098.1" width="2" height="9.4" fill="#00f0ff"/>
<rect x="1037" y="1086.7" width="2" height="11.7" fill="#00c7ff"/>
<rect x="1037" y="1079.3" width="2" height="7.9" fill="#0075ff"/>
<rect x="1037" y="1073.7" width="2" height="6" fill="#0024ff"/>
<rect x="1037" y="1071.4" width="2" height="2.7" fill="#004dff"/>
<rect x="1037" y="1069.3" width="2" height="2.5" fill="#0000fa"/>
<rect x="1037" y="1065.6" width="2" height="4.1" fill="#0024ff"/>
<rect x="1039" y="1107" width="2" height="15.4" fill="#0075ff"/>
<rect x="1039" y="1098.1" width="2" height="9.4" fill="#00f0ff"/>
<rect x="1039" y="1091.7" width="2" height="6.8" fill="#009eff"/>
<rect x="1039" y="1086.7" width="2" height="5.3" fill="#004dff"/>
<rect x="1039" y="1082.7" width="2" height="4.4" fill="#0075ff"/>
<rect x="1039" y="1079.3" width="2" height="3.8" fill="#004dff"/>
<rect x="1039" y="1076.3" width="2" height="3.4" fill="#0024ff"/>
<rect x="1039" y="1073.7" width="2" height="3" fill="#0000fa"/>
<rect x="1039" y="1067.4" width="2" height="6.8" fill="#0024ff"/>
<rect x="1039" y="1065.6" width="2" height="2.2" fill="#0000fa"/>
<rect x="1041" y="1107" width="2" height="15.4" fill="#0075ff"/>
<rect x="1041" y="1091.7" width="2" height="15.8" fill="#00f0ff"/>
<rect x="1041" y="1076.3" width="2" height="15.8" fill="#0075ff"/>
<rect x="1041" y="1073.7" width="2" height="3" fill="#0024ff"/>
<rect x="1041" y="1071.4" width="2" height="2.7" fill="#0075ff"/>
<rect x="1041" y="1069.3" width="2" height="2.5" fill="#004dff"/>
<rect x="1041" y="1065.6" width="2" height="4.1" fill="#0024ff"/>
<rect x="1043" y="1098.1" width="2" height="24.3" fill="#00f0ff"/>
<rect x="1043" y="1091.7" width="2" height="6.8" fill="#00c7ff"/>
<rect x="1043" y="1086.7" width="2" height="5.3" fill="#009eff"/>
<rect x="1043" y="1082.7" width="2" height="4.4" fill="#004dff"/>
<rect x="1043" y="1076.3" width="2" height="6.8" fill="#0075ff"/>
<rect x="1043" y="1073.7" width="2" height="3" fill="#004dff"/>
<rect x="1043" y="1069.3" width="2" height="4.8" fill="#0024ff"/>
<rect x="1043" y="1067.4" width="2" height="2.3" fill="#004dff"/>
<rect x="1043" y="1065.6" width="2" height="2.2" fill="#0024ff"/>
<rect x="1045" y="1107" width="2" height="15.4" fill="#009eff"/>
<rect x="1045" y="1098.1" width="2" height="9.4" fill="#42ffbd"/>
<rect x="1045" y="1091.7" width="2" height="6.8" fill="#009eff"/>
<rect x="1045" y="1086.7" width="2" height="5.3" fill="#00f0ff"/>
<rect x="1045" y="1082.7" width="2" height="4.4" fill="#009eff"/>
<rect x="1045" y="1079.3" width="2" height="3.8" fill="#004dff"/>
<rect x="1045" y="1069.3" width="2" height="10.4" fill="#0024ff"/>
<rect x="1045" y="1067.4" width="2" height="2.3" fill="#0000fa"/>
<rect x="1045" y="1065.6" width="2" height="2.2" fill="#004dff"/>
<rect x="1047" y="1098.1" width="2" height="24.3" fill="#0024ff"/>
<rect x="1047" y="1091.7" width="2" height="6.8" fill="#004dff"/>
<rect x="1047" y="1079.3" width="2" height="12.8" fill="#0024ff"/>
<rect x="1047" y="1071.4" width="2" height="8.3" fill="#0000fa"/>
<rect x="1047" y="1065.6" width="2" height="6.2" fill="#0000d1"/>
<rect x="1049" y="1107" width="2" height="15.4" fill="#00c7ff"/>
<rect x="1049" y="1098.1" width="2" height="9.4" fill="#00f0ff"/>
<rect x="1049" y="1091.7" width="2" height="6.8" fill="#1affe5"/>
<rect x="1049" y="1086.7" width="2" height="5.3" fill="#0075ff"/>
<rect x="1049" y="1076.3" width="2" height="10.8" fill="#009eff"/>
<rect x="1049" y="1071.4" width="2" height="5.3" fill="#004dff"/>
<rect x="1049" y="1067.4" width="2" height="4.4" fill="#0075ff"/>
<rect x="1049" y="1065.6" width="2" height="2.2" fill="#004dff"/>
<rect x="1051" y="1107" width="2" height="15.4" fill="#00f0ff"/>
<rect x="1051" y="1098.1" width="2" height="9.4" fill="#009eff"/>
<rect x="1051" y="1091.7" width="2" height="6.8" fill="#00f0ff"/>
<rect x="1051" y="1086.7" width="2" height="5.3" fill="#009eff"/>
<rect x="1051" y="1082.7" width="2" height="4.4" fill="#004dff"/>
<rect x="1051" y="1079.3" width="2" height="3.8" fill="#0075ff"/>
<rect x="1051" y="1073.7" width="2" height="6" fill="#0024ff"/>
<rect x="1051" y="1071.4" width="2" height="2.7" fill="#004dff"/>
<rect x="1051" y="1067.4" width="2" height="4.4" fill="#0024ff"/>
<rect x="1051" y="1065.6" width="2" height="2.2" fill="#0000fa"/>
<rect x="1053" y="1107" width="2" height="15.4" fill="#0075ff"/>
<rect x="1053" y="1098.1" width="2" height="9.4" fill="#00f0ff"/>
<rect x="1053" y="1091.7" width="2" height="6.8" fill="#42ffbd"/>
<rect x="1053" y="1086.7" width="2" height="5.3" fill="#00c7ff"/>
<rect x="1053" y="1079.3" width="2" height="7.9" fill="#0075ff"/>
<rect x="1053" y="1073.7" width="2" height="6" fill="#004dff"/>
<rect x="1053" y="1071.4" width="2" height="2.7" fill="#0024ff"/>
<rect x="1053" y="1067.4" width="2" height="4.4" fill="#004dff"/>
<rect x="1053" y="1065.6" width="2" height="2.2" fill="#0024ff"/>
<rect x="1055" y="1107" width="2" height="15.4" fill="#0024ff"/>
<rect x="1055" y="1098.1" width="2" height="9.4" fill="#00c7ff"/>
<rect x="1055" y="1091.7" width="2" height="6.8" fill="#009eff"/>
<rect x="1055" y="1086.7" width="2" height="5.3" fill="#004dff"/>
<rect x="1055" y="1082.7" width="2" height="4.4" fill="#0075ff"/>
<rect x="1055" y="1073.7" width="2" height="9.4" fill="#0024ff"/>
<rect x="1055" y="1071.4" width="2" height="2.7" fill="#004dff"/>
<rect x="1055" y="1065.6" width="2" height="6.2" fill="#0000fa"/>
<rect x="1057" y="1107" width="2" height="15.4" fill="#009eff"/>
<rect x="1057" y="1098.1" width="2" height="9.4" fill="#42ffbd"/>
<rect x="1057" y="1091.7" width="2" height="6.8" fill="#009eff"/>
<rect x="1057" y="1082.7" width="2" height="9.4" fill="#0075ff"/>
<rect x="1057" y="1079.3" width="2" height="3.8" fill="#009eff"/>
<rect x="1057" y="1076.3" width="2" height="3.4" fill="#0075ff"/>
<rect x="1057" y="1069.3" width="2" height="7.5" fill="#0024ff"/>
<rect x="1057" y="1067.4" width="2" height="2.3" fill="#004dff"/>
<rect x="1057" y="1065.6" width="2" height="2.2" fill="#0000fa"/>
<rect x="1059" y="1107" width="2" height="15.4" fill="#004dff"/>
<rect x="1059" y="1098.1" width="2" height="9.4" fill="#009eff"/>
<rect x="1059" y="1079.3" width="2" height="19.2" fill="#0024ff"/>
<rect x="1059" y="1065.6" width="2" height="14.1" fill="#0000fa"/>
<rect x="1061" y="1107" width="2" height="15.4" fill="#0000d1"/>
<rect x="1061" y="1098.1" width="2" height="9.4" fill="#0000fa"/>
<rect x="1061" y="1082.7" width="2" height="15.8" fill="#0000d1"/>
<rect x="1061" y="1079.3" width="2" height="3.8" fill="#0000a8"/>
<rect x="1061" y="1076.3" width="2" height="3.4" fill="#0000d1"/>
<rect x="1061" y="1065.6" width="2" height="11.2" fill="#0000a8"/>
<rect x="1063" y="1079.3" width="2" height="43.1" fill="#0000d1"/>
<rect x="1063" y="1065.6" width="2" height="14.1" fill="#0000a8"/>
<rect x="1065" y="1091.7" width="2" height="30.7" fill="#0000d1"/>
<rect x="1065" y="1086.7" width="2" height="5.3" fill="#0000a8"/>
<rect x="1065" y="1079.3" width="2" height="7.9" fill="#0000d1"/>
<rect x="1065" y="1065.6" width="2" height="14.1" fill="#0000a8"/>
<rect x="1067" y="1079.3" width="2" height="43.1" fill="#0000d1"/>
<rect x="1067" y="1073.7" width="2" height="6" fill="#0000a8"/>
<rect x="1067" y="1071.4" width="2" height="2.7" fill="#0000d1"/>
<rect x="1067" y="1069.3" width="2" height="2.5" fill="#0000a8"/>
<rect x="1067" y="1067.4" width="2" height="2.3" fill="#0000d1"/>
<rect x="1067" y="1065.6" width="2" height="2.2" fill="#0000a8"/>
<rect x="1069" y="1107" width="2" height="15.4" fill="#0000a8"/>
<rect x="1069" y="1091.7" width="2" height="15.8" fill="#0000d1"/>
<rect x="1069" y="1065.6" width="2" height="26.5" fill="#0000a8"/>
<rect x="1071" y="1091.7" width="2" height="30.7" fill="#0000d1"/>
<rect x="1071" y="1082.7" width="2" height="9.4" fill="#0000a8"/>
<rect x="1071" y="1079.3" width="2" height="3.8" fill="#0000d1"/>
<rect x="1071" y="1065.6" width="2" height="14.1" fill="#0000a8"/>
<rect x="1073" y="1098.1" width="2" height="24.3" fill="#0000d1"/>
<rect x="1073" y="1091.7" width="2" height="6.8" fill="#0000fa"/>
<rect x="1073" y="1086.7" width="2" height="5.3" fill="#0000d1"/>
<rect x="1073" y="1065.6" width="2" height="21.6" fill="#0000a8"/>
<rect x="1075" y="1107" width="2" height="15.4" fill="#0000d1"/>
<rect x="1075" y="1091.7" width="2" height="15.8" fill="#0000fa"/>
<rect x="1075" y="1082.7" width="2" height="9.4" fill="#0000d1"/>
<rect x="1075" y="1079.3" width="2" height="3.8" fill="#0000a8"/>
<rect x="1075" y="1073.7" width="2" height="6" fill="#0000d1"/>
<rect x="1075" y="1065.6" width="2" height="8.5" fill="#0000a8"/>
<rect x="1077" y="1086.7" width="2" height="35.7" fill="#0000d1"/>
<rect x="1077" y="1082.7" width="2" height="4.4" fill="#0000a8"/>
<rect x="1077" y="1079.3" width="2" height="3.8" fill="#0000d1"/>
<rect x="1077" y="1071.4" width="2" height="8.3" fill="#0000a8"/>
<rect x="1077" y="1069.3" width="2" height="2.5" fill="#0000d1"/>
<rect x="1077" y="1067.4" width="2" height="2.3" fill="#0000a8"/>
<rect x="1077" y="1065.6" width="2" height="2.2" fill="#0000d1"/>
<rect x="1079" y="1107" width="2" height="15.4" fill="#0000d1"/>
<rect x="1079" y="1098.1" width="2" height="9.4" fill="#0000fa"/>
<rect x="1079" y="1076.3" width="2" height="22.1" fill="#0000d1"/>
<rect x="1079" y="1065.6" width="2" height="11.2" fill="#0000a8"/>
<rect x="1081" y="1107" width="2" height="15.4" fill="#0000a8"/>
<rect x="1081" y="1098.1" width="2" height="9.4" fill="#0000d1"/>
<rect x="1081" y="1086.7" width="2" height="11.7" fill="#0000a8"/>
<rect x="1081" y="1082.7" width="2" height="4.4" fill="#0000d1"/>
<rect x="1081" y="1069.3" width="2" height="13.8" fill="#0000a8"/>
<rect x="1081" y="1067.4" width="2" height="2.3" fill="#0000d1"/>
<rect x="1081" y="1065.6" width="2" height="2.2" fill="#0000a8"/>
<rect x="1083" y="1082.7" width="2" height="39.7" fill="#0000d1"/>
<rect x="1083" y="1076.3" width="2" height="6.8" fill="#0000a8"/>
<rect x="1083" y="1071.4" width="2" height="5.3" fill="#0000d1"/>
<rect x="1083" y="1069.3" width="2" height="2.5" fill="#0000a8"/>
<rect x="1083" y="1065.6" width="2" height="4.1" fill="#0000d1"/>
<rect x="1085" y="1098.1" width="2" height="24.3" fill="#0000a8"/>
<rect x="1085" y="1091.7" width="2" height="6.8" fill="#0000d1"/>
<rect x="1085" y="1082.7" width="2" height="9.4" fill="#0000a8"/>
<rect x="1085" y="1079.3" width="2" height="3.8" fill="#0000d1"/>
<rect x="1085" y="1065.6" width="2" height="14.1" fill="#0000a8"/>
<rect x="1087" y="1107" width="2" height="15.4" fill="#0000d1"/>
<rect x="1087" y="1091.7" width="2" height="15.8" fill="#0000fa"/>
<rect x="1087" y="1073.7" width="2" height="18.4" fill="#0000d1"/>
<rect x="1087" y="1067.4" width="2" height="6.8" fill="#0000a8"/>
<rect x="1087" y="1065.6" width="2" height="2.2" fill="#0000d1"/>
<rect x="1089" y="1086.7" width="2" height="35.7" fill="#0000d1"/>
<rect x="1089" y="1065.6" width="2" height="21.6" fill="#0000a8"/>
<rect x="1091" y="1107" width="2" height="15.4" fill="#0000a8"/>
<rect x="1091" y="1098.1" width="2" height="9.4" fill="#0000d1"/>
<rect x="1091" y="1091.7" width="2" height="6.8" fill="#0000a8"/>
<rect x="1091" y="1086.7" width="2" height="5.3" fill="#0000d1"/>
<rect x="1091" y="1065.6" width="2" height="21.6" fill="#0000a8"/>
<rect x="1093" y="1067.4" width="2" height="55" fill="#0000a8"/>
<rect x="1093" y="1065.6" width="2" height="2.2" fill="#0000d1"/>
<rect x="1095" y="1082.7" width="2" height="39.7" fill="#0000d1"/>
<rect x="1095" y="1073.7" width="2" height="9.4" fill="#0000a8"/>
<rect x="1095" y="1071.4" width="2" height="2.7" fill="#0000d1"/>
<rect x="1095" y="1069.3" width="2" height="2.5" fill="#0000a8"/>
<rect x="1095" y="1067.4" width="2" height="2.3" fill="#0000d1"/>
<rect x="1095" y="1065.6" width="2" height="2.2" fill="#0000a8"/>
<rect x="1097" y="1091.7" width="2" height="30.7" fill="#0000d1"/>
<rect x="1097" y="1069.3" width="2" height="22.8" fill="#0000a8"/>
<rect x="1097" y="1067.4" width="2" height="2.3" fill="#0000d1"/>
<rect x="1097" y="1065.6" width="2" height="2.2" fill="#0000a8"/>
<rect x="1099" y="1107" width="2" height="15.4" fill="#0000a8"/>
<rect x="1099" y="1086.7" width="2" height="20.7" fill="#0000d1"/>
<rect x="1099" y="1071.4" width="2" height="15.8" fill="#0000a8"/>
<rect x="1099" y="1065.6" width="2" height="6.2" fill="#0000d1"/>
<rect x="1101" y="1086.7" width="2" height="35.7" fill="#0000d1"/>
<rect x="1101" y="1079.3" width="2" height="7.9" fill="#0000a8"/>
<rect x="1101" y="1076.3" width="2" height="3.4" fill="#0000d1"/>
<rect x="1101" y="1065.6" width="2" height="11.2" fill="#0000a8"/>
<rect x="1103" y="1107" width="2" height="15.4" fill="#0000a8"/>
<rect x="1103" y="1098.1" width="2" height="9.4" fill="#0000d1"/>
<rect x="1103" y="1086.7" width="2" height="11.7" fill="#0000a8"/>
<rect x="1103" y="1082.7" width="2" height="4.4" fill="#0000d1"/>
<rect x="1103" y="1071.4" width="2" height="11.7" fill="#0000a8"/>
<rect x="1103" y="1069.3" width="2" height="2.5" fill="#0000d1"/>
<rect x="1103" y="1065.6" width="2" height="4.1" fill="#0000a8"/>
<rect x="1105" y="1107" width="2" height="15.4" fill="#0000d1"/>
<rect x="1105" y="1086.7" width="2" height="20.7" fill="#0000a8"/>
<rect x="1105" y="1082.7" width="2" height="4.4" fill="#0000d1"/>
<rect x="1105" y="1073.7" width="2" height="9.4" fill="#0000a8"/>
<rect x="1105" y="1071.4" width="2" height="2.7" fill="#0000d1"/>
<rect x="1105" y="1065.6" width="2" height="6.2" fill="#0000a8"/>
<rect x="1107" y="1098.1" width="2" height="24.3" fill="#0000fa"/>
<rect x="1107" y="1086.7" width="2" height="11.7" fill="#0000d1"/>
<rect x="1107" y="1079.3" width="2" height="7.9" fill="#0000a8"/>
<rect x="1107" y="1076.3" width="2" height="3.4" fill="#0000d1"/>
<rect x="1107" y="1065.6" width="2" height="11.2" fill="#0000a8"/>
<rect x="1109" y="1107" width="2" height="15.4" fill="#0000a8"/>
<rect x="1109" y="1091.7" width="2" height="15.8" fill="#0000d1"/>
<rect x="1109" y="1065.6" width="2" height="26.5" fill="#0000a8"/>
<rect x="1111" y="1107" width="2" height="15.4" fill="#0000a8"/>
<rect x="1111" y="1082.7" width="2" height="24.7" fill="#0000d1"/>
<rect x="1111" y="1065.6" width="2" height="17.5" fill="#0000a8"/>
<rect x="1113" y="1073.7" width="2" height="48.7" fill="#0000d1"/>
<rect x="1113" y="1065.6" width="2" height="8.5" fill="#0000a8"/>
<rect x="1115" y="1107" width="2" height="15.4" fill="#0000a8"/>
<rect x="1115" y="1091.7" width="2" height="15.8" fill="#0000fa"/>
<rect x="1115" y="1076.3" width="2" height="15.8" fill="#0000d1"/>
<rect x="1115" y="1071.4" width="2" height="5.3" fill="#0000a8"/>
<rect x="1115" y="1069.3" width="2" height="2.5" fill="#0000d1"/>
<rect x="1115" y="1065.6" width="2" height="4.1" fill="#0000a8"/>
<rect x="1117" y="1107" width="2" height="15.4" fill="#0000a8"/>
<rect x="1117" y="1098.1" width="2" height="9.4" fill="#0000d1"/>
<rect x="1117" y="1091.7" width="2" height="6.8" fill="#0000a8"/>
<rect x="1117" y="1086.7" width="2" height="5.3" fill="#0000d1"/>
<rect x="1117" y="1071.4" width="2" height="15.8" fill="#0000a8"/>
<rect x="1117" y="1069.3" width="2" height="2.5" fill="#0000d1"/>
<rect x="1117" y="1067.4" width="2" height="2.3" fill="#0000a8"/>
<rect x="1117" y="1065.6" width="2" height="2.2" fill="#0000d1"/>
<rect x="1119" y="1086.7" width="2" height="35.7" fill="#0000d1"/>
<rect x="1119" y="1065.6" width="2" height="21.6" fill="#0000a8"/>
<rect x="1121" y="1107" width="2" height="15.4" fill="#0000a8"/>
<rect x="1121" y="1086.7" width="2" height="20.7" fill="#0000d1"/>
<rect x="1121" y="1082.7" width="2" height="4.4" fill="#0000a8"/>
<rect x="1121" y="1079.3" width="2" height="3.8" fill="#0000d1"/>
<rect x="1121" y="1065.6" width="2" height="14.1" fill="#0000a8"/>
<rect x="1123" y="1107" width="2" height="15.4" fill="#0000a8"/>
<rect x="1123" y="1098.1" width="2" height="9.4" fill="#0000d1"/>
<rect x="1123" y="1082.7" width="2" height="15.8" fill="#0000a8"/>
<rect x="1123" y="1079.3" width="2" height="3.8" fill="#0000d1"/>
<rect x="1123" y="1076.3" width="2" height="3.4" fill="#0000a8"/>
<rect x="1123" y="1073.7" width="2" height="3" fill="#0000d1"/>
<rect x="1123" y="1065.6" width="2" height="8.5" fill="#0000a8"/>
<rect x="1125" y="1107" width="2" height="15.4" fill="#0000a8"/>
<rect x="1125" y="1098.1" width="2" height="9.4" fill="#0000fa"/>
<rect x="1125" y="1091.7" width="2" height="6.8" fill="#0000d1"/>
<rect x="1125" y="1086.7" width="2" height="5.3" fill="#0000fa"/>
<rect x="1125" y="1082.7" width="2" height="4.4" fill="#0000d1"/>
<rect x="1125" y="1079.3" width="2" height="3.8" fill="#0000a8"/>
<rect x="1125" y="1071.4" width="2" height="8.3" fill="#0000d1"/>
<rect x="1125" y="1069.3" width="2" height="2.5" fill="#0000a8"/>
<rect x="1125" y="1067.4" width="2" height="2.3" fill="#0000d1"/>
<rect x="1125" y="1065.6" width="2" height="2.2" fill="#0000a8"/>
<rect x="1127" y="1107" width="2" height="15.4" fill="#0000a8"/>
<rect x="1127" y="1091.7" width="2" height="15.8" fill="#0000d1"/>
<rect x="1127" y="1082.7" width="2" height="9.4" fill="#0000a8"/>
<rect x="1127" y="1079.3" width="2" height="3.8" fill="#0000d1"/>
<rect x="1127" y="1071.4" width="2" height="8.3" fill="#0000a8"/>
<rect x="1127" y="1069.3" width="2" height="2.5" fill="#0000d1"/>
<rect x="1127" y="1067.4" width="2" height="2.3" fill="#0000a8"/>
<rect x="1127" y="1065.6" width="2" height="2.2" fill="#0000d1"/>
<rect x="1129" y="1091.7" width="2" height="30.7" fill="#0000d1"/>
<rect x="1129" y="1086.7" width="2" height="5.3" fill="#0000a8"/>
<rect x="1129" y="1082.7" width="2" height="4.4" fill="#0000d1"/>
<rect x="1129" y="1067.4" width="2" height="15.8" fill="#0000a8"/>
<rect x="1129" y="1065.6" width="2" height="2.2" fill="#0000d1"/>
<rect x="1131" y="1107" width="2" height="15.4" fill="#0000d1"/>
<rect x="1131" y="1086.7" width="2" height="20.7" fill="#0000a8"/>
<rect x="1131" y="1079.3" width="2" height="7.9" fill="#0000d1"/>
<rect x="1131" y="1067.4" width="2" height="12.3" fill="#0000a8"/>
<rect x="1131" y="1065.6" width="2" height="2.2" fill="#0000d1"/>
<rect x="1133" y="1107" width="2" height="15.4" fill="#0000a8"/>
<rect x="1133" y="1091.7" width="2" height="15.8" fill="#0000d1"/>
<rect x="1133" y="1065.6" width="2" height="26.5" fill="#0000a8"/>
<rect x="1135" y="1086.7" width="2" height="35.7" fill="#0000d1"/>
<rect x="1135" y="1071.4" width="2" height="15.8" fill="#0000a8"/>
<rect x="1135" y="1069.3" width="2" height="2.5" fill="#0000d1"/>
<rect x="1135" y="1067.4" width="2" height="2.3" fill="#0000a8"/>
<rect x="1135" y="1065.6" width="2" height="2.2" fill="#0000d1"/>
<rect x="1137" y="1107" width="2" height="15.4" fill="#0000a8"/>
<rect x="1137" y="1091.7" width="2" height="15.8" fill="#0000d1"/>
<rect x="1137" y="1082.7" width="2" height="9.4" fill="#0000a8"/>
<rect x="1137" y="1079.3" width="2" height="3.8" fill="#0000d1"/>
<rect x="1137" y="1076.3" width="2" height="3.4" fill="#0000a8"/>
<rect x="1137" y="1073.7" width="2" height="3" fill="#0000d1"/>
<rect x="1137" y="1065.6" width="2" height="8.5" fill="#0000a8"/>
<rect x="1139" y="1098.1" width="2" height="24.3" fill="#0000a8"/>
<rect x="1139" y="1086.7" width="2" height="11.7" fill="#0000d1"/>
<rect x="1139" y="1076.3" width="2" height="10.8" fill="#0000a8"/>
<rect x="1139" y="1073.7" width="2" height="3" fill="#0000d1"/>
<rect x="1139" y="1069.3" width="2" height="4.8" fill="#0000a8"/>
<rect x="1139" y="1067.4" width="2" height="2.3" fill="#0000d1"/>
<rect x="1139" y="1065.6" width="2" height="2.2" fill="#0000a8"/>
<rect x="1141" y="1107" width="2" height="15.4" fill="#0000d1"/>
<rect x="1141" y="1091.7" width="2" height="15.8" fill="#0000fa"/>
<rect x="1141" y="1079.3" width="2" height="12.8" fill="#0000d1"/>
<rect x="1141" y="1073.7" width="2" height="6" fill="#0000a8"/>
<rect x="1141" y="1071.4" width="2" height="2.7" fill="#0000d1"/>
<rect x="1141" y="1069.3" width="2" height="2.5" fill="#0000a8"/>
<rect x="1141" y="1067.4" width="2" height="2.3" fill="#0000d1"/>
<rect x="1141" y="1065.6" width="2" height="2.2" fill="#0000a8"/>
<rect x="1143" y="1107" width="2" height="15.4" fill="#0000a8"/>
<rect x="1143" y="1098.1" width="2" height="9.4" fill="#0000d1"/>
<rect x="1143" y="1086.7" width="2" height="11.7" fill="#0000a8"/>
<rect x="1143" y="1082.7" width="2" height="4.4" fill="#0000d1"/>
<rect x="1143" y="1065.6" width="2" height="17.5" fill="#0000a8"/>
<rect x="1145" y="1107" width="2" height="15.4" fill="#0000d1"/>
<rect x="1145" y="1086.7" width="2" height="20.7" fill="#0000a8"/>
<rect x="1145" y="1076.3" width="2" height="10.8" fill="#0000d1"/>
<rect x="1145" y="1069.3" width="2" height="7.5" fill="#0000a8"/>
<rect x="1145" y="1067.4" width="2" height="2.3" fill="#0000d1"/>
<rect x="1145" y="1065.6" width="2" height="2.2" fill="#0000a8"/>
<rect x="1147" y="1086.7" width="2" height="35.7" fill="#0000d1"/>
<rect x="1147" y="1079.3" width="2" height="7.9" fill="#0000a8"/>
<rect x="1147" y="1073.7" width="2" height="6" fill="#0000d1"/>
<rect x="1147" y="1069.3" width="2" height="4.8" fill="#0000a8"/>
<rect x="1147" y="1067.4" width="2" height="2.3" fill="#0000d1"/>
<rect x="1147" y="1065.6" width="2" height="2.2" fill="#0000a8"/>
<rect x="1149" y="1082.7" width="2" height="39.7" fill="#0000a8"/>
<rect x="1149" y="1079.3" width="2" height="3.8" fill="#0000d1"/>
<rect x="1149" y="1076.3" width="2" height="3.4" fill="#0000a8"/>
<rect x="1149" y="1073.7" width="2" height="3" fill="#0000d1"/>
<rect x="1149" y="1065.6" width="2" height="8.5" fill="#0000a8"/>
<rect x="1151" y="1107" width="2" height="15.4" fill="#0000d1"/>
<rect x="1151" y="1098.1" width="2" height="9.4" fill="#0000fa"/>
<rect x="1151" y="1091.7" width="2" height="6.8" fill="#0000d1"/>
<rect x="1151" y="1079.3" width="2" height="12.8" fill="#0000a8"/>
<rect x="1151" y="1076.3" width="2" height="3.4" fill="#0000d1"/>
<rect x="1151" y="1067.4" width="2" height="9.4" fill="#0000a8"/>
<rect x="1151" y="1065.6" width="2" height="2.2" fill="#0000d1"/>
<rect x="1153" y="1091.7" width="2" height="30.7" fill="#0000d1"/>
<rect x="1153" y="1065.6" width="2" height="26.5" fill="#0000a8"/>
<rect x="1155" y="1107" width="2" height="15.4" fill="#0000d1"/>
<rect x="1155" y="1098.1" width="2" height="9.4" fill="#0000fa"/>
<rect x="1155" y="1079.3" width="2" height="19.2" fill="#0000d1"/>
<rect x="1155" y="1076.3" width="2" height="3.4" fill="#0000a8"/>
<rect x="1155" y="1073.7" width="2" height="3" fill="#0000d1"/>
<rect x="1155" y="1065.6" width="2" height="8.5" fill="#0000a8"/>
<rect x="1157" y="1107" width="2" height="15.4" fill="#0000a8"/>
<rect x="1157" y="1098.1" width="2" height="9.4" fill="#0000d1"/>
<rect x="1157" y="1082.7" width="2" height="15.8" fill="#0000a8"/>
<rect x="1157" y="1079.3" width="2" height="3.8" fill="#0000d1"/>
<rect x="1157" y="1065.6" width="2" height="14.1" fill="#0000a8"/>
<rect x="1159" y="1086.7" width="2" height="35.7" fill="#0000d1"/>
<rect x="1159" y="1082.7" width="2" height="4.4" fill="#0000a8"/>
<rect x="1159" y="1079.3" width="2" height="3.8" fill="#0000d1"/>
<rect x="1159" y="1076.3" width="2" height="3.4" fill="#0000a8"/>
<rect x="1159" y="1073.7" width="2" height="3" fill="#0000d1"/>
<rect x="1159" y="1065.6" width="2" height="8.5" fill="#0000a8"/>
<rect x="1161" y="1086.7" width="2" height="35.7" fill="#0000d1"/>
<rect x="1161" y="1071.4" width="2" height="15.8" fill="#0000a8"/>
<rect x="1161" y="1067.4" width="2" height="4.4" fill="#0000d1"/>
<rect x="1161" y="1065.6" width="2" height="2.2" fill="#0000a8"/>
<rect x="1163" y="1107" width="2" height="15.4" fill="#0000d1"/>
<rect x="1163" y="1098.1" width="2" height="9.4" fill="#0000fa"/>
<rect x="1163" y="1079.3" width="2" height="19.2" fill="#0000d1"/>
<rect x="1163" y="1076.3" width="2" height="3.4" fill="#0000a8"/>
<rect x="1163" y="1073.7" width="2" height="3" fill="#0000d1"/>
<rect x="1163" y="1065.6" width="2" height="8.5" fill="#0000a8"/>
<rect x="1165" y="1107" width="2" height="15.4" fill="#0000a8"/>
<rect x="1165" y="1079.3" width="2" height="28.1" fill="#0000d1"/>
<rect x="1165" y="1065.6" width="2" height="14.1" fill="#0000a8"/>
<rect x="1167" y="1082.7" width="2" height="39.7" fill="#0000d1"/>
<rect x="1167" y="1065.6" width="2" height="17.5" fill="#0000a8"/>
<rect x="1169" y="1107" width="2" height="15.4" fill="#0000fa"/>
<rect x="1169" y="1079.3" width="2" height="28.1" fill="#0000d1"/>
<rect x="1169" y="1073.7" width="2" height="6" fill="#0000a8"/>
<rect x="1169" y="1071.4" width="2" height="2.7" fill="#0000d1"/>
<rect x="1169" y="1069.3" width="2" height="2.5" fill="#0000a8"/>
<rect x="1169" y="1065.6" width="2" height="4.1" fill="#0000d1"/>
<rect x="1171" y="1082.7" width="2" height="39.7" fill="#0000a8"/>
<rect x="1171" y="1079.3" width="2" height="3.8" fill="#0000d1"/>
<rect x="1171" y="1076.3" width="2" height="3.4" fill="#0000a8"/>
<rect x="1171" y="1073.7" width="2" height="3" fill="#0000d1"/>
<rect x="1171" y="1069.3" width="2" height="4.8" fill="#0000a8"/>
<rect x="1171" y="1067.4" width="2" height="2.3" fill="#0000d1"/>
<rect x="1171" y="1065.6" width="2" height="2.2" fill="#0000a8"/>
<rect x="1173" y="1107" width="2" height="15.4" fill="#0000a8"/>
<rect x="1173" y="1091.7" width="2" height="15.8" fill="#0000fa"/>
<rect x="1173" y="1082.7" width="2" height="9.4" fill="#0000d1"/>
<rect x="1173" y="1076.3" width="2" height="6.8" fill="#0000a8"/>
<rect x="1173" y="1071.4" width="2" height="5.3" fill="#0000d1"/>
<rect x="1173" y="1065.6" width="2" height="6.2" fill="#0000a8"/>
<rect x="1175" y="1076.3" width="2" height="46.1" fill="#0000a8"/>
<rect x="1175" y="1073.7" width="2" height="3" fill="#0000d1"/>
<rect x="1175" y="1071.4" width="2" height="2.7" fill="#0000a8"/>
<rect x="1175" y="1069.3" width="2" height="2.5" fill="#0000d1"/>
<rect x="1175" y="1065.6" width="2" height="4.1" fill="#0000a8"/>
<rect x="1177" y="1098.1" width="2" height="24.3" fill="#0000d1"/>
<rect x="1177" y="1073.7" width="2" height="24.7" fill="#0000a8"/>
<rect x="1177" y="1069.3" width="2" height="4.8" fill="#0000d1"/>
<rect x="1177" y="1065.6" width="2" height="4.1" fill="#0000a8"/>
<rect x="1179" y="1091.7" width="2" height="30.7" fill="#0000d1"/>
<rect x="1179" y="1086.7" width="2" height="5.3" fill="#0000a8"/>
<rect x="1179" y="1079.3" width="2" height="7.9" fill="#0000d1"/>
<rect x="1179" y="1065.6" width="2" height="14.1" fill="#0000a8"/>
<rect x="1181" y="1107" width="2" height="15.4" fill="#0000d1"/>
<rect x="1181" y="1098.1" width="2" height="9.4" fill="#0000fa"/>
<rect x="1181" y="1079.3" width="2" height="19.2" fill="#0000d1"/>
<rect x="1181" y="1073.7" width="2" height="6" fill="#0000a8"/>
<rect x="1181" y="1069.3" width="2" height="4.8" fill="#0000d1"/>
<rect x="1181" y="1065.6" width="2" height="4.1" fill="#0000a8"/>
<rect x="1183" y="1071.4" width="2" height="51" fill="#0000a8"/>
<rect x="1183" y="1069.3" width="2" height="2.5" fill="#0000d1"/>
<rect x="1183" y="1065.6" width="2" height="4.1" fill="#0000a8"/>
<rect x="1185" y="1107" width="2" height="15.4" fill="#0000a8"/>
<rect x="1185" y="1091.7" width="2" height="15.8" fill="#0000d1"/>
<rect x="1185" y="1082.7" width="2" height="9.4" fill="#0000a8"/>
<rect x="1185" y="1079.3" width="2" height="3.8" fill="#0000d1"/>
<rect x="1185" y="1065.6" width="2" height="14.1" fill="#0000a8"/>
<rect x="1187" y="1107" width="2" height="15.4" fill="#0000a8"/>
<rect x="1187" y="1098.1" width="2" height="9.4" fill="#0000fa"/>
<rect x="1187" y="1082.7" width="2" height="15.8" fill="#0000d1"/>
<rect x="1187" y="1079.3" width="2" height="3.8" fill="#0000a8"/>
<rect x="1187" y="1076.3" width="2" height="3.4" fill="#0000d1"/>
<rect x="1187" y="1067.4" width="2" height="9.4" fill="#0000a8"/>
<rect x="1187" y="1065.6" width="2" height="2.2" fill="#0000d1"/>
<rect x="1189" y="1107" width="2" height="15.4" fill="#0000d1"/>
<rect x="1189" y="1098.1" width="2" height="9.4" fill="#0000fa"/>
<rect x="1189" y="1079.3" width="2" height="19.2" fill="#0000d1"/>
<rect x="1189" y="1076.3" width="2" height="3.4" fill="#0000a8"/>
<rect x="1189" y="1073.7" width="2" height="3" fill="#0000d1"/>
<rect x="1189" y="1065.6" width="2" height="8.5" fill="#0000a8"/>
<rect x="1191" y="1091.7" width="2" height="30.7" fill="#0000d1"/>
<rect x="1191" y="1065.6" width="2" height="26.5" fill="#0000a8"/>
<rect x="1193" y="1076.3" width="2" height="46.1" fill="#0000d1"/>
<rect x="1193" y="1067.4" width="2" height="9.4" fill="#0000a8"/>
<rect x="1193" y="1065.6" width="2" height="2.2" fill="#0000d1"/>
<rect x="1195" y="1107" width="2" height="15.4" fill="#0000a8"/>
<rect x="1195" y="1091.7" width="2" height="15.8" fill="#0000d1"/>
<rect x="1195" y="1079.3" width="2" height="12.8" fill="#0000a8"/>
<rect x="1195" y="1076.3" width="2" height="3.4" fill="#0000d1"/>
<rect x="1195" y="1067.4" width="2" height="9.4" fill="#0000a8"/>
<rect x="1195" y="1065.6" width="2" height="2.2" fill="#0000d1"/>
<rect x="1197" y="1069.3" width="2" height="53.1" fill="#0000a8"/>
<rect x="1197" y="1067.4" width="2" height="2.3" fill="#0000d1"/>
<rect x="1197" y="1065.6" width="2" height="2.2" fill="#0000a8"/>
<rect x="1199" y="1091.7" width="2" height="30.7" fill="#0000d1"/>
<rect x="1199" y="1076.3" width="2" height="15.8" fill="#0000a8"/>
<rect x="1199" y="1073.7" width="2" height="3" fill="#0000d1"/>
<rect x="1199" y="1065.6" width="2" height="8.5" fill="#0000a8"/>
<rect x="1201" y="1086.7" width="2" height="35.7" fill="#0000d1"/>
<rect x="1201" y="1082.7" width="2" height="4.4" fill="#0000a8"/>
<rect x="1201" y="1076.3" width="2" height="6.8" fill="#0000d1"/>
<rect x="1201" y="1065.6" width="2" height="11.2" fill="#0000a8"/>
<rect x="1203" y="1107" width="2" height="15.4" fill="#0000a8"/>
<rect x="1203" y="1098.1" width="2" height="9.4" fill="#0000d1"/>
<rect x="1203" y="1079.3" width="2" height="19.2" fill="#0000a8"/>
<rect x="1203" y="1076.3" width="2" height="3.4" fill="#0000d1"/>
<rect x="1203" y="1073.7" width="2" height="3" fill="#0000a8"/>
<rect x="1203" y="1071.4" width="2" height="2.7" fill="#0000d1"/>
<rect x="1203" y="1065.6" width="2" height="6.2" fill="#0000a8"/>
<rect x="1205" y="1082.7" width="2" height="39.7" fill="#0000d1"/>
<rect x="1205" y="1079.3" width="2" height="3.8" fill="#0000a8"/>
<rect x="1205" y="1073.7" width="2" height="6" fill="#0000d1"/>
<rect x="1205" y="1065.6" width="2" height="8.5" fill="#0000a8"/>
<rect x="1207" y="1107" width="2" height="15.4" fill="#0000a8"/>
<rect x="1207" y="1098.1" width="2" height="9.4" fill="#0000d1"/>
<rect x="1207" y="1065.6" width="2" height="32.9" fill="#0000a8"/>
<rect x="1209" y="1067.4" width="2" height="55" fill="#0000a8"/>
<rect x="1209" y="1065.6" width="2" height="2.2" fill="#0000d1"/>
<rect x="1211" y="1091.7" width="2" height="30.7" fill="#0000d1"/>
<rect x="1211" y="1082.7" width="2" height="9.4" fill="#0000a8"/>
<rect x="1211" y="1079.3" width="2" height="3.8" fill="#0000d1"/>
<rect x="1211" y="1073.7" width="2" height="6" fill="#0000a8"/>
<rect x="1211" y="1071.4" width="2" height="2.7" fill="#0000d1"/>
<rect x="1211" y="1065.6" width="2" height="6.2" fill="#0000a8"/>
<rect x="1213" y="1107" width="2" height="15.4" fill="#0000a8"/>
<rect x="1213" y="1086.7" width="2" height="20.7" fill="#0000d1"/>
<rect x="1213" y="1065.6" width="2" height="21.6" fill="#0000a8"/>
<rect x="1215" y="1091.7" width="2" height="30.7" fill="#0000a8"/>
<rect x="1215" y="1086.7" width="2" height="5.3" fill="#0000d1"/>
<rect x="1215" y="1076.3" width="2" height="10.8" fill="#0000a8"/>
<rect x="1215" y="1073.7" width="2" height="3" fill="#0000d1"/>
<rect x="1215" y="1065.6" width="2" height="8.5" fill="#0000a8"/>
<rect x="1217" y="1107" width="2" height="15.4" fill="#0000a8"/>
<rect x="1217" y="1098.1" width="2" height="9.4" fill="#0000fa"/>
<rect x="1217" y="1091.7" width="2" height="6.8" fill="#0000d1"/>
<rect x="1217" y="1065.6" width="2" height="26.5" fill="#0000a8"/>
<rect x="1219" y="1107" width="2" height="15.4" fill="#0000a8"/>
<rect x="1219" y="1091.7" width="2" height="15.8" fill="#0000fa"/>
<rect x="1219" y="1073.7" width="2" height="18.4" fill="#0000d1"/>
<rect x="1219" y="1071.4" width="2" height="2.7" fill="#0000a8"/>
<rect x="1219" y="1069.3" width="2" height="2.5" fill="#0000d1"/>
<rect x="1219" y="1065.6" width="2" height="4.1" fill="#0000a8"/>
<rect x="1221" y="1107" width="2" height="15.4" fill="#0000a8"/>
<rect x="1221" y="1086.7" width="2" height="20.7" fill="#0000d1"/>
<rect x="1221" y="1073.7" width="2" height="13.4" fill="#0000a8"/>
<rect x="1221" y="1071.4" width="2" height="2.7" fill="#0000d1"/>
<rect x="1221" y="1065.6" width="2" height="6.2" fill="#0000a8"/>
<rect x="1223" y="1091.7" width="2" height="30.7" fill="#0000d1"/>
<rect x="1223" y="1076.3" width="2" height="15.8" fill="#0000a8"/>
<rect x="1223" y="1069.3" width="2" height="7.5" fill="#0000d1"/>
<rect x="1223" y="1065.6" width="2" height="4.1" fill="#0000a8"/>
<rect x="1225" y="1086.7" width="2" height="35.7" fill="#0000a8"/>
<rect x="1225" y="1082.7" width="2" height="4.4" fill="#0000d1"/>
<rect x="1225" y="1079.3" width="2" height="3.8" fill="#0000a8"/>
<rect x="1225" y="1076.3" width="2" height="3.4" fill="#0000d1"/>
<rect x="1225" y="1065.6" width="2" height="11.2" fill="#0000a8"/>
<rect x="1227" y="1065.6" width="2" height="56.8" fill="#0000a8"/>
<rect x="1229" y="1107" width="2" height="15.4" fill="#0000d1"/>
<rect x="1229" y="1098.1" width="2" height="9.4" fill="#0000fa"/>
<rect x="1229" y="1091.7" width="2" height="6.8" fill="#0000d1"/>
<rect x="1229" y="1073.7" width="2" height="18.4" fill="#0000a8"/>
<rect x="1229" y="1071.4" width="2" height="2.7" fill="#0000d1"/>
<rect x="1229" y="1065.6" width="2" height="6.2" fill="#0000a8"/>
<rect x="1231" y="1107" width="2" height="15.4" fill="#0000a8"/>
<rect x="1231" y="1098.1" width="2" height="9.4" fill="#0000d1"/>
<rect x="1231" y="1086.7" width="2" height="11.7" fill="#0000a8"/>
<rect x="1231" y="1082.7" width="2" height="4.4" fill="#0000d1"/>
<rect x="1231" y="1071.4" width="2" height="11.7" fill="#0000a8"/>
<rect x="1231" y="1069.3" width="2" height="2.5" fill="#0000d1"/>
<rect x="1231" y="1065.6" width="2" height="4.1" fill="#0000a8"/>
<rect x="1233" y="1107" width="2" height="15.4" fill="#0000d1"/>
<rect x="1233" y="1098.1" width="2" height="9.4" fill="#0000fa"/>
<rect x="1233" y="1086.7" width="2" height="11.7" fill="#0000d1"/>
<rect x="1233" y="1082.7" width="2" height="4.4" fill="#0000a8"/>
<rect x="1233" y="1076.3" width="2" height="6.8" fill="#0000d1"/>
<rect x="1233" y="1073.7" width="2" height="3" fill="#0000a8"/>
<rect x="1233" y="1069.3" width="2" height="4.8" fill="#0000d1"/>
<rect x="1233" y="1065.6" width="2" height="4.1" fill="#0000a8"/>
<rect x="773.6" y="1065.6" width="1.5" height="56.4" fill="#ffb300"/>
<rect x="1343" y="970" width="118" height="152" fill="#00009e"/>
<g filter="url(#spk)">
<rect x="1343" y="970" width="118" height="96.6" fill="#000"/>
<rect x="1430" y="1047.6" width="1" height="19" fill="url(#fl)" opacity="0.08"/>
<rect x="1442" y="1057.6" width="1" height="9" fill="url(#fl)" opacity="0.08"/>
<rect x="1444" y="1062.1" width="1" height="4.4" fill="url(#fl)" opacity="0.08"/>
<rect x="1445" y="1047.5" width="1" height="19.1" fill="url(#fl)" opacity="0.56"/>
<rect x="1446" y="1043" width="1" height="23.6" fill="url(#fl)" opacity="0.17"/>
<rect x="1447" y="1033.7" width="1" height="32.9" fill="url(#fl)" opacity="0.17"/>
<rect x="1448" y="1017.3" width="1" height="49.3" fill="url(#fl)" opacity="0.79"/>
<rect x="1449" y="1034.1" width="1" height="32.5" fill="url(#fl)" opacity="0.59"/>
<rect x="1450" y="1006.2" width="1" height="60.4" fill="url(#fl)" opacity="0.81"/>
<rect x="1451" y="1025.6" width="1" height="41" fill="url(#fl)" opacity="0.82"/>
<rect x="1452" y="1043.5" width="1" height="23.1" fill="url(#fl)" opacity="0.61"/>
<rect x="1453" y="1057.2" width="1" height="9.4" fill="url(#fl)" opacity="0.62"/>
<rect x="1454" y="1055.2" width="1" height="11.4" fill="url(#fl)" opacity="0.63"/>
<rect x="1455" y="1045.1" width="1" height="21.5" fill="url(#fl)" opacity="0.11"/>
<rect x="1430.3" y="1026" width="1.2" height="40.6" fill="url(#fl)" opacity="0.9"/>
</g>
<rect x="1343" y="1082.7" width="2" height="39.7" fill="#0000d1"/>
<rect x="1343" y="1069.3" width="2" height="13.8" fill="#0000a8"/>
<rect x="1343" y="1067.4" width="2" height="2.3" fill="#0000d1"/>
<rect x="1343" y="1065.6" width="2" height="2.2" fill="#0000a8"/>
<rect x="1345" y="1107" width="2" height="15.4" fill="#0000a8"/>
<rect x="1345" y="1091.7" width="2" height="15.8" fill="#0000d1"/>
<rect x="1345" y="1076.3" width="2" height="15.8" fill="#0000a8"/>
<rect x="1345" y="1073.7" width="2" height="3" fill="#0000d1"/>
<rect x="1345" y="1065.6" width="2" height="8.5" fill="#0000a8"/>
<rect x="1347" y="1086.7" width="2" height="35.7" fill="#0000d1"/>
<rect x="1347" y="1065.6" width="2" height="21.6" fill="#0000a8"/>
<rect x="1349" y="1107" width="2" height="15.4" fill="#0000a8"/>
<rect x="1349" y="1098.1" width="2" height="9.4" fill="#0000d1"/>
<rect x="1349" y="1091.7" width="2" height="6.8" fill="#0000a8"/>
<rect x="1349" y="1086.7" width="2" height="5.3" fill="#0000d1"/>
<rect x="1349" y="1079.3" width="2" height="7.9" fill="#0000a8"/>
<rect x="1349" y="1076.3" width="2" height="3.4" fill="#0000d1"/>
<rect x="1349" y="1067.4" width="2" height="9.4" fill="#0000a8"/>
<rect x="1349" y="1065.6" width="2" height="2.2" fill="#0000d1"/>
<rect x="1351" y="1107" width="2" height="15.4" fill="#0000d1"/>
<rect x="1351" y="1098.1" width="2" height="9.4" fill="#0000fa"/>
<rect x="1351" y="1082.7" width="2" height="15.8" fill="#0000d1"/>
<rect x="1351" y="1079.3" width="2" height="3.8" fill="#0000a8"/>
<rect x="1351" y="1076.3" width="2" height="3.4" fill="#0000d1"/>
<rect x="1351" y="1071.4" width="2" height="5.3" fill="#0000a8"/>
<rect x="1351" y="1067.4" width="2" height="4.4" fill="#0000d1"/>
<rect x="1351" y="1065.6" width="2" height="2.2" fill="#0000a8"/>
<rect x="1353" y="1091.7" width="2" height="30.7" fill="#0000d1"/>
<rect x="1353" y="1071.4" width="2" height="20.7" fill="#0000a8"/>
<rect x="1353" y="1069.3" width="2" height="2.5" fill="#0000d1"/>
<rect x="1353" y="1067.4" width="2" height="2.3" fill="#0000a8"/>
<rect x="1353" y="1065.6" width="2" height="2.2" fill="#0000d1"/>
<rect x="1355" y="1091.7" width="2" height="30.7" fill="#0000d1"/>
<rect x="1355" y="1071.4" width="2" height="20.7" fill="#0000a8"/>
<rect x="1355" y="1069.3" width="2" height="2.5" fill="#0000d1"/>
<rect x="1355" y="1065.6" width="2" height="4.1" fill="#0000a8"/>
<rect x="1357" y="1086.7" width="2" height="35.7" fill="#0000d1"/>
<rect x="1357" y="1065.6" width="2" height="21.6" fill="#0000a8"/>
<rect x="1359" y="1107" width="2" height="15.4" fill="#0000a8"/>
<rect x="1359" y="1098.1" width="2" height="9.4" fill="#0000d1"/>
<rect x="1359" y="1079.3" width="2" height="19.2" fill="#0000a8"/>
<rect x="1359" y="1071.4" width="2" height="8.3" fill="#0000d1"/>
<rect x="1359" y="1069.3" width="2" height="2.5" fill="#0000a8"/>
<rect x="1359" y="1067.4" width="2" height="2.3" fill="#0000d1"/>
<rect x="1359" y="1065.6" width="2" height="2.2" fill="#0000a8"/>
<rect x="1361" y="1079.3" width="2" height="43.1" fill="#0000d1"/>
<rect x="1361" y="1069.3" width="2" height="10.4" fill="#0000a8"/>
<rect x="1361" y="1067.4" width="2" height="2.3" fill="#0000d1"/>
<rect x="1361" y="1065.6" width="2" height="2.2" fill="#0000a8"/>
<rect x="1363" y="1107" width="2" height="15.4" fill="#0000a8"/>
<rect x="1363" y="1098.1" width="2" height="9.4" fill="#0000fa"/>
<rect x="1363" y="1082.7" width="2" height="15.8" fill="#0000d1"/>
<rect x="1363" y="1065.6" width="2" height="17.5" fill="#0000a8"/>
<rect x="1365" y="1091.7" width="2" height="30.7" fill="#0000a8"/>
<rect x="1365" y="1082.7" width="2" height="9.4" fill="#0000d1"/>
<rect x="1365" y="1076.3" width="2" height="6.8" fill="#0000a8"/>
<rect x="1365" y="1073.7" width="2" height="3" fill="#0000d1"/>
<rect x="1365" y="1069.3" width="2" height="4.8" fill="#0000a8"/>
<rect x="1365" y="1067.4" width="2" height="2.3" fill="#0000d1"/>
<rect x="1365" y="1065.6" width="2" height="2.2" fill="#0000a8"/>
<rect x="1367" y="1076.3" width="2" height="46.1" fill="#0000a8"/>
<rect x="1367" y="1073.7" width="2" height="3" fill="#0000d1"/>
<rect x="1367" y="1065.6" width="2" height="8.5" fill="#0000a8"/>
<rect x="1369" y="1107" width="2" height="15.4" fill="#0000a8"/>
<rect x="1369" y="1098.1" width="2" height="9.4" fill="#0000d1"/>
<rect x="1369" y="1076.3" width="2" height="22.1" fill="#0000a8"/>
<rect x="1369" y="1073.7" width="2" height="3" fill="#0000d1"/>
<rect x="1369" y="1065.6" width="2" height="8.5" fill="#0000a8"/>
<rect x="1371" y="1107" width="2" height="15.4" fill="#0000d1"/>
<rect x="1371" y="1091.7" width="2" height="15.8" fill="#0000a8"/>
<rect x="1371" y="1086.7" width="2" height="5.3" fill="#0000d1"/>
<rect x="1371" y="1067.4" width="2" height="19.8" fill="#0000a8"/>
<rect x="1371" y="1065.6" width="2" height="2.2" fill="#0000d1"/>
<rect x="1373" y="1107" width="2" height="15.4" fill="#0000d1"/>
<rect x="1373" y="1071.4" width="2" height="36" fill="#0000a8"/>
<rect x="1373" y="1069.3" width="2" height="2.5" fill="#0000d1"/>
<rect x="1373" y="1065.6" width="2" height="4.1" fill="#0000a8"/>
<rect x="1375" y="1098.1" width="2" height="24.3" fill="#0000d1"/>
<rect x="1375" y="1091.7" width="2" height="6.8" fill="#0000a8"/>
<rect x="1375" y="1079.3" width="2" height="12.8" fill="#0000d1"/>
<rect x="1375" y="1067.4" width="2" height="12.3" fill="#0000a8"/>
<rect x="1375" y="1065.6" width="2" height="2.2" fill="#0000d1"/>
<rect x="1377" y="1098.1" width="2" height="24.3" fill="#0000d1"/>
<rect x="1377" y="1086.7" width="2" height="11.7" fill="#0000a8"/>
<rect x="1377" y="1082.7" width="2" height="4.4" fill="#0000d1"/>
<rect x="1377" y="1076.3" width="2" height="6.8" fill="#0000a8"/>
<rect x="1377" y="1073.7" width="2" height="3" fill="#0000d1"/>
<rect x="1377" y="1071.4" width="2" height="2.7" fill="#0000a8"/>
<rect x="1377" y="1069.3" width="2" height="2.5" fill="#0000d1"/>
<rect x="1377" y="1067.4" width="2" height="2.3" fill="#0000a8"/>
<rect x="1377" y="1065.6" width="2" height="2.2" fill="#0000d1"/>
<rect x="1379" y="1098.1" width="2" height="24.3" fill="#0000fa"/>
<rect x="1379" y="1082.7" width="2" height="15.8" fill="#0000d1"/>
<rect x="1379" y="1076.3" width="2" height="6.8" fill="#0000a8"/>
<rect x="1379" y="1073.7" width="2" height="3" fill="#0000d1"/>
<rect x="1379" y="1069.3" width="2" height="4.8" fill="#0000a8"/>
<rect x="1379" y="1067.4" width="2" height="2.3" fill="#0000d1"/>
<rect x="1379" y="1065.6" width="2" height="2.2" fill="#0000a8"/>
<rect x="1381" y="1086.7" width="2" height="35.7" fill="#0000d1"/>
<rect x="1381" y="1079.3" width="2" height="7.9" fill="#0000a8"/>
<rect x="1381" y="1076.3" width="2" height="3.4" fill="#0000d1"/>
<rect x="1381" y="1073.7" width="2" height="3" fill="#0000a8"/>
<rect x="1381" y="1071.4" width="2" height="2.7" fill="#0000d1"/>
<rect x="1381" y="1065.6" width="2" height="6.2" fill="#0000a8"/>
<rect x="1383" y="1107" width="2" height="15.4" fill="#0000a8"/>
<rect x="1383" y="1091.7" width="2" height="15.8" fill="#0000d1"/>
<rect x="1383" y="1086.7" width="2" height="5.3" fill="#0000a8"/>
<rect x="1383" y="1079.3" width="2" height="7.9" fill="#0000d1"/>
<rect x="1383" y="1065.6" width="2" height="14.1" fill="#0000a8"/>
<rect x="1385" y="1107" width="2" height="15.4" fill="#0000d1"/>
<rect x="1385" y="1098.1" width="2" height="9.4" fill="#0000a8"/>
<rect x="1385" y="1091.7" width="2" height="6.8" fill="#0000d1"/>
<rect x="1385" y="1067.4" width="2" height="24.7" fill="#0000a8"/>
<rect x="1385" y="1065.6" width="2" height="2.2" fill="#0000d1"/>
<rect x="1387" y="1091.7" width="2" height="30.7" fill="#0000d1"/>
<rect x="1387" y="1082.7" width="2" height="9.4" fill="#0000a8"/>
<rect x="1387" y="1076.3" width="2" height="6.8" fill="#0000d1"/>
<rect x="1387" y="1071.4" width="2" height="5.3" fill="#0000a8"/>
<rect x="1387" y="1069.3" width="2" height="2.5" fill="#0000d1"/>
<rect x="1387" y="1065.6" width="2" height="4.1" fill="#0000a8"/>
<rect x="1389" y="1107" width="2" height="15.4" fill="#0000a8"/>
<rect x="1389" y="1086.7" width="2" height="20.7" fill="#0000d1"/>
<rect x="1389" y="1073.7" width="2" height="13.4" fill="#0000a8"/>
<rect x="1389" y="1071.4" width="2" height="2.7" fill="#0000d1"/>
<rect x="1389" y="1065.6" width="2" height="6.2" fill="#0000a8"/>
<rect x="1391" y="1086.7" width="2" height="35.7" fill="#0000d1"/>
<rect x="1391" y="1079.3" width="2" height="7.9" fill="#0000a8"/>
<rect x="1391" y="1076.3" width="2" height="3.4" fill="#0000d1"/>
<rect x="1391" y="1065.6" width="2" height="11.2" fill="#0000a8"/>
<rect x="1393" y="1086.7" width="2" height="35.7" fill="#0000d1"/>
<rect x="1393" y="1082.7" width="2" height="4.4" fill="#0000a8"/>
<rect x="1393" y="1079.3" width="2" height="3.8" fill="#0000d1"/>
<rect x="1393" y="1065.6" width="2" height="14.1" fill="#0000a8"/>
<rect x="1395" y="1086.7" width="2" height="35.7" fill="#0000a8"/>
<rect x="1395" y="1082.7" width="2" height="4.4" fill="#0000d1"/>
<rect x="1395" y="1067.4" width="2" height="15.8" fill="#0000a8"/>
<rect x="1395" y="1065.6" width="2" height="2.2" fill="#0000d1"/>
<rect x="1397" y="1082.7" width="2" height="39.7" fill="#0000a8"/>
<rect x="1397" y="1079.3" width="2" height="3.8" fill="#0000d1"/>
<rect x="1397" y="1065.6" width="2" height="14.1" fill="#0000a8"/>
<rect x="1399" y="1082.7" width="2" height="39.7" fill="#0000a8"/>
<rect x="1399" y="1079.3" width="2" height="3.8" fill="#0000d1"/>
<rect x="1399" y="1065.6" width="2" height="14.1" fill="#0000a8"/>
<rect x="1401" y="1098.1" width="2" height="24.3" fill="#0000d1"/>
<rect x="1401" y="1079.3" width="2" height="19.2" fill="#0000a8"/>
<rect x="1401" y="1076.3" width="2" height="3.4" fill="#0000d1"/>
<rect x="1401" y="1065.6" width="2" height="11.2" fill="#0000a8"/>
<rect x="1403" y="1086.7" width="2" height="35.7" fill="#0000d1"/>
<rect x="1403" y="1082.7" width="2" height="4.4" fill="#0000a8"/>
<rect x="1403" y="1079.3" width="2" height="3.8" fill="#0000d1"/>
<rect x="1403" y="1076.3" width="2" height="3.4" fill="#0000a8"/>
<rect x="1403" y="1073.7" width="2" height="3" fill="#0000d1"/>
<rect x="1403" y="1065.6" width="2" height="8.5" fill="#0000a8"/>
<rect x="1405" y="1107" width="2" height="15.4" fill="#0000a8"/>
<rect x="1405" y="1086.7" width="2" height="20.7" fill="#0000d1"/>
<rect x="1405" y="1079.3" width="2" height="7.9" fill="#0000a8"/>
<rect x="1405" y="1076.3" width="2" height="3.4" fill="#0000d1"/>
<rect x="1405" y="1065.6" width="2" height="11.2" fill="#0000a8"/>
<rect x="1407" y="1086.7" width="2" height="35.7" fill="#0000d1"/>
<rect x="1407" y="1082.7" width="2" height="4.4" fill="#0000a8"/>
<rect x="1407" y="1079.3" width="2" height="3.8" fill="#0000d1"/>
<rect x="1407" y="1076.3" width="2" height="3.4" fill="#0000a8"/>
<rect x="1407" y="1073.7" width="2" height="3" fill="#0000d1"/>
<rect x="1407" y="1065.6" width="2" height="8.5" fill="#0000a8"/>
<rect x="1409" y="1086.7" width="2" height="35.7" fill="#0000d1"/>
<rect x="1409" y="1079.3" width="2" height="7.9" fill="#0000a8"/>
<rect x="1409" y="1076.3" width="2" height="3.4" fill="#0000d1"/>
<rect x="1409" y="1071.4" width="2" height="5.3" fill="#0000a8"/>
<rect x="1409" y="1069.3" width="2" height="2.5" fill="#0000d1"/>
<rect x="1409" y="1067.4" width="2" height="2.3" fill="#0000a8"/>
<rect x="1409" y="1065.6" width="2" height="2.2" fill="#0000d1"/>
<rect x="1411" y="1107" width="2" height="15.4" fill="#0000a8"/>
<rect x="1411" y="1098.1" width="2" height="9.4" fill="#0000d1"/>
<rect x="1411" y="1076.3" width="2" height="22.1" fill="#0000a8"/>
<rect x="1411" y="1073.7" width="2" height="3" fill="#0000d1"/>
<rect x="1411" y="1065.6" width="2" height="8.5" fill="#0000a8"/>
<rect x="1413" y="1091.7" width="2" height="30.7" fill="#0000d1"/>
<rect x="1413" y="1067.4" width="2" height="24.7" fill="#0000a8"/>
<rect x="1413" y="1065.6" width="2" height="2.2" fill="#0000d1"/>
<rect x="1415" y="1098.1" width="2" height="24.3" fill="#0000a8"/>
<rect x="1415" y="1091.7" width="2" height="6.8" fill="#0000d1"/>
<rect x="1415" y="1079.3" width="2" height="12.8" fill="#0000a8"/>
<rect x="1415" y="1076.3" width="2" height="3.4" fill="#0000d1"/>
<rect x="1415" y="1073.7" width="2" height="3" fill="#0000a8"/>
<rect x="1415" y="1071.4" width="2" height="2.7" fill="#0000d1"/>
<rect x="1415" y="1065.6" width="2" height="6.2" fill="#0000a8"/>
<rect x="1417" y="1098.1" width="2" height="24.3" fill="#0000a8"/>
<rect x="1417" y="1091.7" width="2" height="6.8" fill="#0000d1"/>
<rect x="1417" y="1071.4" width="2" height="20.7" fill="#0000a8"/>
<rect x="1417" y="1067.4" width="2" height="4.4" fill="#0000d1"/>
<rect x="1417" y="1065.6" width="2" height="2.2" fill="#0000a8"/>
<rect x="1419" y="1086.7" width="2" height="35.7" fill="#0000d1"/>
<rect x="1419" y="1065.6" width="2" height="21.6" fill="#0000a8"/>
<rect x="1421" y="1107" width="2" height="15.4" fill="#0000d1"/>
<rect x="1421" y="1098.1" width="2" height="9.4" fill="#0000fa"/>
<rect x="1421" y="1091.7" width="2" height="6.8" fill="#0000d1"/>
<rect x="1421" y="1076.3" width="2" height="15.8" fill="#0000a8"/>
<rect x="1421" y="1073.7" width="2" height="3" fill="#0000d1"/>
<rect x="1421" y="1065.6" width="2" height="8.5" fill="#0000a8"/>
<rect x="1423" y="1107" width="2" height="15.4" fill="#0000a8"/>
<rect x="1423" y="1091.7" width="2" height="15.8" fill="#0000d1"/>
<rect x="1423" y="1082.7" width="2" height="9.4" fill="#0000a8"/>
<rect x="1423" y="1079.3" width="2" height="3.8" fill="#0000d1"/>
<rect x="1423" y="1069.3" width="2" height="10.4" fill="#0000a8"/>
<rect x="1423" y="1067.4" width="2" height="2.3" fill="#0000d1"/>
<rect x="1423" y="1065.6" width="2" height="2.2" fill="#0000a8"/>
<rect x="1425" y="1091.7" width="2" height="30.7" fill="#0000a8"/>
<rect x="1425" y="1086.7" width="2" height="5.3" fill="#0000d1"/>
<rect x="1425" y="1071.4" width="2" height="15.8" fill="#0000a8"/>
<rect x="1425" y="1069.3" width="2" height="2.5" fill="#0000d1"/>
<rect x="1425" y="1065.6" width="2" height="4.1" fill="#0000a8"/>
<rect x="1427" y="1098.1" width="2" height="24.3" fill="#0000d1"/>
<rect x="1427" y="1091.7" width="2" height="6.8" fill="#0000fa"/>
<rect x="1427" y="1086.7" width="2" height="5.3" fill="#0000d1"/>
<rect x="1427" y="1082.7" width="2" height="4.4" fill="#0000a8"/>
<rect x="1427" y="1079.3" width="2" height="3.8" fill="#0000d1"/>
<rect x="1427" y="1076.3" width="2" height="3.4" fill="#0000a8"/>
<rect x="1427" y="1073.7" width="2" height="3" fill="#0000d1"/>
<rect x="1427" y="1069.3" width="2" height="4.8" fill="#0000a8"/>
<rect x="1427" y="1067.4" width="2" height="2.3" fill="#0000d1"/>
<rect x="1427" y="1065.6" width="2" height="2.2" fill="#0000a8"/>
<rect x="1429" y="1107" width="2" height="15.4" fill="#0000a8"/>
<rect x="1429" y="1091.7" width="2" height="15.8" fill="#0000d1"/>
<rect x="1429" y="1076.3" width="2" height="15.8" fill="#0000a8"/>
<rect x="1429" y="1073.7" width="2" height="3" fill="#0000d1"/>
<rect x="1429" y="1065.6" width="2" height="8.5" fill="#0000a8"/>
<rect x="1431" y="1107" width="2" height="15.4" fill="#0000fa"/>
<rect x="1431" y="1079.3" width="2" height="28.1" fill="#0000d1"/>
<rect x="1431" y="1069.3" width="2" height="10.4" fill="#0000a8"/>
<rect x="1431" y="1067.4" width="2" height="2.3" fill="#0000d1"/>
<rect x="1431" y="1065.6" width="2" height="2.2" fill="#0000a8"/>
<rect x="1433" y="1091.7" width="2" height="30.7" fill="#0000d1"/>
<rect x="1433" y="1086.7" width="2" height="5.3" fill="#0000a8"/>
<rect x="1433" y="1082.7" width="2" height="4.4" fill="#0000d1"/>
<rect x="1433" y="1079.3" width="2" height="3.8" fill="#0000a8"/>
<rect x="1433" y="1076.3" width="2" height="3.4" fill="#0000d1"/>
<rect x="1433" y="1073.7" width="2" height="3" fill="#0000a8"/>
<rect x="1433" y="1067.4" width="2" height="6.8" fill="#0000d1"/>
<rect x="1433" y="1065.6" width="2" height="2.2" fill="#0000a8"/>
<rect x="1435" y="1107" width="2" height="15.4" fill="#0000d1"/>
<rect x="1435" y="1098.1" width="2" height="9.4" fill="#0000fa"/>
<rect x="1435" y="1086.7" width="2" height="11.7" fill="#0000d1"/>
<rect x="1435" y="1082.7" width="2" height="4.4" fill="#0000a8"/>
<rect x="1435" y="1079.3" width="2" height="3.8" fill="#0000d1"/>
<rect x="1435" y="1065.6" width="2" height="14.1" fill="#0000a8"/>
<rect x="1437" y="1091.7" width="2" height="30.7" fill="#0000d1"/>
<rect x="1437" y="1065.6" width="2" height="26.5" fill="#0000a8"/>
<rect x="1439" y="1076.3" width="2" height="46.1" fill="#0000d1"/>
<rect x="1439" y="1073.7" width="2" height="3" fill="#0000a8"/>
<rect x="1439" y="1069.3" width="2" height="4.8" fill="#0000d1"/>
<rect x="1439" y="1065.6" width="2" height="4.1" fill="#0000a8"/>
<rect x="1441" y="1107" width="2" height="15.4" fill="#0000d1"/>
<rect x="1441" y="1091.7" width="2" height="15.8" fill="#0000fa"/>
<rect x="1441" y="1076.3" width="2" height="15.8" fill="#0000d1"/>
<rect x="1441" y="1071.4" width="2" height="5.3" fill="#0000a8"/>
<rect x="1441" y="1069.3" width="2" height="2.5" fill="#0000d1"/>
<rect x="1441" y="1065.6" width="2" height="4.1" fill="#0000a8"/>
<rect x="1443" y="1107" width="2" height="15.4" fill="#0000a8"/>
<rect x="1443" y="1098.1" width="2" height="9.4" fill="#0000d1"/>
<rect x="1443" y="1076.3" width="2" height="22.1" fill="#0000a8"/>
<rect x="1443" y="1071.4" width="2" height="5.3" fill="#0000d1"/>
<rect x="1443" y="1065.6" width="2" height="6.2" fill="#0000a8"/>
<rect x="1445" y="1107" width="2" height="15.4" fill="#6bff94"/>
<rect x="1445" y="1098.1" width="2" height="9.4" fill="#94ff6b"/>
<rect x="1445" y="1091.7" width="2" height="6.8" fill="#42ffbd"/>
<rect x="1445" y="1086.7" width="2" height="5.3" fill="#00c7ff"/>
<rect x="1445" y="1082.7" width="2" height="4.4" fill="#009eff"/>
<rect x="1445" y="1079.3" width="2" height="3.8" fill="#0075ff"/>
<rect x="1445" y="1076.3" width="2" height="3.4" fill="#004dff"/>
<rect x="1445" y="1073.7" width="2" height="3" fill="#0075ff"/>
<rect x="1445" y="1071.4" width="2" height="2.7" fill="#004dff"/>
<rect x="1445" y="1069.3" width="2" height="2.5" fill="#0024ff"/>
<rect x="1445" y="1065.6" width="2" height="4.1" fill="#004dff"/>
<rect x="1447" y="1107" width="2" height="15.4" fill="#009eff"/>
<rect x="1447" y="1098.1" width="2" height="9.4" fill="#94ff6b"/>
<rect x="1447" y="1091.7" width="2" height="6.8" fill="#6bff94"/>
<rect x="1447" y="1082.7" width="2" height="9.4" fill="#42ffbd"/>
<rect x="1447" y="1079.3" width="2" height="3.8" fill="#00c7ff"/>
<rect x="1447" y="1076.3" width="2" height="3.4" fill="#009eff"/>
<rect x="1447" y="1073.7" width="2" height="3" fill="#00f0ff"/>
<rect x="1447" y="1071.4" width="2" height="2.7" fill="#00c7ff"/>
<rect x="1447" y="1065.6" width="2" height="6.2" fill="#009eff"/>
<rect x="1449" y="1107" width="2" height="15.4" fill="#004dff"/>
<rect x="1449" y="1098.1" width="2" height="9.4" fill="#0075ff"/>
<rect x="1449" y="1086.7" width="2" height="11.7" fill="#004dff"/>
<rect x="1449" y="1079.3" width="2" height="7.9" fill="#0024ff"/>
<rect x="1449" y="1073.7" width="2" height="6" fill="#0000fa"/>
<rect x="1449" y="1071.4" width="2" height="2.7" fill="#0000d1"/>
<rect x="1449" y="1069.3" width="2" height="2.5" fill="#0000fa"/>
<rect x="1449" y="1065.6" width="2" height="4.1" fill="#0000d1"/>
<rect x="1451" y="1107" width="2" height="15.4" fill="#6bff94"/>
<rect x="1451" y="1098.1" width="2" height="9.4" fill="#bdff42"/>
<rect x="1451" y="1091.7" width="2" height="6.8" fill="#fff000"/>
<rect x="1451" y="1086.7" width="2" height="5.3" fill="#1affe5"/>
<rect x="1451" y="1082.7" width="2" height="4.4" fill="#6bff94"/>
<rect x="1451" y="1079.3" width="2" height="3.8" fill="#42ffbd"/>
<rect x="1451" y="1073.7" width="2" height="6" fill="#009eff"/>
<rect x="1451" y="1071.4" width="2" height="2.7" fill="#00c7ff"/>
<rect x="1451" y="1069.3" width="2" height="2.5" fill="#00f0ff"/>
<rect x="1451" y="1065.6" width="2" height="4.1" fill="#00c7ff"/>
<rect x="1453" y="1107" width="2" height="15.4" fill="#00c7ff"/>
<rect x="1453" y="1098.1" width="2" height="9.4" fill="#42ffbd"/>
<rect x="1453" y="1091.7" width="2" height="6.8" fill="#00c7ff"/>
<rect x="1453" y="1086.7" width="2" height="5.3" fill="#0075ff"/>
<rect x="1453" y="1082.7" width="2" height="4.4" fill="#00c7ff"/>
<rect x="1453" y="1079.3" width="2" height="3.8" fill="#0024ff"/>
<rect x="1453" y="1076.3" width="2" height="3.4" fill="#0075ff"/>
<rect x="1453" y="1073.7" width="2" height="3" fill="#004dff"/>
<rect x="1453" y="1071.4" width="2" height="2.7" fill="#0075ff"/>
<rect x="1453" y="1069.3" width="2" height="2.5" fill="#004dff"/>
<rect x="1453" y="1067.4" width="2" height="2.3" fill="#0024ff"/>
<rect x="1453" y="1065.6" width="2" height="2.2" fill="#0000fa"/>
<rect x="1455" y="1098.1" width="2" height="24.3" fill="#0000d1"/>
<rect x="1455" y="1086.7" width="2" height="11.7" fill="#0000a8"/>
<rect x="1455" y="1079.3" width="2" height="7.9" fill="#0000d1"/>
<rect x="1455" y="1065.6" width="2" height="14.1" fill="#0000a8"/>
<rect x="1457" y="1086.7" width="2" height="35.7" fill="#0000d1"/>
<rect x="1457" y="1082.7" width="2" height="4.4" fill="#0000a8"/>
<rect x="1457" y="1079.3" width="2" height="3.8" fill="#0000d1"/>
<rect x="1457" y="1065.6" width="2" height="14.1" fill="#0000a8"/>
<rect x="1459" y="1107" width="2" height="15.4" fill="#0000d1"/>
<rect x="1459" y="1098.1" width="2" height="9.4" fill="#0000a8"/>
<rect x="1459" y="1091.7" width="2" height="6.8" fill="#0000d1"/>
<rect x="1459" y="1069.3" width="2" height="22.8" fill="#0000a8"/>
<rect x="1459" y="1067.4" width="2" height="2.3" fill="#0000d1"/>
<rect x="1459" y="1065.6" width="2" height="2.2" fill="#0000a8"/>
<rect x="1430.3" y="1065.6" width="1.3" height="56.4" fill="#2effd1"/>
<rect x="259.5" y="969.5" width="1550" height="153" fill="none" stroke="#000" stroke-width="1"/>
<text x="234.5" y="1003.8" text-anchor="end">10</text>
<text x="234" y="987.5" style="font-size:18.5px">-1</text>
<text x="234.5" y="1054.8" text-anchor="end">10</text>
<text x="235" y="1039" style="font-size:18.5px">0</text>
<text x="234.5" y="1105.8" text-anchor="end">10</text>
<text x="236" y="1090" style="font-size:18.5px">1</text>
<text transform="translate(183.5,1151.6) rotate(-90)">Wavelength (km)</text>
<defs><clipPath id="mapclip"><rect x="260" y="1133" width="1551" height="223"/></clipPath></defs>
<line x1="262" y1="1179.5" x2="1810" y2="1179.5" stroke="#000" stroke-dasharray="1 4"/>
<line x1="262" y1="1244.5" x2="1810" y2="1244.5" stroke="#000" stroke-dasharray="1 4"/>
<line x1="262" y1="1309.5" x2="1810" y2="1309.5" stroke="#000" stroke-dasharray="1 4"/>
<line x1="441.5" y1="1352" x2="441.5" y2="1133" stroke="#000" stroke-dasharray="1 4"/>
<line x1="622.5" y1="1352" x2="622.5" y2="1133" stroke="#000" stroke-dasharray="1 4"/>
<line x1="803.5" y1="1352" x2="803.5" y2="1133" stroke="#000" stroke-dasharray="1 4"/>
<line x1="984.5" y1="1352" x2="984.5" y2="1133" stroke="#000" stroke-dasharray="1 4"/>
<line x1="1165.5" y1="1352" x2="1165.5" y2="1133" stroke="#000" stroke-dasharray="1 4"/>
<line x1="1449.5" y1="1352" x2="1449.5" y2="1133" stroke="#000" stroke-dasharray="1 4"/>
<line x1="1629.5" y1="1352" x2="1629.5" y2="1133" stroke="#000" stroke-dasharray="1 4"/>
<g clip-path="url(#mapclip)">
<path d="M1676.5 1358 1677.4 1355.4 1676.5 1350.2 1678.2 1344.6 1677.8 1342 1679.5 1339 1681.3 1341.1 1683.4 1338.1 1686 1336.8 1690.7 1334.2 1695.5 1333.8 1699.8 1332.5 1704.9 1330.7 1709.7 1328.6 1711.8 1325.1 1714.8 1322.5 1714.4 1319 1717.9 1315.6 1720 1318.6 1721.7 1316.4 1720.4 1314.3 1723.9 1312.1 1726 1309.5 1729.1 1307.3 1731.2 1305.2 1734.7 1304.3 1737.7 1306 1740.2 1309.1 1743.3 1309.5 1745.8 1308.2 1746.3 1305.2 1748.9 1301.7 1749.7 1299.1 1751.9 1298.2 1754.5 1297.4 1758.8 1297.8 1759.2 1294.8 1762.6 1295.6 1766.1 1296.5 1770 1297.4 1773.4 1296.1 1776.4 1296.9 1777.7 1298.2 1776 1300.8 1773.8 1303 1773 1306 1771.2 1308.6 1773.8 1311.7 1777.3 1313.4 1781.2 1315.1 1783.7 1317.3 1787.2 1319.5 1790.2 1320.8 1793.6 1320.8 1795.4 1317.7 1796.7 1313.8 1797.5 1309.5 1797.9 1304.3 1797.5 1299.1 1799.2 1295.6 1801 1292.2 1802.3 1290.9 1803.5 1294.3 1804.8 1297.4 1806.1 1300.4 1806.1 1304.3 1808.7 1306M260.9 1306.5 263.9 1309.1 263.9 1313 264.7 1316 266.5 1318.2 267.3 1322.1 267.3 1325.1 268.6 1326.8 272.1 1328.6 275.5 1330.7 278.9 1332.5 281.1 1335.5 282.4 1340.7 285 1341.6 287.6 1342.4 288 1346.3 291 1348.9 293.6 1351.5 296.6 1354.1 297.9 1357.2M1752.3 1249.7 1754.9 1248 1758.8 1246.2 1762.6 1247.5 1765.7 1248.8 1766.1 1253.2 1767.8 1255.8 1770.4 1258.8 1773 1257.5 1775.1 1254.5 1779 1251.4 1782.4 1251.4 1785.9 1253.2 1789.8 1254.5 1794.1 1255.3 1797.9 1256.2 1801.8 1258.4 1806.1 1259.7M260.4 1261.4 263.9 1263.6 266 1266.2 266 1268.3 269 1270.5 272.9 1270.9 274.6 1273.1 272.1 1276.6 275.1 1279.2 277.2 1281.8 279.4 1283.9 281.1 1285.7 283.7 1287.8 286.7 1289.1 285 1290.4 281.5 1289.1 277.2 1288.7 272.9 1287 270.8 1283.5 267.7 1280 264.3 1278.3 260.4 1277.4M1807.4 1278.3 1805.3 1280.9 1804.8 1283.5 1801.4 1284.4 1796.7 1283.9 1793.2 1281.8 1790.6 1279.6 1786.8 1279.6 1783.7 1280.9 1781.2 1280 1782.9 1276.6 1785.5 1274 1782.9 1269.2 1779.4 1266.2 1774.7 1264.4 1770.4 1263.6 1766.5 1261.4 1763.9 1260.1 1761.8 1261.8 1760.1 1260.1 1758.8 1256.6 1756.6 1256.6 1755.3 1254.5 1753.2 1251.4 1752.3 1249.7M276.8 1268.8 281.1 1268.3 285.4 1268.3 288 1267 291 1265.7 293.6 1263.1 294.4 1265.3 292.3 1267.9 288.8 1270.1 285 1271.4 280.7 1270.9 277.2 1270.1 276.8 1268.8M286.7 1255.3 290.6 1257.5 294 1260.1 297 1263.6 297.5 1265.3 295.7 1264.9 293.2 1261.8 289.7 1259.2 286.7 1257.1 286.7 1255.3M269.5 1252.9 272.9 1252.9 272.9 1254 269.5 1254 269.5 1252.9M303.9 1266.6 306.9 1268.3 309.5 1271.8 308.2 1274 306.1 1272.2 304.3 1269.2 303.9 1266.6M312.1 1273.1 316 1275.7 315.1 1276.6 311.7 1274 312.1 1273.1M319.4 1278.7 324.2 1280.5 326.7 1281.3 325.4 1282.2 320.7 1280 319.4 1278.7M325.4 1284.8 328.9 1285.2 330.6 1287.4 326.7 1287 325.4 1284.8M329.7 1280.5 331.9 1282.2 333.2 1286.1 331.5 1285.2 329.7 1280.5M333.2 1288.7 337.1 1290.4 336.2 1291.3 332.8 1289.6 333.2 1288.7M355.6 1308.2 358.2 1309.9 357.7 1312.1 356.4 1312.1 355.6 1308.2M358.2 1313.8 360.8 1315.6 359.9 1316.4 358.2 1313.8M362.5 1320.3 364.2 1320.8 363.3 1321.6 362.5 1320.3M344 1331.6 347 1332.5 351.3 1335.5 355.6 1339.4 357.7 1341.6 356.4 1342 352.6 1339.4 348.7 1336.8 345.2 1334.2 344 1331.6M401.7 1320.8 404.2 1319.5 407.2 1321.2 406.8 1322.9 404.2 1323.8 401.7 1322.1 401.7 1320.8M407.2 1317.3 410.3 1315.6 413.3 1314.7 412.8 1316.4 410.3 1317.3 407.2 1317.3M444.3 1303 446.9 1303 446.4 1304.3 444.3 1303.9 444.3 1303M447.7 1304.3 450.3 1304.7 449.9 1305.4 447.7 1305.2 447.7 1304.3M544.2 1320.3 545.9 1320.8 545.5 1321.8 544.2 1321.4 544.2 1320.3M517 1157 520.5 1158.3 521.8 1160 518.3 1162.6 517 1161.7 516.6 1159.1 517 1157M513.6 1153.9 516.6 1154.4 515.8 1155.2 514.5 1155.2 513.6 1153.9M511 1152.6 513.6 1152.9 513.2 1153.3 511 1153.1 511 1152.6M506.7 1150.9 509.3 1151.3 509.3 1152.4 507.6 1152.2 506.7 1150.9M500.2 1148.3 502.4 1148.3 502 1149.6 500.2 1149.2 500.2 1148.3M793.9 1245.8 796.5 1245.4 797.8 1247.1 795.6 1248.8 793.9 1245.8M703.5 1129.7 705.6 1135.3 705.6 1137.9 708.6 1139.2 711.7 1141.8 714.7 1145.3 717.2 1144 715.5 1141.4 713.4 1139.2 711.7 1137 709.5 1133.6 709.1 1130.5M716 1130.1 719.4 1134 723.7 1137.9 728 1141.8 732.3 1146.1 734.9 1151.3 733.6 1155.2 735.8 1159.1 739.2 1162.2 743.1 1165.2 748.2 1166.9 753.4 1169.5 758.6 1172.1 763.7 1173.9 769.3 1175.6 774.1 1176.9 778.8 1174.7 782.7 1174.7 786.6 1177.3 790.9 1181.2 794.8 1184.3 799.5 1184.7 803.8 1186.4 808.1 1187.3 811.5 1188.2 812.4 1189.9 815 1192.5 818 1195.5 819.3 1197.7 818.9 1200.7 821.4 1202 823.2 1201.6 824 1203.3 827.9 1205.9 828.3 1208.1 831.3 1209.4 834.4 1209 836.9 1210.7 840 1212.9 842.1 1212.4 843.4 1210.3 841.7 1209 845.1 1205.9 847.7 1205.5 850.3 1207.7 851.6 1209.8 852.9 1212.9 855 1215.9 855 1220.2 855.5 1225 854.6 1228.9 851.2 1233.2 849 1236.7 845.1 1239.7 843.4 1243.2 841.7 1247.1 840 1249.7 841.2 1253.2 843.8 1255.8 842.5 1259.2 839.5 1261.8 838.2 1264.9 839.5 1268.3 840.4 1270.9 844.3 1274.8 846.8 1278.7 849.4 1283.5 852 1288.7 855.5 1294.8 858.5 1299.1 860.2 1303 862.3 1307.8 865.4 1311.7 869.7 1314.3 874.8 1317.3 880.4 1320.3 884.3 1323.4 885.6 1326.8 886 1332 886.5 1337.2 885.2 1342.4 884.7 1346.8 884.3 1351.5 883.4 1358M769.3 1130.5 768.1 1136.2 767.2 1141.4 767.2 1147 768.9 1151.8 771.5 1155.7 773.7 1160.4 776.2 1163 780.1 1164.8 783.6 1165.6 787.9 1164.8 792.2 1163.9 794.3 1164.3 797.3 1161.3 798.6 1158.3 799.1 1153.9 802.1 1152.2 806.8 1151.3 811.1 1151.3 814.1 1152.2 814.1 1154.4 812 1157.8 811.5 1160.9 810.2 1164.3 808.5 1165.2 808.1 1168.2 808.1 1172.1 806.4 1175.2 808.5 1176.5 811.5 1176 815.8 1176 820.2 1175.6 823.6 1175.6 826.6 1177.8 829.6 1179.5 829.2 1183 828.8 1187.3 828.3 1191.2 827.5 1195.5 828.8 1198.1 831.8 1201.2 834.4 1204.2 836.5 1205.5 839.5 1205.9 842.5 1204.6 845.6 1202.9 848.6 1203.8 852.4 1205.1 855 1207.2 857.6 1208.1 858.9 1204.6 861.9 1201.6 863.2 1198.6 865.8 1196.8 868.8 1195.5 872.7 1195.5 876.1 1193.4 878.7 1191.6 881.3 1191.2 879.6 1193.4 878.7 1195.5 880 1197.3 878.7 1200.3 879.1 1204.2 881.7 1204.6 882.6 1202 880.4 1198.1 883 1196 886 1194.7 886.9 1192.1 887.7 1194.7 891.2 1195.1 894.2 1197.3 897.7 1198.6 902 1198.6 905.8 1200.7 910.1 1200.3 913.6 1198.6 918.7 1198.1 921.3 1198.6 922.2 1201.2 925.6 1202.5 927.4 1206.4 929.9 1208.1 933.4 1210.7 936.4 1213.3 938.6 1215.9 941.6 1218.5 945.4 1218.9 949.8 1218.9 954.5 1219.4 958.4 1220.7 962.2 1222.8 965.2 1225.4 967.4 1228.9 969.1 1233.2 970.8 1236.7 973 1239.7 973.4 1243.2 970.8 1244.9 973 1246.7 977.3 1245.4 979.9 1247.1 979.5 1250.6 982.9 1247.5 987.2 1248.4 991.5 1250.1 995 1251.4 997.5 1254.9 1001 1254.9 1006.2 1256.6 1010.9 1257.1 1016.1 1256.6 1020.4 1259.7 1023.8 1262.7 1027.7 1265.3 1032 1266.6 1035.9 1267.5 1037.6 1271.8 1038.4 1276.1 1037.6 1280.5 1035.9 1284.4 1033.3 1287.4 1029.8 1291.3 1027.2 1295.2 1024.7 1299.1 1021.2 1301.7 1020.4 1306 1020.4 1310.8 1020.8 1315.1 1019.5 1320.3 1017.3 1325.5 1016.1 1330.3 1013.5 1334.2 1011.7 1338.1 1008.3 1342 1005.3 1343.7 1001.4 1344.2 997.5 1344.6 993.7 1346.8 989.4 1348.5 985.1 1351.1 981.6 1353.7 979 1358M822.7 1149.6 824.9 1147 830.1 1145.3 835.2 1144.4 841.2 1144.4 846.8 1146.6 852.4 1148.3 855.9 1150.9 861.1 1153.1 864.5 1154.8 868.8 1157 865.8 1158.3 858.9 1158.3 853.7 1158.3 855.9 1155.2 851.6 1153.9 848.1 1150.9 841.7 1149.6 836.9 1148.3 831.8 1146.6 827.5 1149.2 822.7 1149.6M867.9 1158.3 873.1 1158.3 878.3 1158.3 884.7 1158.7 889 1160.9 893.8 1163.9 891.2 1164.8 886 1165.6 882.2 1167.8 878.3 1165.6 872.2 1166.1 867.9 1164.8 872.7 1163.5 874.8 1162.2 872.2 1159.6 867.9 1158.3M851.2 1164.8 855.5 1164.3 859.8 1166.1 857.2 1167.4 853.3 1166.9 851.2 1165.6 851.2 1164.8M898.9 1164.3 905.4 1164.8 905.4 1166.5 898.9 1166.5 898.9 1164.3M921.8 1198.1 925.6 1197.7 925.6 1200.7 921.8 1200.7 921.8 1198.1M922.2 1173 924.8 1173.4 923.5 1175.2 922.2 1174.3 922.2 1173M924.8 1179.9 926.5 1180.8 925.6 1182.1 924.8 1179.9M852.4 1135.3 853.7 1137.9 853.3 1140.5 851.2 1138.3 852.4 1135.3M858.9 1136.2 860.6 1138.8 862.3 1142.2 861.9 1143.5 859.8 1139.6 858.9 1136.2M1126.3 1130.1 1124.1 1134.4 1121.1 1139.2 1118.5 1141.8 1116.8 1147 1114.7 1153.5 1116.8 1156.5 1118.1 1160.9 1119 1166.1 1117.2 1173 1115.5 1177.3 1112.9 1180.8 1115.1 1183 1116.4 1186.4 1115.9 1190.3 1118.5 1192.9 1122.4 1195.1 1124.6 1197.7 1128 1201.2 1131 1204.6 1132.7 1208.5 1134.9 1212 1139.2 1214.6 1143.1 1217.6 1147.4 1221.5 1152.5 1224.6 1156 1225.4 1159.9 1224.1 1164.6 1222.4 1168.9 1222 1173.2 1222.4 1177.5 1223.7 1181.4 1222.8 1186.1 1221.1 1191.3 1219.4 1195.2 1217.6 1199 1217.2 1202.9 1216.8 1207.2 1217.2 1209.8 1219.4 1212.4 1223.3 1215.4 1225.9 1218.8 1225.4 1222.7 1225 1225.3 1224.6 1228.3 1227.6 1230.5 1231.1 1230.5 1235.4 1229.2 1239.7 1228.3 1243.6 1227 1247.5 1229.2 1252.3 1232.6 1256.6 1236.1 1261 1239.1 1264.4 1240.8 1267.5 1241.2 1270.9 1243.4 1274.4 1245.5 1279.2 1245.5 1283.5 1245.1 1287 1247.3 1291.3 1247.7 1295.6 1246 1299.1 1243 1303 1241.2 1307.3 1239.9 1312.1 1239.1 1316.4 1239.1 1320.8 1241.7 1325.1 1245.1 1331.2 1248.1 1337.2 1250.3 1341.1 1250.7 1346.3 1251.6 1351.1 1252.4 1355.4 1253.7 1359.8M1335.5 1128.4 1337.2 1132.3 1339.8 1137.5 1341.6 1141.4 1342 1144.8 1345.9 1148.7 1348.4 1153.1 1348.9 1157.8 1349.3 1162.6 1353.6 1166.5 1355.8 1171.7 1357.5 1176 1359.6 1178.2 1363.1 1181.2 1366.1 1184.7 1369.5 1188.6 1372.1 1190.8 1374.7 1193.4 1373.8 1195.1 1375.6 1196.8 1379 1199.4 1382.9 1199 1386.8 1197.7 1391.9 1196.4 1396.7 1195.5 1401.8 1194.7 1406.1 1192.9 1409.2 1193.4 1408.3 1197.3 1407.9 1200.3 1407 1203.8 1404.8 1207.7 1401.8 1213.3 1398.8 1218.5 1395.4 1223.7 1391.1 1228.9 1386.8 1234.1 1382 1237.6 1377.3 1240.6 1373 1244.5 1369.1 1248.4 1367 1251.9 1364.4 1254.5 1361.4 1257.1 1359.2 1261 1357.1 1264.4 1355.8 1269.2 1357.9 1272.7 1358.3 1276.6 1357.9 1280 1359.2 1283.9 1361.4 1288.7 1362.7 1292.2 1362.7 1296.5 1363.1 1302.1 1363.5 1307.3 1362.2 1311.2 1358.3 1315.1 1354 1318.2 1349.3 1321.2 1345.4 1325.1 1341.6 1328.6 1338.1 1330.7 1338.5 1334.6 1340.3 1338.1 1341.1 1341.6 1341.1 1345.9 1340.7 1348.5 1336.8 1351.1 1332.1 1353.7 1329.5 1356.3 1329.9 1359.8M1400.5 1296.5 1403.1 1301.7 1404.4 1306.9 1405.7 1311.7 1404 1315.1 1401.8 1319.5 1400.5 1324.7 1398.4 1331.2 1396.2 1338.1 1394.1 1345 1391.5 1352 1387.6 1353.7 1382.9 1355.4 1379 1353.3 1376.9 1348.5 1376 1343.7 1374.7 1339.8 1376.9 1335.5 1379.4 1331.2 1378.6 1326.4 1377.3 1320.3 1379.4 1315.6 1383.3 1313.8 1387.6 1313 1391.5 1309.5 1394.1 1305.2 1396.2 1303 1398.4 1298.7 1400.5 1296.5M1325.2 1246.2 1329.1 1243.2 1332.9 1243.6 1335.1 1245.8 1336.4 1248.4 1334.2 1251.4 1331.2 1254.9 1328.2 1255.8 1324.8 1253.6 1324.3 1249.3 1325.2 1246.2M1314 1259.2 1315.3 1264 1317 1270.1 1319.6 1274.8 1322.2 1279.2 1320.9 1281.8 1317.9 1277 1314.9 1271.4 1313.6 1265.3 1314 1259.2M1334.7 1286.1 1336.4 1290.4 1337.2 1295.6 1337.2 1300.8 1339.8 1306 1339 1306.9 1336.4 1301.7 1335.5 1296.5 1334.2 1291.3 1334.7 1286.1M1246.8 1184.3 1249 1183 1251.1 1185.6 1249.8 1188.6 1247.7 1187.3 1246.8 1184.3M1417.8 1189.5 1420.8 1189.5 1422.9 1190.3 1420.3 1191.2 1417.8 1190.3 1417.8 1189.5M1435 1331.2 1437.1 1331.6 1436.7 1333.3 1435 1332.9 1435 1331.2M1425.9 1335.1 1428.1 1335.5 1428.1 1336.8 1426.4 1336.8 1425.9 1335.1M1224.9 1228 1226.6 1228.5 1225.7 1230.6 1224.9 1229.8 1224.9 1228M1357.1 1269.6 1358.8 1270.5 1358.3 1272.7 1357.1 1271.4 1357.1 1269.6M1344.1 1129.2 1347.2 1133.6 1349.7 1139.2 1353.6 1142.2 1355.8 1146.6 1356.6 1150.5 1358.8 1155.2 1361.4 1158.7 1364.4 1162.2 1366.5 1166.5 1369.5 1170 1371.7 1173.4 1372.6 1177.3 1373 1180.8 1374.3 1184.7 1375.6 1189.5 1378.6 1189.9 1382 1188.6 1385.5 1186.4 1389.8 1186 1394.5 1183.8 1398.8 1183.4 1402.3 1180.4 1406.1 1178.6 1410 1177.8 1413 1176 1413.9 1173 1417.8 1171.7 1422.1 1170.8 1425.9 1169.1 1427.7 1166.9 1431.5 1165.6 1434.6 1162.6 1437.1 1160.9 1437.1 1157.4 1440.2 1155.7 1443.2 1151.8 1445.7 1147.4 1442.3 1145.3 1439.7 1142.2 1435.8 1140.9 1432.8 1138.8 1430.7 1136.2 1431.1 1131 1429.8 1130.1 1427.7 1133.6 1425.1 1136.2 1422.1 1139.2 1417.8 1140.1 1413 1140.5 1410.4 1139.2 1409.6 1135.3 1410.4 1132.3 1408.3 1130.5M1429.4 1126.6 1432.8 1127.1 1435 1131 1438 1133.1 1443.6 1134.4 1448.8 1134.9 1453.5 1135.3 1458.2 1135.3 1462.1 1134.9 1466.4 1135.3 1470.3 1134.4 1474.6 1134.4 1476.3 1137 1478.9 1139.2 1480.2 1141.8 1482.8 1143.1 1484.5 1145.3 1487.5 1145.7 1491 1145.3 1489.7 1147.4 1486.2 1147.9 1487.5 1150 1491 1153.5 1494.8 1154.4 1499.1 1152.2 1500.9 1150.5 1502.2 1154.4 1501.7 1158.7 1502.2 1163 1503 1166.5 1504.3 1171.3 1505.2 1175.2 1506.5 1178.6 1508.2 1182.1 1509.5 1186.4 1510.8 1189.5 1512.9 1193.4 1514.6 1196.8 1516.4 1200.7 1517.7 1204.2 1519.8 1207.7 1522 1209.4 1524.5 1206.8 1525.8 1204.6 1528.8 1204.2 1529.7 1200.3 1531.9 1199.4 1531.9 1195.5 1532.3 1191.6 1533.6 1187.3 1533.6 1182.5 1533.2 1178.6 1536.2 1175.6 1539.2 1173.9 1542.6 1172.6 1545.2 1169.5 1548.7 1166.9 1552.5 1163 1556 1160 1560.3 1157.4 1562.4 1154.4 1563.3 1151.3 1567.2 1150.5 1570.2 1150.9 1572.8 1150 1575.3 1149.2 1578.4 1147.4 1580.5 1145.7 1583.5 1147.4 1584.4 1150.9 1585.2 1153.9 1587.8 1156.5 1590.4 1160 1592.6 1163 1594.3 1166.5 1595.2 1170.4 1594.3 1174.3 1596.9 1176 1599.5 1176 1602.9 1173.4 1605.5 1170.8 1607.2 1172.6 1608.5 1176 1609.4 1179.9 1611.1 1185.6 1612.8 1190.3 1613.2 1195.1 1612.4 1199.4 1611.5 1204.6 1611.5 1209 1612.8 1210.7 1615.4 1213.7 1618 1216.3 1620.1 1220.2 1620.6 1224.6 1622.3 1228 1624.4 1231.5 1626.6 1234.1 1630 1236.3 1633.5 1238.9 1636.9 1238.4 1636.1 1235 1633.9 1231.9 1633.5 1227.6 1633 1223.7 1631.3 1220.2 1627.9 1217.6 1624.9 1214.6 1621 1212.9 1619.7 1208.5 1618.4 1204.6 1615.4 1202.9 1615.4 1199.4 1616.7 1195.1 1617.5 1190.8 1618.8 1186.9 1621 1186 1622.7 1188.2 1624.9 1189.9 1627.9 1192.1 1630.5 1194.2 1632.6 1197.7 1635.2 1199 1638.2 1199.4 1639.9 1202.9 1639.5 1206.8 1641.7 1206.8 1645.5 1203.8 1647.7 1200.3 1651.1 1198.6 1655 1196.8 1657.6 1194.7 1658.4 1191.2 1658.9 1186.9 1658 1182.1 1655.9 1178.2 1653.7 1174.7 1650.3 1171.7 1647.7 1168.7 1644.7 1164.8 1643.4 1162.2 1645.1 1158.7 1647.3 1155.7 1650.3 1153.5 1653.3 1151.3 1656.3 1150.9 1660.2 1150.9 1661.5 1153.5 1663.2 1156.1 1664.5 1153.9 1665.8 1151.8 1669.2 1150.9 1673.1 1150 1676.5 1148.3 1679.5 1147.4 1682.6 1146.1 1686.4 1145.7 1689.9 1144.8 1692.9 1142.2 1695.9 1140.1 1698.9 1137.9 1701.5 1134.9 1703.2 1132.3 1704.1 1129.2M1532.3 1202 1535.3 1202.9 1537.9 1207.2 1540.5 1212 1540 1215.9 1537.5 1218.1 1533.6 1218.5 1532.3 1215 1531.9 1210.3 1532.3 1202M1587.4 1186 1588.3 1188.2 1587.8 1192.5 1587 1194.7 1586.5 1191.6 1587 1188.2 1587.4 1186M1656.3 1160.9 1658.4 1164.3 1661.5 1165.2 1664.5 1163 1666.2 1159.6 1664.5 1157.4 1661.5 1157.4 1658.4 1158.7 1656.3 1160.9M1705.4 1144.8 1707.5 1147.9 1708.8 1149.6 1711 1144.8 1712.7 1139.6 1713.1 1136.2 1711.4 1134.9 1709.2 1136.2 1707.1 1138.8 1705.4 1142.2 1705.4 1144.8M1707.5 1164.3 1709.7 1163.9 1714.4 1164.3 1714.8 1168.2 1715.7 1170.8 1714.4 1173.9 1711.8 1175.6 1711.8 1179.5 1712.7 1183 1716.1 1183 1718.3 1184.7 1721.7 1185.1 1723 1188.2 1721.7 1189.9 1719.2 1188.2 1716.1 1186.9 1712.7 1184.3 1709.2 1185.1 1707.5 1182.5 1707.5 1180.4 1705.4 1179.1 1704.5 1174.7 1706.2 1173 1706.7 1169.1 1707.5 1164.3M1706.7 1186 1709.7 1186.4 1711.4 1188.6 1710.1 1191.2 1708.4 1190.3 1706.7 1188.2 1706.7 1186M1723.5 1190.3 1727.3 1190.3 1729.5 1194.7 1726.5 1196.4 1724.8 1194.2 1723.5 1190.3M1723.5 1194.7 1726.5 1196.4 1727.3 1200.3 1725.6 1201.2 1723.9 1198.1 1723.5 1194.7M1713.1 1192.9 1715.7 1194.2 1718.3 1196 1715.7 1199 1713.6 1199 1713.1 1192.9M1717.4 1197.3 1720 1199 1718.7 1204.2 1716.1 1203.8 1715.3 1200.3 1717.4 1197.3M1721.3 1196 1722.2 1198.6 1720 1202.9 1719.6 1200.3 1721.3 1196M1721.3 1200.7 1724.3 1201.2 1723.9 1202.9 1721.3 1202.5 1721.3 1200.7M1692.9 1208.1 1696.3 1204.6 1700.2 1201.2 1703.2 1195.5 1702.4 1195.1 1698.9 1199.4 1695 1203.8 1692.9 1208.1M1713.6 1214.2 1715.7 1211.6 1719.6 1210.7 1721.3 1208.1 1724.3 1207.7 1727.3 1205.5 1728.6 1202 1731.2 1204.2 1732.5 1209 1733.4 1213.3 1731.6 1217.2 1728.6 1218.5 1727.8 1220.2 1724.8 1218.5 1722.2 1215.9 1722.6 1212.4 1720 1211.1 1717 1212.4 1713.6 1214.2M1657.6 1238 1660.2 1235.8 1664 1236.7 1667.5 1234.1 1671.4 1231.5 1674.8 1230.6 1678.2 1226.7 1681.7 1224.1 1685.1 1222 1687.7 1218.5 1690.7 1214.6 1693.3 1214.6 1695 1217.6 1698.5 1219.4 1701.5 1221.5 1697.6 1224.1 1695.5 1226.7 1695 1230.6 1696.3 1234.5 1700.2 1239.7 1696.3 1241 1694.2 1244.5 1693.3 1248.4 1690.7 1251 1689.9 1255.3 1688.6 1259.7 1685.6 1261.4 1681.7 1261.8 1679.1 1259.2 1674.8 1257.9 1670.5 1259.7 1667.5 1257.5 1662.7 1257.1 1662.3 1252.7 1659.7 1248.8 1658 1245.4 1657.6 1242.3 1657.6 1238M1598.6 1220.2 1602.9 1222 1608.1 1222 1611.5 1226.3 1614.5 1229.8 1618.8 1234.1 1622.7 1236.7 1626.2 1237.6 1630 1240.6 1633.9 1243.2 1635.2 1247.5 1637.8 1250.6 1639.9 1254.5 1643.8 1257.5 1644.7 1261.4 1643.8 1267.5 1641.7 1269.6 1638.6 1269.6 1635.2 1266.2 1631.8 1262.7 1628.3 1259.7 1624.4 1255.8 1621.8 1252.3 1620.1 1248.4 1617.1 1244.5 1615 1240.6 1613.2 1237.1 1610.2 1234.5 1607.6 1231.5 1605.1 1228.5 1601.6 1225.4 1598.6 1222 1598.6 1220.2M1641.2 1274 1644.2 1270.5 1647.7 1270.5 1651.6 1271.4 1655 1272.2 1658.4 1274 1662.7 1274.4 1665.3 1272.2 1668.8 1273.5 1673.1 1274.4 1677 1275.7 1680.8 1277.9 1680.8 1281.3 1676.5 1280.5 1672.2 1280.5 1667.5 1280.5 1663.2 1279.6 1658.4 1277.9 1654.1 1278.3 1649.8 1277 1646.4 1276.6 1642.9 1274.4 1641.2 1274M1681.3 1279.6 1684.3 1279.6 1686.4 1280.9 1684.3 1282.6 1681.3 1280.9 1681.3 1279.6M1687.7 1280.5 1690.3 1280.5 1690.7 1282.6 1687.7 1283.1 1687.7 1280.5M1691.2 1281.3 1694.6 1279.6 1698.5 1280.5 1701.1 1281.8 1697.6 1282.6 1693.8 1283.5 1691.2 1282.6 1691.2 1281.3M1704.1 1281.3 1708.4 1280.5 1713.6 1280.9 1717.9 1280.5 1716.1 1282.2 1710.5 1283.1 1705.8 1282.6 1704.1 1281.3M1700.6 1285.7 1704.9 1285.2 1708.4 1287.8 1705.8 1289.1 1701.9 1287 1700.6 1285.7M1720 1289.1 1723.9 1286.1 1727.3 1283.5 1732.9 1281.3 1736.4 1280.9 1733.8 1282.6 1728.6 1285.7 1723.9 1288.7 1720 1289.6 1720 1289.1M1727.3 1237.6 1724.8 1240.2 1721.3 1241 1717 1240.6 1712.7 1240.2 1708.4 1238.9 1705.8 1241 1704.9 1244.5 1704.1 1247.1 1702.8 1251 1701.9 1255.3 1700.2 1258.4 1702.4 1260.1 1702.8 1264.4 1702.4 1268.3 1704.5 1268.8 1706.7 1268.3 1706.7 1264.4 1706.2 1260.1 1708.4 1256.2 1709.7 1257.9 1709.2 1263.1 1711.4 1264.9 1714.4 1267 1717 1264.4 1714.4 1260.1 1715.3 1257.5 1711.4 1253.2 1711.8 1251.4 1715.7 1248.4 1719.6 1248.4 1717.4 1246.7 1711.4 1248.4 1708.8 1250.6 1707.5 1246.7 1708.4 1242.8 1711.4 1242.3 1715.7 1242.3 1719.2 1242.8 1723.5 1242.8 1726.5 1240.2 1727.3 1237.6M1736.8 1235 1739.4 1237.6 1737.7 1240.2 1742 1238.4 1740.2 1241 1742.4 1243.2 1739.4 1242.8 1741.1 1246.2 1737.7 1246.7 1737.2 1242.8 1739 1240.2 1736.8 1238.4 1736.8 1235M1739.4 1257.1 1743.7 1256.6 1748.9 1257.5 1751.4 1260.1 1747.1 1259.7 1742 1259.7 1739.4 1258.8 1739.4 1257.1M1730.8 1258.4 1734.2 1257.9 1735.9 1260.1 1733.4 1261 1731.2 1260.1 1730.8 1258.4M260.9 1185.6 262.4 1185.6 261.7 1187.1 260.9 1186.4 260.9 1185.6" fill="none" stroke="#000" stroke-width="1.9" stroke-linejoin="round"/>
<path d="M260 1193.5 L263 1193.9 L266 1194.2 L269 1194.6 L272 1194.9 L275 1195.3 L278 1195.7 L281 1196.1 L284 1196.5 L287 1196.9 L290 1197.3 L293 1197.7 L296 1198.1 L299 1198.6 L302 1199 L305 1199.5 L308 1199.9 L311 1200.4 L314 1200.9 L317 1201.3 L320 1201.8 L323 1202.3 L326 1202.8 L329 1203.3 L332 1203.8 L335 1204.4 L338 1204.9 L341 1205.4 L344 1206 L347 1206.5 L350 1207.1 L353 1207.7 L356 1208.2 L359 1208.8 L362 1209.4 L365 1210 L368 1210.6 L371 1211.2 L374 1211.8 L377 1212.4 L380 1213 L383 1213.6 L386 1214.2 L389 1214.9 L392 1215.5 L395 1216.1 L398 1216.8 L401 1217.4 L404 1218.1 L407 1218.8 L410 1219.4 L413 1220.1 L416 1220.8 L419 1221.4 L422 1222.1 L425 1222.8 L428 1223.5 L431 1224.2 L434 1224.9 L437 1225.6 L440 1226.3 L443 1227 L446 1227.7 L449 1228.4 L452 1229.1 L455 1229.8 L458 1230.5 L461 1231.3 L464 1232 L467 1232.7 L470 1233.4 L473 1234.2 L476 1234.9 L479 1235.6 L482 1236.3 L485 1237.1 L488 1237.8 L491 1238.6 L494 1239.3 L497 1240 L500 1240.8 L503 1241.5 L506 1242.2 L509 1243 L512 1243.7 L515 1244.5 L518 1245.2 L521 1245.9 L524 1246.7 L527 1247.4 L530 1248.2 L533 1248.9 L536 1249.6 L539 1250.4 L542 1251.1 L545 1251.8 L548 1252.6 L551 1253.3 L554 1254 L557 1254.8 L560 1255.5 L563 1256.2 L566 1256.9 L569 1257.7 L572 1258.4 L575 1259.1 L578 1259.8 L581 1260.5 L584 1261.2 L587 1261.9 L590 1262.6 L593 1263.3 L596 1264 L599 1264.7 L602 1265.4 L605 1266.1 L608 1266.8 L611 1267.5 L614 1268.1 L617 1268.8 L620 1269.5 L623 1270.1 L626 1270.8 L629 1271.4 L632 1272.1 L635 1272.7 L638 1273.4 L641 1274 L644 1274.6 L647 1275.2 L650 1275.9 L653 1276.5 L656 1277.1 L659 1277.7 L662 1278.3 L665 1278.9 L668 1279.4 L671 1280 L674 1280.6 L677 1281.2 L680 1281.7 L683 1282.3 L686 1282.8 L689 1283.4 L692 1283.9 L695 1284.4 L698 1284.9 L701 1285.4 L704 1286 L707 1286.5 L710 1286.9 L713 1287.4 L716 1287.9 L719 1288.4 L722 1288.8 L725 1289.3 L728 1289.7 L731 1290.2 L734 1290.6 L737 1291 L740 1291.4 L743 1291.8 L746 1292.2 L749 1292.6 L752 1293 L755 1293.4 L758 1293.8 L761 1294.1 L764 1294.5 L767 1294.8 L770 1295.1 L773 1295.5 L776 1295.8 L779 1296.1 L782 1296.4 L785 1296.7 L788 1296.9 L791 1297.2 L794 1297.5 L797 1297.7 L800 1298 L803 1298.2 L806 1298.4 L809 1298.6 L812 1298.8 L815 1299 L818 1299.2 L821 1299.4 L824 1299.6 L827 1299.7 L830 1299.9 L833 1300 L836 1300.2 L839 1300.3 L842 1300.4 L845 1300.5 L848 1300.6 L851 1300.7 L854 1300.7 L857 1300.8 L860 1300.9 L863 1300.9 L866 1300.9 L869 1301 L872 1301 L875 1301 L878 1301 L881 1301 L884 1300.9 L887 1300.9 L890 1300.9 L893 1300.8 L896 1300.8 L899 1300.7 L902 1300.6 L905 1300.5 L908 1300.4 L911 1300.3 L914 1300.2 L917 1300 L920 1299.9 L923 1299.8 L926 1299.6 L929 1299.4 L932 1299.3 L935 1299.1 L938 1298.9 L941 1298.7 L944 1298.5 L947 1298.2 L950 1298 L953 1297.8 L956 1297.5 L959 1297.3 L962 1297 L965 1296.7 L968 1296.4 L971 1296.1 L974 1295.8 L977 1295.5 L980 1295.2 L983 1294.9 L986 1294.5 L989 1294.2 L992 1293.8 L995 1293.5 L998 1293.1 L1001 1292.7 L1004 1292.3 L1007 1291.9 L1010 1291.5 L1013 1291.1 L1016 1290.7 L1019 1290.3 L1022 1289.8 L1025 1289.4 L1028 1288.9 L1031 1288.5 L1034 1288 L1037 1287.5 L1040 1287 L1043 1286.5 L1046 1286 L1049 1285.5 L1052 1285 L1055 1284.5 L1058 1284 L1061 1283.5 L1064 1282.9 L1067 1282.4 L1070 1281.8 L1073 1281.3 L1076 1280.7 L1079 1280.1 L1082 1279.6 L1085 1279 L1088 1278.4 L1091 1277.8 L1094 1277.2 L1097 1276.6 L1100 1276 L1103 1275.4 L1106 1274.7 L1109 1274.1 L1112 1273.5 L1115 1272.8 L1118 1272.2 L1121 1271.6 L1124 1270.9 L1127 1270.2 L1130 1269.6 L1133 1268.9 L1136 1268.3 L1139 1267.6 L1142 1266.9 L1145 1266.2 L1148 1265.5 L1151 1264.9 L1154 1264.2 L1157 1263.5 L1160 1262.8 L1163 1262.1 L1166 1261.4 L1169 1260.7 L1172 1259.9 L1175 1259.2 L1178 1258.5 L1181 1257.8 L1184 1257.1 L1187 1256.4 L1190 1255.6 L1193 1254.9 L1196 1254.2 L1199 1253.4 L1202 1252.7 L1205 1252 L1208 1251.3 L1211 1250.5 L1214 1249.8 L1217 1249 L1220 1248.3 L1223 1247.6 L1226 1246.8 L1229 1246.1 L1232 1245.3 L1235 1244.6 L1235.8 1244.4 M1342.2 1244.1 L1345.2 1243.3 L1348.2 1242.6 L1351.2 1241.8 L1354.2 1241.1 L1357.2 1240.4 L1360.2 1239.6 L1363.2 1238.9 L1366.2 1238.1 L1369.2 1237.4 L1372.2 1236.7 L1375.2 1235.9 L1378.2 1235.2 L1381.2 1234.5 L1384.2 1233.7 L1387.2 1233 L1390.2 1232.3 L1393.2 1231.6 L1396.2 1230.9 L1399.2 1230.1 L1402.2 1229.4 L1405.2 1228.7 L1408.2 1228 L1411.2 1227.3 L1414.2 1226.6 L1417.2 1225.9 L1420.2 1225.2 L1423.2 1224.5 L1426.2 1223.8 L1429.2 1223.1 L1432.2 1222.4 L1435.2 1221.7 L1438.2 1221.1 L1441.2 1220.4 L1444.2 1219.7 L1447.2 1219 L1450.2 1218.4 L1453.2 1217.7 L1456.2 1217.1 L1459.2 1216.4 L1462.2 1215.8 L1465.2 1215.1 L1468.2 1214.5 L1471.2 1213.9 L1474.2 1213.3 L1477.2 1212.6 L1480.2 1212 L1483.2 1211.4 L1486.2 1210.8 L1489.2 1210.2 L1492.2 1209.6 L1495.2 1209.1 L1498.2 1208.5 L1501.2 1207.9 L1504.2 1207.3 L1507.2 1206.8 L1510.2 1206.2 L1513.2 1205.7 L1516.2 1205.1 L1519.2 1204.6 L1522.2 1204.1 L1525.2 1203.6 L1528.2 1203 L1531.2 1202.5 L1534.2 1202 L1537.2 1201.5 L1540.2 1201.1 L1543.2 1200.6 L1546.2 1200.1 L1549.2 1199.7 L1552.2 1199.2 L1555.2 1198.8 L1558.2 1198.3 L1561.2 1197.9 L1564.2 1197.5 L1567.2 1197 L1570.2 1196.6 L1573.2 1196.2 L1576.2 1195.8 L1579.2 1195.5 L1582.2 1195.1 L1585.2 1194.7 L1588.2 1194.4 L1591.2 1194 L1594.2 1193.7 L1597.2 1193.3 L1600.2 1193 L1603.2 1192.7 L1606.2 1192.4 L1609.2 1192.1 L1612.2 1191.8 L1615.2 1191.5 L1618.2 1191.3 L1621.2 1191 L1624.2 1190.7 L1627.2 1190.5 L1630.2 1190.3 L1633.2 1190 L1636.2 1189.8 L1639.2 1189.6 L1642.2 1189.4 L1645.2 1189.2 L1648.2 1189.1 L1651.2 1188.9 L1654.2 1188.7 L1657.2 1188.6 L1660.2 1188.4 L1663.2 1188.3 L1666.2 1188.2 L1669.2 1188.1 L1672.2 1188 L1675.2 1187.9 L1678.2 1187.8 L1681.2 1187.7 L1684.2 1187.7 L1687.2 1187.6 L1690.2 1187.6 L1693.2 1187.5 L1696.2 1187.5 L1699.2 1187.5 L1702.2 1187.5 L1705.2 1187.5 L1708.2 1187.5 L1711.2 1187.5 L1714.2 1187.5 L1717.2 1187.6 L1720.2 1187.6 L1723.2 1187.7 L1726.2 1187.8 L1729.2 1187.8 L1732.2 1187.9 L1735.2 1188 L1738.2 1188.1 L1741.2 1188.3 L1744.2 1188.4 L1747.2 1188.5 L1750.2 1188.7 L1753.2 1188.8 L1756.2 1189 L1759.2 1189.2 L1762.2 1189.4 L1765.2 1189.5 L1768.2 1189.7 L1771.2 1190 L1774.2 1190.2 L1777.2 1190.4 L1780.2 1190.7 L1783.2 1190.9 L1786.2 1191.2 L1789.2 1191.4 L1792.2 1191.7 L1795.2 1192 L1798.2 1192.3 L1801.2 1192.6 L1804.2 1192.9 L1807.2 1193.2 L1810.2 1193.5 L1810 1193.5" fill="none" stroke="#b41414" stroke-width="1.3"/>
</g>
<path d="M257 1209.8 L282 1211.8 L320 1215.8 L363.3 1221.8 L410 1229.5 L455 1237 L497 1243.5 L560 1251.5 L622.4 1259.2 L680 1267.5 L739.3 1277.3 L780 1285.2 L804 1290 L830 1293 L852 1294 L876 1292.4 L905 1287 L928.8 1281.2 L956 1262.8 L992.8 1246.8 L1020 1232.4 L1057.5 1215 L1120 1199.5 L1150 1196.5 L1192.5 1195 L1255 1198.7 L1327 1205 L1380 1211.2 L1430 1213 L1480 1211.3 L1520 1211 L1600 1210 L1700 1209.9 L1813 1209.9" fill="none" stroke="#08f408" stroke-width="5.8" stroke-linejoin="round"/>
<g clip-path="url(#mapclip)">
<path d="M740 1291.4 L741.5 1291.6 L743 1291.8 L744.5 1292 L746 1292.2 L747.5 1292.4 L749 1292.6 L750.5 1292.8 L752 1293 L753.5 1293.2 L755 1293.4 L756.5 1293.6 L758 1293.8 L759.5 1293.9 L761 1294.1 L762.5 1294.3 L764 1294.5 L765.5 1294.6 L767 1294.8 L768.5 1295 L770 1295.1 L771.5 1295.3 L773 1295.5 L774.5 1295.6 L776 1295.8 L777.5 1295.9 L779 1296.1 L780.5 1296.2 L782 1296.4 L783.5 1296.5 L785 1296.7 L786.5 1296.8 L788 1296.9 L789.5 1297.1 L791 1297.2 L792.5 1297.3 L794 1297.5 L795.5 1297.6 L797 1297.7 L798.5 1297.8 L800 1298 L801.5 1298.1 L803 1298.2 L804.5 1298.3 L806 1298.4 L807.5 1298.5 L809 1298.6 L810.5 1298.7 L812 1298.8 L813.5 1298.9 L815 1299 L816.5 1299.1 L818 1299.2 L819.5 1299.3 L821 1299.4 L822.5 1299.5 L824 1299.6 L825.5 1299.7 L827 1299.7 L828.5 1299.8 L830 1299.9 L831.5 1300 L833 1300 L834.5 1300.1 L836 1300.2 L837.5 1300.2 L839 1300.3 L840.5 1300.3 L842 1300.4 L843.5 1300.4 L845 1300.5 L846.5 1300.5 L848 1300.6 L849.5 1300.6 L851 1300.7 L852.5 1300.7 L854 1300.7 L855.5 1300.8 L857 1300.8 L858.5 1300.8 L860 1300.9 L861.5 1300.9 L863 1300.9 L864.5 1300.9 L866 1300.9 L867.5 1300.9 L869 1301 L870.5 1301 L872 1301 L873.5 1301 L875 1301 L876.5 1301 L878 1301 L879.5 1301 L881 1301 L882.5 1301 L884 1300.9 L885.5 1300.9 L887 1300.9 L888.5 1300.9 L890 1300.9 L891.5 1300.8 L893 1300.8 L894.5 1300.8 L896 1300.8 L897.5 1300.7 L899 1300.7 L900.5 1300.6 L902 1300.6 L903.5 1300.6 L905 1300.5 L906.5 1300.5 L908 1300.4 L909.5 1300.4 L911 1300.3 L912.5 1300.2 L914 1300.2 L915.5 1300.1 L917 1300 L918.5 1300 L920 1299.9 L921.5 1299.8 L923 1299.8 L924.5 1299.7 L926 1299.6 L927.5 1299.5 L929 1299.4 L930.5 1299.4 L932 1299.3 L933.5 1299.2 L935 1299.1 L936.5 1299 L938 1298.9 L939.5 1298.8 L941 1298.7 L942.5 1298.6 L944 1298.5 L945.5 1298.4 L947 1298.2 L948.5 1298.1 L950 1298 L951.5 1297.9 L953 1297.8 L954.5 1297.6 L956 1297.5 L957.5 1297.4 L959 1297.3 L960.5 1297.1 L962 1297 L963.5 1296.9 L965 1296.7 L966.5 1296.6 L968 1296.4 L969.5 1296.3 L971 1296.1 L972.5 1296 L974 1295.8 L975.5 1295.7 L977 1295.5 L978.5 1295.4 L980 1295.2 L981.5 1295 L983 1294.9 L984.5 1294.7 L986 1294.5 L987.5 1294.4 L989 1294.2 L990.5 1294 L992 1293.8 L993.5 1293.6 L995 1293.5 L996.5 1293.3 L998 1293.1 L999.5 1292.9 L1001 1292.7 L1002.5 1292.5 L1004 1292.3 L1005.5 1292.1 L1007 1291.9 L1008.5 1291.7 L1010 1291.5 L1011.5 1291.3 L1013 1291.1 L1014.5 1290.9 L1016 1290.7 L1017.5 1290.5 L1019 1290.3 L1020.5 1290 L1022 1289.8 L1023.5 1289.6 L1025 1289.4 L1026.5 1289.1 L1028 1288.9 L1029.5 1288.7 L1031 1288.5 L1032.5 1288.2 L1034 1288 L1035.5 1287.8 L1037 1287.5 L1038.5 1287.3 L1040 1287 L1041.5 1286.8 L1043 1286.5 L1044.5 1286.3 L1046 1286 L1047.5 1285.8 L1049 1285.5 L1050.5 1285.3 L1052 1285 L1053.5 1284.8 L1055 1284.5 L1056.5 1284.3 L1058 1284 L1059.5 1283.7 L1061 1283.5 L1062.5 1283.2 L1064 1282.9 L1065.5 1282.6 L1067 1282.4 L1068.5 1282.1 L1070 1281.8 L1071.5 1281.5 L1073 1281.3 L1074.5 1281 L1076 1280.7 L1077.5 1280.4 L1079 1280.1 L1080.5 1279.8 L1082 1279.6 L1083.5 1279.3 L1085 1279 L1086.5 1278.7 L1088 1278.4 L1089.5 1278.1 L1091 1277.8 L1092.5 1277.5 L1094 1277.2 L1095.5 1276.9 L1097 1276.6 L1098.5 1276.3 L1100 1276 L1101.5 1275.7 L1103 1275.4 L1104.5 1275 L1106 1274.7 L1107.5 1274.4 L1109 1274.1 L1110.5 1273.8 L1112 1273.5 L1113.5 1273.2 L1115 1272.8 L1116.5 1272.5 L1118 1272.2 L1119.5 1271.9 L1121 1271.6 L1122.5 1271.2 L1124 1270.9 L1125.5 1270.6 L1127 1270.2 L1128.5 1269.9 L1130 1269.6 L1131.5 1269.3 L1133 1268.9 L1134.5 1268.6 L1136 1268.3 L1137.5 1267.9 L1139 1267.6 L1140.5 1267.2 L1142 1266.9 L1143.5 1266.6 L1145 1266.2 L1146.5 1265.9 L1148 1265.5 L1149.5 1265.2 L1151 1264.9 L1152.5 1264.5 L1154 1264.2 L1155.5 1263.8 L1157 1263.5 L1158.5 1263.1 L1160 1262.8 L1161.5 1262.4 L1163 1262.1 L1164.5 1261.7 L1166 1261.4 L1167.5 1261 L1169 1260.7 L1170.5 1260.3 L1172 1259.9 L1173.5 1259.6 L1175 1259.2 L1176.5 1258.9 L1178 1258.5 L1179.5 1258.2 L1181 1257.8 L1182.5 1257.4 L1184 1257.1 L1185.5 1256.7 L1187 1256.4 L1188.5 1256 L1190 1255.6 L1191.5 1255.3 L1193 1254.9 L1194.5 1254.5 L1196 1254.2 L1197.5 1253.8 L1199 1253.4 L1200.5 1253.1 L1202 1252.7 L1203.5 1252.4 L1205 1252 L1206.5 1251.6 L1208 1251.3 L1209.5 1250.9 L1211 1250.5 L1212.5 1250.1 L1214 1249.8 L1215.5 1249.4 L1217 1249 L1218.5 1248.7 L1220 1248.3 L1221.5 1247.9" fill="none" stroke="#f01414" stroke-width="12.4" stroke-dasharray="10 3.7"/>
</g>
<path d="M261.1 1176.8 L262.9 1182.3 L268.7 1182.3 L264 1185.7 L265.8 1191.3 L261.1 1187.9 L256.4 1191.3 L258.2 1185.7 L253.5 1182.3 L259.3 1182.3Z" fill="none" stroke="#c020c0" stroke-width="1.2"/>
<path d="M359.3 1195.1 L361.1 1200.6 L366.9 1200.6 L362.2 1204 L364 1209.6 L359.3 1206.2 L354.6 1209.6 L356.4 1204 L351.7 1200.6 L357.5 1200.6Z" fill="none" stroke="#c020c0" stroke-width="1.2"/>
<path d="M510.3 1226.1 L512.1 1231.6 L517.9 1231.6 L513.2 1235 L515 1240.6 L510.3 1237.2 L505.6 1240.6 L507.4 1235 L502.7 1231.6 L508.5 1231.6Z" fill="none" stroke="#c020c0" stroke-width="1.2"/>
<path d="M856.8 1286.8 L858.6 1292.3 L864.4 1292.3 L859.7 1295.7 L861.5 1301.3 L856.8 1297.9 L852.1 1301.3 L853.9 1295.7 L849.2 1292.3 L855 1292.3Z" fill="none" stroke="#c020c0" stroke-width="1.2"/>
<path d="M997.6 1246.8 L999.4 1252.3 L1005.2 1252.3 L1000.5 1255.7 L1002.3 1261.3 L997.6 1257.9 L992.9 1261.3 L994.7 1255.7 L990 1252.3 L995.8 1252.3Z" fill="none" stroke="#c020c0" stroke-width="1.2"/>
<line x1="260" y1="1179.5" x2="276" y2="1179.5" stroke="#000"/>
<line x1="1795" y1="1179.5" x2="1811" y2="1179.5" stroke="#000"/>
<line x1="260" y1="1244.5" x2="276" y2="1244.5" stroke="#000"/>
<line x1="1795" y1="1244.5" x2="1811" y2="1244.5" stroke="#000"/>
<line x1="260" y1="1309.5" x2="276" y2="1309.5" stroke="#000"/>
<line x1="1795" y1="1309.5" x2="1811" y2="1309.5" stroke="#000"/>
<line x1="441.5" y1="1133" x2="441.5" y2="1149" stroke="#000"/>
<line x1="441.5" y1="1356" x2="441.5" y2="1340" stroke="#000"/>
<line x1="622.5" y1="1133" x2="622.5" y2="1149" stroke="#000"/>
<line x1="622.5" y1="1356" x2="622.5" y2="1340" stroke="#000"/>
<line x1="803.5" y1="1133" x2="803.5" y2="1149" stroke="#000"/>
<line x1="803.5" y1="1356" x2="803.5" y2="1340" stroke="#000"/>
<line x1="984.5" y1="1133" x2="984.5" y2="1149" stroke="#000"/>
<line x1="984.5" y1="1356" x2="984.5" y2="1340" stroke="#000"/>
<line x1="1165.5" y1="1133" x2="1165.5" y2="1149" stroke="#000"/>
<line x1="1165.5" y1="1356" x2="1165.5" y2="1340" stroke="#000"/>
<line x1="1449.5" y1="1133" x2="1449.5" y2="1149" stroke="#000"/>
<line x1="1449.5" y1="1356" x2="1449.5" y2="1340" stroke="#000"/>
<line x1="1629.5" y1="1133" x2="1629.5" y2="1149" stroke="#000"/>
<line x1="1629.5" y1="1356" x2="1629.5" y2="1340" stroke="#000"/>
<rect x="260.5" y="1133.5" width="1550" height="222" fill="none" stroke="#000"/>
<text x="186.5" y="1192.8">15<tspan x="219.3" style="font-size:22.5px" dy="-13.3">o</tspan><tspan x="231.9" dy="13.3">N</tspan></text>
<text x="186.5" y="1322.9">15<tspan x="219.3" style="font-size:22.5px" dy="-13.3">o</tspan><tspan x="232.7" dy="13.3">S</tspan></text>
<text x="214.9" y="1257.7">0<tspan x="231.3" style="font-size:22.5px" dy="-12.9">o</tspan></text>
<g style="letter-spacing:0.75px">
<text x="255.6" y="1409.5" text-anchor="middle" xml:space="preserve">GLON</text>
<text x="441.2" y="1409.5" text-anchor="middle" xml:space="preserve">186.5</text>
<text x="622.2" y="1409.5" text-anchor="middle" xml:space="preserve">228.5</text>
<text x="803.2" y="1409.5" text-anchor="middle" xml:space="preserve">270.7</text>
<text x="984.2" y="1409.5" text-anchor="middle" xml:space="preserve">312.8</text>
<text x="1165.2" y="1409.5" text-anchor="middle" xml:space="preserve">354.7</text>
<text x="1449.2" y="1409.5" text-anchor="middle" xml:space="preserve">060.6</text>
<text x="1629.2" y="1409.5" text-anchor="middle" xml:space="preserve">102.4</text>
<text x="1808.7" y="1409.5" text-anchor="middle" xml:space="preserve">144.4</text>
<text x="255.6" y="1450.5" text-anchor="middle" xml:space="preserve">GLAT</text>
<text x="441.2" y="1450.5" text-anchor="middle" xml:space="preserve">+04.2</text>
<text x="622.2" y="1450.5" text-anchor="middle" xml:space="preserve">-06.0</text>
<text x="803.2" y="1450.5" text-anchor="middle" xml:space="preserve">-12.4</text>
<text x="984.2" y="1450.5" text-anchor="middle" xml:space="preserve">-11.7</text>
<text x="1165.2" y="1450.5" text-anchor="middle" xml:space="preserve">-04.1</text>
<text x="1449.2" y="1450.5" text-anchor="middle" xml:space="preserve">+05.9</text>
<text x="1629.2" y="1450.5" text-anchor="middle" xml:space="preserve">+12.4</text>
<text x="1808.7" y="1450.5" text-anchor="middle" xml:space="preserve">+11.7</text>
<text x="255.6" y="1491.5" text-anchor="middle" xml:space="preserve"> GALT</text>
<text x="441.2" y="1491.5" text-anchor="middle" xml:space="preserve"> 453</text>
<text x="622.2" y="1491.5" text-anchor="middle" xml:space="preserve"> 404</text>
<text x="803.2" y="1491.5" text-anchor="middle" xml:space="preserve"> 477</text>
<text x="984.2" y="1491.5" text-anchor="middle" xml:space="preserve"> 628</text>
<text x="1165.2" y="1491.5" text-anchor="middle" xml:space="preserve"> 781</text>
<text x="1449.2" y="1491.5" text-anchor="middle" xml:space="preserve"> 837</text>
<text x="1629.2" y="1491.5" text-anchor="middle" xml:space="preserve"> 757</text>
<text x="1808.7" y="1491.5" text-anchor="middle" xml:space="preserve"> 599</text>
<text x="255.6" y="1532.5" text-anchor="middle" xml:space="preserve">MLON</text>
<text x="441.2" y="1532.5" text-anchor="middle" xml:space="preserve">256.5</text>
<text x="622.2" y="1532.5" text-anchor="middle" xml:space="preserve">299.8</text>
<text x="803.2" y="1532.5" text-anchor="middle" xml:space="preserve">342.0</text>
<text x="984.2" y="1532.5" text-anchor="middle" xml:space="preserve">022.6</text>
<text x="1165.2" y="1532.5" text-anchor="middle" xml:space="preserve">065.1</text>
<text x="1449.2" y="1532.5" text-anchor="middle" xml:space="preserve">132.0</text>
<text x="1629.2" y="1532.5" text-anchor="middle" xml:space="preserve">173.4</text>
<text x="1808.7" y="1532.5" text-anchor="middle" xml:space="preserve">214.6</text>
<text x="255.6" y="1573.5" text-anchor="middle" xml:space="preserve">MLAT</text>
<text x="441.2" y="1573.5" text-anchor="middle" xml:space="preserve">+03.2</text>
<text x="622.2" y="1573.5" text-anchor="middle" xml:space="preserve">-01.9</text>
<text x="803.2" y="1573.5" text-anchor="middle" xml:space="preserve">-02.3</text>
<text x="984.2" y="1573.5" text-anchor="middle" xml:space="preserve">-03.0</text>
<text x="1165.2" y="1573.5" text-anchor="middle" xml:space="preserve">-15.1</text>
<text x="1449.2" y="1573.5" text-anchor="middle" xml:space="preserve">-02.5</text>
<text x="1629.2" y="1573.5" text-anchor="middle" xml:space="preserve">+03.6</text>
<text x="1808.7" y="1573.5" text-anchor="middle" xml:space="preserve">+03.9</text>
<text x="255.6" y="1614.5" text-anchor="middle" xml:space="preserve">UT</text>
<text x="441.2" y="1614.5" text-anchor="middle" xml:space="preserve">02:36</text>
<text x="622.2" y="1614.5" text-anchor="middle" xml:space="preserve">02:47</text>
<text x="803.2" y="1614.5" text-anchor="middle" xml:space="preserve">02:59</text>
<text x="984.2" y="1614.5" text-anchor="middle" xml:space="preserve">03:10</text>
<text x="1165.2" y="1614.5" text-anchor="middle" xml:space="preserve">03:23</text>
<text x="1449.2" y="1614.5" text-anchor="middle" xml:space="preserve">01:59</text>
<text x="1629.2" y="1614.5" text-anchor="middle" xml:space="preserve">02:12</text>
<text x="1808.7" y="1614.5" text-anchor="middle" xml:space="preserve">02:24</text>
<text x="255.6" y="1655.5" text-anchor="middle" xml:space="preserve">SLT</text>
<text x="441.2" y="1655.5" text-anchor="middle" xml:space="preserve">15:00</text>
<text x="622.2" y="1655.5" text-anchor="middle" xml:space="preserve">18:00</text>
<text x="803.2" y="1655.5" text-anchor="middle" xml:space="preserve">21:00</text>
<text x="984.2" y="1655.5" text-anchor="middle" xml:space="preserve">00:00</text>
<text x="1165.2" y="1655.5" text-anchor="middle" xml:space="preserve">03:00</text>
<text x="1449.2" y="1655.5" text-anchor="middle" xml:space="preserve">06:00</text>
<text x="1629.2" y="1655.5" text-anchor="middle" xml:space="preserve">09:00</text>
<text x="1808.7" y="1655.5" text-anchor="middle" xml:space="preserve">12:00</text>
</g>
<text transform="translate(1900,1657.5) rotate(-90)" style="font-size:21.4px">Preliminary corrected calibration, 2/11/09</text>
<text transform="translate(1923.4,1657.5) rotate(-90)" style="font-size:21.3px">Produced 11-Jan-2010 13:39:46</text>
<path d="M259.5 323.8 L262.7 327 L265.9 322.5 L269.1 318.9 L272.3 318.7 L275.5 316.1 L278.7 313 L281.9 312.5 L285.1 308.2 L288.3 306.4 L291.5 301.4 L294.7 298.2 L297.9 296.7 L301.1 295.8 L304.3 291.5 L307.5 290.9 L310.7 289.5 L313.9 293.4 L317.1 292.1 L320.3 291.6 L323.5 294.3 L326.7 292.3 L329.9 297.1 L333.1 297.2 L336.3 298.7 L339.5 300.6 L342.7 303.1 L345.9 306.6 L349.1 306.1 L352.3 309.3 L355.5 310.7 L358.7 313 L361.9 310.2 L365.1 307.4 L368.3 306 L371.5 305.2 L374.7 305.4 L377.9 302.8 L381.1 300.5 L384.3 294 L387.5 296.8 L390.7 295.8 L393.9 298.6 L397.1 300.1 L400.3 300.7 L403.5 305.5 L406.7 306 L409.9 309.5 L413.1 311.3 L416.3 312.4 L419.5 317.6 L422.7 316.8 L425.9 319.7 L429.1 322 L432.3 320.4 L435.5 321.8 L438.7 324 L441.9 319.9 L445.1 317.2 L448.3 312.9 L451.5 310 L454.7 303.5 L457.9 300 L461.1 294.3 L464.3 288.9 L467.5 283.1 L470.7 278.9 L473.9 274.4 L477.1 268.7 L480.3 266.1 L483.5 261.1 L486.7 261.1 L489.9 259.9 L493.1 261.1 L496.3 260.3 L499.5 258.3 L502.7 258.5 L505.9 259.3 L509.1 256.3 L512.3 255.8 L515.5 252 L518.7 248.6 L521.9 244.6 L525.1 243.4 L528.3 238 L531.5 236.2 L534.7 235.1 L537.9 235.3 L541.1 231.3 L544.3 230 L547.5 231.7 L550.7 232.6 L553.9 232.2 L557.1 232.4 L560.3 230.7 L563.5 232.5 L566.7 235 L569.9 240.8 L573.1 245.5 L576.3 246.2 L579.5 246.1 L582.7 245 L585.9 243.5 L589.1 239.5 L592.3 242.6 L595.5 241.3 L598.7 241.2 L601.9 244.6 L605.1 245.3 L608.3 245.9 L611.5 246.3 L614.7 242.4 L617.9 233.7 L621.1 227.4 L624.3 209.4 L627.5 218.1 L630.7 223.7 L633.9 228 L637.1 233.2 L640.3 236.9 L643.5 237.3 L646.7 237.8 L649.9 236.8 L653.1 238.6 L656.3 236.6 L659.5 237.1 L662.7 239.2 L665.9 241.9 L669.1 246.1 L672.3 249.3 L675.5 253.9 L678.7 259.2 L681.9 263.8 L685.1 269.7 L688.3 273.6 L691.5 283.2 L694.7 291 L697.9 298.2 L700 309 L701 308.9 L702 307.2 L703 307.7 L704 306.1 L705 306 L706 305.7 L707.1 302.5 L708.2 303.5 L709.2 301.2 L710.2 303.2 L711.1 302.8 L712.1 306 L713 305.8 L714 307.5 L714.9 308 L715.9 305.6 L716.8 307.3 L717.7 304.9 L718.6 306.3 L719.6 304.6 L720.5 304.7 L721.4 309.6 L722.3 311.8 L723.2 317.4 L724.2 319.1 L725.1 324.8 L726 328 L727 329.4 L728 328.3 L729 331.2 L730 331 L731 332.4 L732 332.2 L733 334 L734 334.4 L735.3 305.4 L737 297 L738.8 291.3 L740.5 300 L741.5 303.8 L742.4 305.4 L743.3 317.7 L744.3 327.5 L745.2 339.3 L746.1 341.3 L747.1 340 L748 343.1 L748.9 342.4 L749.9 344.9 L750.8 345 L751.8 345 L752.8 343.8 L753.8 344.9 L754.9 342.4 L755.9 343.7 L756.9 341.3 L757.9 342 L758.8 342.7 L759.8 340.9 L760.7 343.1 L761.6 341.5 L762.6 342.6 L763.5 342 L764.5 338.4 L765.4 333 L766.4 330.2 L767.3 324.6 L768.2 321.6 L769.2 316.7 L770.2 315.8 L771.2 312.7 L772.1 313.1 L773.1 310.3 L774.1 309.6 L774.8 357.6 L776 320 L777 320.7 L778 318.5 L779 319.5 L780 323.5 L780.9 325 L781.9 330.2 L782.8 331.9 L783.8 336.8 L784.7 339.3 L785.7 345.3 L786.7 349.9 L787.7 356.7 L788.8 361.5 L789.8 368.5 L790.8 372.7 L791.8 378.8 L792.8 383.6 L793.8 385.9 L794.8 391.7 L795.8 394.3 L796.8 399.7 L797.8 402.1 L798.8 407 L799.5 405.6 L800.2 421 L801.1 427.1 L802.1 425.7 L803 430 L804.1 439.8 L805.1 442.7 L806.2 454.2 L807.3 459.3 L808.3 464.5 L809.4 459.6 L810.5 466.1 L811.5 465 L812.8 465.5 L814 462 L815.1 463.3 L816.1 458.3 L817.2 459.3 L818.1 466.6 L819.1 468.4 L820 474.8 L821 478 L822 476.5 L823 480 L824 484.7 L825 483.7 L826 491.4 L827 491.8 L828 492.7 L828.9 484.4 L829.9 485.7 L830.8 479.5 L831.8 480.2 L832.7 476.2 L833.8 481.3 L834.9 479.9 L835.9 486.5 L837 488 L838 490.7 L839 490.5 L840 494.9 L841 493.9 L842 498.2 L843 497.3 L844 500.2 L845 502.1 L846 496.4 L847 500.9 L848 496.7 L849 499.1 L850 496.5 L851.1 496.1 L852.1 492 L853.2 492.5 L854.2 486.2 L855.3 486.8 L856.3 489.6 L857.2 487.9 L858.2 492.4 L859.1 491.9 L860.1 497 L861 493.7 L862 497.8 L863 497 L863.9 492.5 L864.9 493.1 L865.8 489 L866.8 488.9 L867.7 486 L868.7 488 L869.7 485.9 L870.7 488.7 L871.7 487.6 L872.7 491.2 L873.7 489.5 L874.7 491.2 L875.7 489.1 L876.8 482.7 L877.8 481.8 L878.8 476.2 L879.9 477 L880.9 470 L882.2 473.4 L883.5 468.3 L884.7 478.1 L885.8 477.5 L887 484 L887.9 492.8 L888.8 496.8 L889.7 512.1 L890.6 508.3 L891.5 520.3 L892.7 505.5 L893.8 483.4 L895 467.4 L895.9 475.3 L896.8 476 L897.7 486 L899.4 459.4 L900.7 453.1 L902 445 L902.9 441.8 L903.8 431.9 L904.7 431.2 L906 426.7 L907.4 413.5 L908.7 428.5 L910 438.3 L911 435.2 L912 428.6 L913 425 L914.1 423.9 L915.1 415.7 L916.2 414.9 L917.4 423.9 L918.5 427.3 L919.7 437.4 L921.5 422.4 L923.3 470 L924.6 467 L925.9 450.6 L927.5 430 L928.5 421.6 L929.4 403 L930.4 404.4 L931.5 390.1 L932.5 396.8 L934 420 L935.6 393.2 L937 412.9 L938.3 431.2 L939.3 421 L940.4 402.4 L941.4 392.4 L942.4 402.8 L943.4 397.6 L944.4 409.1 L946 440 L947.1 484.1 L948.1 496.4 L949 481.7 L950 488 L951 493.2 L952 488.8 L953.1 497.5 L954.1 497.4 L955.2 493.4 L956.2 486 L957.3 482.4 L958.3 474.3 L959.4 470.9 L960.3 478.4 L961.2 479.4 L962.1 488 L963 490.3 L963.9 496.5 L965.2 491.1 L966.5 483.3 L967.5 496.3 L968.6 504.5 L969.6 519.5 L970.6 512.6 L971.6 500.2 L972.6 493.6 L973.6 484.1 L974.9 484.7 L976.2 476.2 L978 493 L979.2 495 L980.3 491.5 L981.5 493 L982.6 490.7 L983.6 481.9 L984.7 480.3 L985.7 473.2 L986.8 470.9 L987.8 468.6 L988.8 457 L989.8 462 L990.8 450.6 L991.7 475.3 L992.7 478.2 L993.6 478.1 L994.6 482.4 L995.5 481.3 L996.5 485 L997.7 489.5 L998.8 489.7 L1000 495 L1001 497.2 L1002 496.5 L1003 499.3 L1004 499.1 L1005 501 L1006 502.3 L1007 502.2 L1008 504 L1009 503.4 L1010 505.9 L1011 505.6 L1012 507 L1013 506 L1014 503.1 L1015 503.9 L1016 500.5 L1017 500 L1018 502.6 L1019 503.4 L1020 506 L1021 507.9 L1022 507.8 L1023 510.2 L1024 511 L1025 511.9 L1026 510.8 L1027 512.7 L1028 510.5 L1029 512.7 L1030 512 L1031 513.6 L1032 512.8 L1033 515.6 L1034 515.3 L1035 517 L1036.1 517.6 L1037.2 516.9 L1038.3 518.6 L1039.4 518.1 L1040.3 517.7 L1041.2 515.1 L1042.2 515.2 L1043.1 512.9 L1044 512 L1045 510.8 L1046 508.1 L1047 507.4 L1048 505 L1049.8 502.5 L1050.9 506.6 L1052 510 L1053 511.9 L1054 512.4 L1055 515.1 L1056 516 L1057 514.9 L1058 512 L1059 513.3 L1060 512 L1061 514.4 L1062 514 L1063 514.6 L1064 512.1 L1065 513.5 L1066 511.8 L1067 513.2 L1068 511.6 L1070 511 L1073.2 512.5 L1076.4 515.2 L1079.6 517.4 L1082.8 521.4 L1086 523.8 L1089.2 524.5 L1092.4 526.3 L1095.6 526.9 L1098.8 528.3 L1102 529.7 L1105.2 530 L1108.4 531.6 L1111.6 530.1 L1114.8 529.8 L1118 532.1 L1121.2 531.2 L1124.4 530.3 L1127.6 531.5 L1130.8 530.8 L1134 532.8 L1137.2 534.8 L1140.4 535.5 L1143.6 536.1 L1146.8 535.9 L1150 536.6 L1153.2 537.1 L1156.4 540 L1159.6 541 L1162.8 543.3 L1166 544 L1169.2 545.6 L1172.4 549 L1175.6 551.3 L1178.8 552.9 L1182 554.6 L1185.2 556.3 L1188.4 557.8 L1191.6 558.4 L1194.8 561 L1198 562.8 L1201.2 564.2 L1204.4 566.4 L1207.6 569.1 L1210.8 570.7 L1214 572.8 L1217.2 574.1 L1220.4 573.2 L1223.6 574.2 L1226.8 573.5 L1230 573.4 L1233.2 573.3" fill="none" stroke="#22dd22" stroke-width="1.2" stroke-linejoin="round"/>
<path d="M1342.5 579.8 L1345.7 582.2 L1348.9 583.3 L1352.1 583.6 L1355.3 587.2 L1358.5 590.3 L1361.7 593.3 L1364.9 597.1 L1368.1 600.7 L1371.3 602.3 L1374.5 605.8 L1377.7 608.7 L1380.9 612.6 L1384.1 615.8 L1387.3 618.8 L1390.5 621.1 L1393.7 623.6 L1396.9 623.7 L1400.1 623.4 L1403.3 621.8 L1406.5 620.4 L1409.7 619.4 L1412.9 618.2 L1416.1 615.9 L1419.3 615.5 L1422.5 614 L1425.7 613.4 L1428.9 617.2 L1432.1 614.3 L1435.3 604.1 L1438.5 598.7 L1441.7 596.5 L1444.9 592.9 L1448.1 603 L1451.3 581.1 L1454.5 579 L1457.7 565.5 L1460.9 560.9 L1464.1 554.6 L1467.3 548.9 L1470.5 543.7 L1473.7 539.4 L1476.9 533.9 L1480.1 531.9 L1483.3 531.6 L1486.5 530.3 L1489.7 529.6 L1492.9 528.4 L1496.1 526.7 L1499.3 524.8 L1502.5 522.5 L1505.7 521 L1508.9 518.8 L1512.1 518.4 L1515.3 517.8 L1518.5 517.4 L1521.7 514.5 L1524.9 512.6 L1528.1 508.6 L1531.3 505.6 L1534.5 502.2 L1537.7 498.8 L1540.9 494.5 L1544.1 490.3 L1547.3 485.7 L1550.5 482.7 L1553.7 479.4 L1556.9 476.4 L1560.1 472.8 L1563.3 471.7 L1566.5 467.8 L1569.7 467 L1572.9 464.7 L1576.1 460.9 L1579.3 460.1 L1582.5 459.5 L1585.7 458.6 L1588.9 456.6 L1592.1 455.5 L1595.3 454.8 L1598.5 456.1 L1601.7 454.7 L1604.9 455.1 L1608.1 453.4 L1611.3 453 L1614.5 452.7 L1617.7 450 L1620.9 450.7 L1624.1 449.7 L1627.3 450.3 L1630.5 449.9 L1633.7 449.1 L1636.9 451 L1640.1 450.3 L1643.3 449.3 L1646.5 449 L1649.7 449.3 L1652.9 447.7 L1656.1 444.9 L1659.3 441.5 L1662.5 438.6 L1665.7 435.3 L1668.9 433 L1672.1 427.9 L1675.3 426.6 L1678.5 424.5 L1681.7 421.3 L1684.9 421.3 L1688.1 419.6 L1691.3 419 L1694.5 417.4 L1697.7 417.3 L1700.9 417.3 L1704.1 418.5 L1707.3 417.7 L1710.5 417.2 L1713.7 417.2 L1716.9 416.5 L1720.1 415 L1723.3 413.5 L1726.5 412.9 L1729.7 410.2 L1732.9 410.5 L1736.1 408.4 L1739.3 407.5 L1742.5 406.6 L1745.7 404.3 L1748.9 402.7 L1752.1 401.6 L1755.3 398.9 L1758.5 395.9 L1761.7 392.6 L1764.9 390 L1768.1 386.9 L1771.3 382.2 L1774.5 376.6 L1777.7 366.1 L1780.9 355.6 L1784.1 342.5 L1787.3 334.2 L1790.5 327.9 L1793.7 324.5 L1796.9 323.3 L1800.1 324.8 L1803.3 323.3 L1806.5 324.1" fill="none" stroke="#22dd22" stroke-width="1.2" stroke-linejoin="round"/>
<path d="M259.5 324.4 L261.6 323.6 L264.6 322.5 L267.5 321.2 L269.9 320 L272.3 318.6 L275 316.9 L278.1 314.9 L281.6 312.7 L285 310 L288.3 306.6 L291.7 302.8 L295 299.4 L298.3 296.6 L301.7 294.2 L305 292.5 L308.3 291.7 L311.7 291.7 L315 291.8 L318.3 291.9 L321.6 292.2 L325 293.1 L328.8 295.1 L332.6 297.6 L336.2 300 L339.2 301.8 L341.9 303.4 L345 305 L348.9 307.2 L353.2 309.4 L357.5 310.6 L361.8 310.1 L366 308.6 L370 306.9 L373.7 305.3 L377 303.6 L380 301.9 L382.4 300.2 L384.3 298.7 L386.2 297.5 L388.2 296.8 L390.1 296.5 L392.5 296.9 L395.6 298.4 L399 300.7 L402.5 303.1 L405.8 305.3 L409.2 307.6 L412.5 310 L415.9 312.8 L419.4 315.7 L422.5 318.1 L425.1 319.6 L427.5 320.6 L430 321.2 L432.9 321.7 L435.9 321.8 L438.8 321.2 L441.3 319.8 L443.7 317.7 L446.2 315 L449 311.8 L451.9 308.1 L455 303.8 L458.2 298.7 L461.6 293.1 L465 287.5 L468.3 281.9 L471.6 276.3 L475 271.2 L478.8 266.9 L482.8 263.2 L486.2 260.6 L488.5 259.5 L490.1 259.4 L492.5 259.4 L496.5 259.2 L501.2 259 L505 258.8 L507.1 258.6 L508.4 258.3 L510 257.5 L512.2 256 L514.7 253.9 L517.5 251.2 L520.7 247.6 L524.2 243.5 L527.5 240 L530.5 237.7 L533.4 236.1 L536.2 234.8 L539 233.5 L541.7 232.6 L545 231.9 L549.4 231.4 L554.4 231.1 L558.8 231.2 L561.7 231.9 L563.9 233 L566.2 235 L569.3 238.6 L572.4 243 L575 246.2 L576.4 247.6 L577.3 247.8 L578.8 247.5 L581.4 246.5 L584.7 245 L587.5 243.8 L589.4 243 L591 242.5 L592.5 242.2 L594.1 242.1 L595.7 242.1 L597.5 242.5 L599.5 243.4 L601.6 244.7 L603.8 245.6 L605.9 245.9 L608 245.8 L610 245.2 L611.8 244.5 L613.4 243.3 L615 241.2 L616.6 237.6 L618.1 233 L620 228.8 L622.4 225 L625.1 221.6 L627.5 219.8 L629.3 220.2 L630.7 222.3 L632.5 225 L634.9 228.4 L637.5 232.5 L640 235.6 L641.9 237.1 L643.7 237.7 L646.2 238.1 L650.5 238.2 L655.5 238.1 L660 238.8 L663.4 240.7 L666.2 243.4 L668.8 246.2 L670.9 248.8 L672.7 251.6 L675 255 L678.2 259.7 L681.8 265 L685 270 L687.3 273.6 L689.1 276.8 L691.2 281.2 L694.1 288.9 L697.3 297.8 L700 304.4 L701.8 306.6 L703.3 306.5 L705 306.1 L707.4 305.9 L710.2 305.5 L712.7 305.4 L714.6 305.3 L716.3 305.6 L718.4 307.5 L721.4 313.1 L724.9 320.3 L728.2 324.5 L731 322.7 L733.6 318 L736 314.6 L738.1 313.6 L740.1 314 L742.4 316.7 L745.6 323.7 L749.1 333.1 L752.2 340 L754.4 342.3 L756 342 L757.9 340.7 L760.1 338.5 L762.5 335.1 L765 331.5 L767.8 327.1 L770.8 322.3 L773.4 319.5 L775.5 319.5 L777.2 321.5 L779 324.5 L780.8 327.8 L782.7 332.2 L784.7 339.3 L787 351.1 L789.4 365.6 L791.8 378.8 L794.2 389.4 L796.7 398.7 L798.8 407 L800.4 413.5 L801.7 419 L803.1 425.4 L804.8 434.2 L806.7 444 L808.7 452.2 L810.9 457.5 L813.3 461.2 L815.8 465 L818.6 469.9 L821.4 475 L824.2 479 L826.7 481.2 L829.1 482.3 L831.3 483.3 L833.2 484.2 L835 484.9 L837 486.1 L839.6 488.7 L842.6 491.8 L845.4 493.9 L847.7 494.1 L849.9 493.3 L852.5 492.5 L855.9 492.1 L859.8 491.7 L863.2 491.2 L865.7 490.6 L867.9 489.9 L870.3 488.6 L873.5 485.8 L877 482.3 L880 480.2 L882.1 480.8 L883.7 482.9 L885.3 484.6 L887.1 485.5 L888.9 486 L890.6 485.5 L892.1 484.1 L893.6 481.8 L895 478 L896.5 471.8 L898 464.2 L899.4 457.7 L900.6 453.5 L901.8 450.3 L903 447 L904.4 442.9 L905.8 438.6 L907.4 434.7 L909.1 430.7 L911 427 L913.1 425.5 L915.5 428.2 L918.1 433.2 L920.6 436.5 L923.1 436.3 L925.5 434.5 L927.7 432.1 L929.7 429.6 L931.4 426.7 L933 423.2 L934.4 418.2 L935.6 412.8 L936.9 410 L938.5 411.4 L940.2 415.4 L941.8 420.6 L943.3 426.9 L944.8 434.5 L946.2 441.8 L947.4 448.3 L948.6 454.6 L949.7 461.2 L950.8 469.2 L951.9 477.6 L953.3 483.7 L955 485.7 L957 485.4 L959.4 485.9 L962.6 488.7 L966.2 492.2 L969.2 494.7 L971.1 495.5 L972.3 495.4 L973.6 494.7 L975.1 493.7 L976.5 492.2 L978 490.3 L979.4 488 L980.8 485.4 L982.4 482.8 L984.5 480 L986.7 477.2 L988.6 475.3 L989.7 474.6 L990.4 474.8 L991.2 475.8 L992.4 477.4 L993.7 479.8 L995.2 483 L996.7 487.5 L998.3 492.8 L1000.4 497.3 L1003.1 500.2 L1006.2 502.2 L1009.5 503.8 L1013 505 L1016.6 505.7 L1019.9 506.4 L1022.6 507.1 L1025 507.8 L1027.7 509 L1031 511.3 L1034.5 514.1 L1038.1 515.5 L1041.8 514.4 L1045.4 512 L1048.5 510.3 L1050.6 510 L1052.2 510.4 L1053.7 511 L1055.3 511.9 L1056.9 513 L1058.9 513.6 L1061.8 513.2 L1065.1 512.2 L1068 511.6 L1069.9 511.6 L1071.4 512 L1073.2 512.9 L1075.4 514.6 L1077.9 516.9 L1081 519.4 L1085 522.1 L1089.7 524.9 L1094 527.2 L1097.5 528.7 L1100.6 529.8 L1104.4 530.5 L1109.4 530.9 L1115 531 L1120 531.1 L1123.7 531.2 L1126.7 531.3 L1130.4 531.8 L1135.6 533.1 L1141.3 534.9 L1146 536.3 L1148.6 536.8 L1150.2 536.9 L1152.5 537.6 L1156.4 539.3 L1160.9 541.6 L1165.5 544.1 L1169.8 546.6 L1174.1 549.3 L1178.5 551.9 L1183.4 554.6 L1188.5 557.3 L1192.8 559.7 L1195.8 561.6 L1198 563.2 L1200.6 564.9 L1203.9 567.1 L1207.4 569.5 L1211 571.4 L1214.6 572.5 L1218.1 573.1 L1221.4 573.4 L1224.3 573.1 L1226.8 572.4 L1229.2 572.1 L1231.5 572.8 L1233.6 573.9 L1235.1 574.7" fill="none" stroke="#000" stroke-width="1.15" stroke-linejoin="round"/>
<path d="M1342.5 580.5 L1344.8 581.4 L1348 582.7 L1351 584 L1353 585 L1354.7 586.1 L1357 588 L1360.4 591.6 L1364.3 596 L1368 600 L1371.2 603 L1374.1 605.5 L1377 608 L1379.7 610.7 L1382.4 613.4 L1385 616 L1387.7 618.5 L1390.4 620.8 L1393 622.5 L1395.3 623.2 L1397.5 623.3 L1400 623 L1403.1 622.4 L1406.6 621.3 L1410 620 L1413.5 618.2 L1417 616.1 L1420 614.5 L1422.3 613.9 L1424.1 613.7 L1426 613 L1428.3 611.4 L1430.7 609.3 L1433 607 L1435 604.5 L1437 601.7 L1439 599 L1441.4 596.3 L1443.9 593.6 L1446 591 L1447.5 588.8 L1448.7 586.7 L1450 584 L1451.6 580.3 L1453.3 576 L1455 572 L1456.6 568.5 L1458.3 565.3 L1460 562 L1462 558.6 L1464.1 555.1 L1466 552 L1467.4 549.5 L1468.7 547.3 L1470 545 L1471.6 542.3 L1473.3 539.5 L1475 537 L1476.7 534.8 L1478.3 532.9 L1480 531.5 L1481.6 530.8 L1483.3 530.7 L1485 530.5 L1487 530.2 L1489.1 529.9 L1491 529.5 L1492.3 528.9 L1493.4 528.1 L1495 527 L1497.5 525.4 L1500.4 523.5 L1503 522 L1504.6 521.2 L1505.8 520.6 L1507.7 520 L1510.8 519.3 L1514.6 518.5 L1518.6 516.9 L1522.7 514.2 L1526.9 510.7 L1531 506.8 L1534.8 502.3 L1538.5 497.3 L1541.8 492.9 L1544.5 489.5 L1546.8 486.7 L1549.6 483.6 L1553.3 479.9 L1557.5 475.9 L1562 472 L1566.9 468.1 L1572.2 464.3 L1577.5 461.1 L1582.8 458.7 L1588.1 457 L1593 455.7 L1597.3 455.2 L1601.3 455.3 L1605.4 454.9 L1610 453.5 L1614.7 451.7 L1619.3 450.3 L1623.7 449.7 L1628 449.5 L1631.7 449.5 L1634.5 449.7 L1636.7 450.2 L1639.5 450.3 L1643.3 450.2 L1647.6 449.8 L1651.9 448.4 L1656.1 445.3 L1660.3 441.2 L1664.3 437.1 L1668 433.3 L1671.6 429.5 L1675.1 426.2 L1678.8 423.6 L1682.5 421.6 L1686 420 L1688.8 418.9 L1691.3 418.2 L1695.3 417.7 L1702 417.5 L1710 417.5 L1717 416.9 L1721.9 415.1 L1725.7 412.7 L1729.4 410.7 L1733.1 409.6 L1736.7 408.7 L1740.2 407.6 L1743.8 405.9 L1747.4 403.9 L1751.1 401.4 L1755.2 398.1 L1759.5 394.4 L1763.5 390.6 L1766.9 387.2 L1770 383.8 L1772.8 379.7 L1775.2 374.5 L1777.2 368.7 L1779 362.7 L1780.6 356.5 L1782 350.1 L1783.6 344.1 L1785.5 338.3 L1787.7 332.8 L1789.8 328.6 L1791.6 326.2 L1793.4 325 L1796 324.3 L1800.3 324 L1805.4 324.1 L1809 324.3" fill="none" stroke="#000" stroke-width="1.15" stroke-linejoin="round"/>
<path d="M259.5 585.1 L261.5 588.1 L263.5 591.1 L265.5 594.1 L267.5 597.1 L269.5 600.1 L271.5 603.1 L273.5 606.1 L275.5 609.1 L277.5 612.1 L279.5 615.1 L281.5 618.1 L283.5 621.1 L285.5 624.1 L287.5 627 L289.5 630 L291.5 633 L293.5 635.9 L295.5 638.9 L297.5 641.8 L299.5 644.7 L301.5 647.7 L303.5 650.6 L305.5 653.5 L307.5 656.4 L309.5 659.3 L311.5 662.2 L313.5 665.1 L315.5 668 L317.5 670.9 L319.5 673.8 L321.5 676.6 L323.5 679.5 L325.5 682.3 L327.5 685.1 L329.5 688 L331.5 690.8 L333.5 693.6 L335.5 696.4 L337.5 699.2 L339.5 701.9 L341.5 704.7 L343.5 707.5 L345.5 710.2 L347.5 712.9 L349.5 715.6 L351.5 718.4 L353.5 721.1 L355.5 723.7 L357.5 726.4 L359.5 729.1 L361.5 731.7 L363.5 734.4 L365.5 737 L367.5 739.6 L369.5 742.2 L371.5 744.8 L373.5 747.3 L375.5 749.9 L377.5 752.4 L379.5 754.9 L381.5 757.5 L383.5 760 L385.5 762.4 L387.5 764.9 L389.5 767.4 L391.5 769.8 L393.5 772.2 L395.5 774.6 L397.5 777 L399.5 779.4 L401.5 781.7 L403.5 784.1 L405.5 786.4 L407.5 788.7 L409.5 791 L411.5 793.2 L413.5 795.5 L415.5 797.7 L417.5 799.9 L419.5 802.1 L421.5 804.3 L423.5 806.4 L425.5 808.6 L427.5 810.7 L429.5 812.8 L431.5 814.9 L433.5 816.9 L435.5 819 L437.5 821 L439.5 823 L441.5 825 L443.5 826.9 L445.5 828.9 L447.5 830.8 L449.5 832.7 L451.5 834.6 L453.5 836.4 L455.5 838.3 L457.5 840.1 L459.5 841.9 L461.5 843.6 L463.5 845.4 L465.5 847.1 L467.5 848.8 L469.5 850.5 L471.5 852.1 L473.5 853.8 L475.5 855.4 L477.5 857 L479.5 858.5 L481.5 860.1 L483.5 861.6 L485.5 863.1 L487.5 864.6 L489.5 866 L491.5 867.4 L493.5 868.8 L495.5 870.2 L497.5 871.6 L499.5 872.9 L501.5 874.2 L503.5 875.5 L505.5 876.7 L507.5 878 L509.5 879.2 L511.5 880.3 L513.5 881.5 L515.5 882.6 L517.5 883.7 L519.5 884.8 L521.5 885.9 L523.5 886.9 L525.5 887.9 L527.5 888.9 L529.5 889.8 L531.5 890.7 L533.5 891.6 L535.5 892.5 L537.5 893.4 L539.5 894.2 L541.5 895 L543.5 895.7 L545.5 896.5 L547.5 897.2 L549.5 897.9 L551.5 898.6 L553.5 899.2 L555.5 899.8 L557.5 900.4 L559.5 901 L561.5 901.5 L563.5 902 L565.5 902.5 L567.5 902.9 L569.5 903.4 L571.5 903.8 L573.5 904.2 L575.5 904.5 L577.5 904.8 L579.5 905.1 L581.5 905.4 L583.5 905.6 L585.5 905.9 L587.5 906.1 L589.5 906.2 L591.5 906.4 L593.5 906.5 L595.5 906.6 L597.5 906.6 L599.5 906.6 L601.5 906.7 L603.5 906.6 L605.5 906.6 L607.5 906.5 L609.5 906.4 L611.5 906.3 L613.5 906.2 L615.5 906 L617.5 905.8 L619.5 905.6 L621.5 905.3 L623.5 905 L625.5 904.7 L627.5 904.4 L629.5 904 L631.5 903.7 L633.5 903.2 L635.5 902.8 L637.5 902.4 L639.5 901.9 L641.5 901.4 L643.5 900.8 L645.5 900.3 L647.5 899.7 L649.5 899.1 L651.5 898.5 L653.5 897.8 L655.5 897.1 L657.5 896.4 L659.5 895.7 L661.5 894.9 L663.5 894.1 L665.5 893.3 L667.5 892.5 L669.5 891.7 L671.5 890.8 L673.5 889.9 L675.5 889 L677.5 888 L679.5 887 L681.5 886 L683.5 885 L685.5 884 L687.5 882.9 L689.5 881.8 L691.5 880.7 L693.5 879.6 L695.5 878.4 L697.5 877.3 L699.5 876 L701.5 874.8 L703.5 873.6 L705.5 872.3 L707.5 871 L709.5 869.7 L711.5 868.4 L713.5 867 L715.5 865.6 L717.5 864.2 L719.5 862.8 L721.5 861.4 L723.5 859.9 L725.5 858.4 L727.5 856.9 L729.5 855.4 L731.5 853.9 L733.5 852.3 L735.5 850.7 L737.5 849.1 L739.5 847.5 L741.5 845.8 L743.5 844.2 L745.5 842.5 L747.5 840.8 L749.5 839 L751.5 837.3 L753.5 835.5 L755.5 833.8 L757.5 832 L759.5 830.1 L761.5 828.3 L763.5 826.4 L765.5 824.6 L767.5 822.7 L769.5 820.8 L771.5 818.8 L773.5 816.9 L775.5 814.9 L777.5 812.9 L779.5 810.9 L781.5 808.9 L783.5 806.9 L785.5 804.8 L787.5 802.7 L789.5 800.6 L791.5 798.5 L793.5 796.4 L795.5 794.3 L797.5 792.1 L799.5 790 L801.5 787.8 L803.5 785.6 L805.5 783.3 L807.5 781.1 L809.5 778.9 L811.5 776.6 L813.5 774.3 L815.5 772 L817.5 769.7 L819.5 767.4 L821.5 765 L823.5 762.7 L825.5 760.3 L827.5 757.9 L829.5 755.5 L831.5 753.1 L833.5 750.7 L835.5 748.3 L837.5 745.8 L839.5 743.3 L841.5 740.9 L843.5 738.4 L845.5 735.9 L847.5 733.3 L849.5 730.8 L851.5 728.3 L853.5 725.7 L855.5 723.1 L857.5 720.6 L859.5 718 L861.5 715.4 L863.5 712.7 L865.5 710.1 L867.5 707.5 L869.5 704.8 L871.5 702.2 L873.5 699.5 L875.5 696.8 L877.5 694.1 L879.5 691.4 L881.5 688.7 L883.5 685.9 L885.5 683.2 L887.5 680.5 L889.5 677.7 L891.5 674.9 L893.5 672.2 L895.5 669.4 L897.5 666.6 L899.5 663.8 L901.5 661 L903.5 658.1 L905.5 655.3 L907.5 652.5 L909.5 649.6 L911.5 646.8 L913.5 643.9 L915.5 641 L917.5 638.1 L919.5 635.2 L921.5 632.4 L923.5 629.5 L925.5 626.5 L927.5 623.6 L929.5 620.7 L931.5 617.8 L933.5 614.8 L935.5 611.9 L937.5 609 L939.5 606 L941.5 603 L943.5 600.1 L945.5 597.1 L947.5 594.1 L949.5 591.2 L951.5 588.2 L953.5 585.2 L955.5 582.2 L957.5 579.2 L959.5 576.2 L961.5 573.2 L963.5 570.2 L965.5 567.2 L967.5 564.2 L969.5 561.1 L971.5 558.1 L973.5 555.1 L975.5 552.1 L977.5 549 L979.5 546 L981.5 543 L983.5 540 L985.5 536.9 L987.5 533.9 L989.5 530.9 L991.5 527.8 L993.5 524.8 L995.5 521.7 L997.5 518.7 L999.5 515.7 L1001.5 512.6 L1003.5 509.6 L1005.5 506.6 L1007.5 503.5 L1009.5 500.5 L1011.5 497.5 L1013.5 494.4 L1015.5 491.4 L1017.5 488.4 L1019.5 485.4 L1021.5 482.4 L1023.5 479.3 L1025.5 476.3 L1027.5 473.3 L1029.5 470.3 L1031.5 467.3 L1033.5 464.3 L1035.5 461.3 L1037.5 458.3 L1039.5 455.3 L1041.5 452.4 L1043.5 449.4 L1045.5 446.4 L1047.5 443.5 L1049.5 440.5 L1051.5 437.6 L1053.5 434.6 L1055.5 431.7 L1057.5 428.8 L1059.5 425.8 L1061.5 422.9 L1063.5 420 L1065.5 417.1 L1067.5 414.2 L1069.5 411.3 L1071.5 408.5 L1073.5 405.6 L1075.5 402.8 L1077.5 399.9 L1079.5 397.1 L1081.5 394.3 L1083.5 391.4 L1085.5 388.6 L1087.5 385.8 L1089.5 383.1 L1091.5 380.3 L1093.5 377.5 L1095.5 374.8 L1097.5 372.1 L1099.5 369.3 L1101.5 366.6 L1103.5 363.9 L1105.5 361.3 L1107.5 358.6 L1109.5 355.9 L1111.5 353.3 L1113.5 350.7 L1115.5 348 L1117.5 345.5 L1119.5 342.9 L1121.5 340.3 L1123.5 337.8 L1125.5 335.2 L1127.5 332.7 L1129.5 330.2 L1131.5 327.7 L1133.5 325.2 L1135.5 322.8 L1137.5 320.3 L1139.5 317.9 L1141.5 315.5 L1143.5 313.1 L1145.5 310.8 L1147.5 308.4 L1149.5 306.1 L1151.5 303.8 L1153.5 301.5 L1155.5 299.2 L1157.5 297 L1159.5 294.8 L1161.5 292.6 L1163.5 290.4 L1165.5 288.2 L1167.5 286.1 L1169.5 283.9 L1171.5 281.8 L1173.5 279.7 L1175.5 277.7 L1177.5 275.6 L1179.5 273.6 L1181.5 271.6 L1183.5 269.7 L1185.5 267.7 L1187.5 265.8 L1189.5 263.9 L1191.5 262 L1193.5 260.1 L1195.5 258.3 L1197.5 256.5 L1199.5 254.7 L1201.5 252.9 L1203.5 251.2 L1205.5 249.5 L1207.5 247.8 L1209.5 246.1 L1211.5 244.5 L1213.5 242.9 L1215.5 241.3 L1217.5 239.8 L1219.5 238.2 L1221.5 236.7 L1223.5 235.2 L1225.5 233.8 L1227.5 232.3 L1229.5 230.9 L1231.5 229.6 L1233.5 228.2 L1235.5 226.9 L1235.5 226.9" fill="none" stroke="#10109a" stroke-width="1.3"/>
<path d="M1342.5 224.4 L1344.5 223.1 L1346.5 221.9 L1348.5 220.7 L1350.5 219.6 L1352.5 218.5 L1354.5 217.4 L1356.5 216.3 L1358.5 215.2 L1360.5 214.2 L1362.5 213.2 L1364.5 212.3 L1366.5 211.3 L1368.5 210.4 L1370.5 209.6 L1372.5 208.7 L1374.5 207.9 L1376.5 207.1 L1378.5 206.4 L1380.5 205.6 L1382.5 204.9 L1384.5 204.2 L1386.5 203.6 L1388.5 203 L1390.5 202.4 L1392.5 201.9 L1394.5 201.3 L1396.5 200.8 L1398.5 200.4 L1400.5 199.9 L1402.5 199.5 L1404.5 199.2 L1406.5 198.8 L1408.5 198.5 L1410.5 198.2 L1412.5 197.9 L1414.5 197.7 L1416.5 197.5 L1418.5 197.4 L1420.5 197.2 L1422.5 197.1 L1424.5 197 L1426.5 197 L1428.5 196.9 L1430.5 197 L1432.5 197 L1434.5 197.1 L1436.5 197.2 L1438.5 197.3 L1440.5 197.4 L1442.5 197.6 L1444.5 197.8 L1446.5 198.1 L1448.5 198.4 L1450.5 198.7 L1452.5 199 L1454.5 199.4 L1456.5 199.7 L1458.5 200.2 L1460.5 200.6 L1462.5 201.1 L1464.5 201.6 L1466.5 202.1 L1468.5 202.7 L1470.5 203.3 L1472.5 203.9 L1474.5 204.5 L1476.5 205.2 L1478.5 205.9 L1480.5 206.6 L1482.5 207.4 L1484.5 208.2 L1486.5 209 L1488.5 209.8 L1490.5 210.7 L1492.5 211.6 L1494.5 212.5 L1496.5 213.5 L1498.5 214.4 L1500.5 215.4 L1502.5 216.5 L1504.5 217.5 L1506.5 218.6 L1508.5 219.7 L1510.5 220.9 L1512.5 222 L1514.5 223.2 L1516.5 224.4 L1518.5 225.7 L1520.5 226.9 L1522.5 228.2 L1524.5 229.5 L1526.5 230.9 L1528.5 232.2 L1530.5 233.6 L1532.5 235 L1534.5 236.5 L1536.5 237.9 L1538.5 239.4 L1540.5 240.9 L1542.5 242.4 L1544.5 244 L1546.5 245.6 L1548.5 247.2 L1550.5 248.8 L1552.5 250.5 L1554.5 252.1 L1556.5 253.8 L1558.5 255.5 L1560.5 257.3 L1562.5 259 L1564.5 260.8 L1566.5 262.6 L1568.5 264.4 L1570.5 266.3 L1572.5 268.2 L1574.5 270.1 L1576.5 272 L1578.5 273.9 L1580.5 275.8 L1582.5 277.8 L1584.5 279.8 L1586.5 281.8 L1588.5 283.8 L1590.5 285.9 L1592.5 288 L1594.5 290.1 L1596.5 292.2 L1598.5 294.3 L1600.5 296.4 L1602.5 298.6 L1604.5 300.8 L1606.5 303 L1608.5 305.2 L1610.5 307.4 L1612.5 309.7 L1614.5 311.9 L1616.5 314.2 L1618.5 316.5 L1620.5 318.8 L1622.5 321.2 L1624.5 323.5 L1626.5 325.9 L1628.5 328.3 L1630.5 330.7 L1632.5 333.1 L1634.5 335.5 L1636.5 338 L1638.5 340.4 L1640.5 342.9 L1642.5 345.4 L1644.5 347.9 L1646.5 350.4 L1648.5 353 L1650.5 355.5 L1652.5 358.1 L1654.5 360.6 L1656.5 363.2 L1658.5 365.8 L1660.5 368.4 L1662.5 371.1 L1664.5 373.7 L1666.5 376.3 L1668.5 379 L1670.5 381.7 L1672.5 384.4 L1674.5 387.1 L1676.5 389.8 L1678.5 392.5 L1680.5 395.2 L1682.5 397.9 L1684.5 400.7 L1686.5 403.5 L1688.5 406.2 L1690.5 409 L1692.5 411.8 L1694.5 414.6 L1696.5 417.4 L1698.5 420.2 L1700.5 423 L1702.5 425.9 L1704.5 428.7 L1706.5 431.6 L1708.5 434.4 L1710.5 437.3 L1712.5 440.2 L1714.5 443.1 L1716.5 446 L1718.5 448.9 L1720.5 451.8 L1722.5 454.7 L1724.5 457.6 L1726.5 460.5 L1728.5 463.5 L1730.5 466.4 L1732.5 469.3 L1734.5 472.3 L1736.5 475.2 L1738.5 478.2 L1740.5 481.2 L1742.5 484.1 L1744.5 487.1 L1746.5 490.1 L1748.5 493.1 L1750.5 496.1 L1752.5 499 L1754.5 502 L1756.5 505 L1758.5 508 L1760.5 511 L1762.5 514 L1764.5 517.1 L1766.5 520.1 L1768.5 523.1 L1770.5 526.1 L1772.5 529.1 L1774.5 532.1 L1776.5 535.2 L1778.5 538.2 L1780.5 541.2 L1782.5 544.2 L1784.5 547.3 L1786.5 550.3 L1788.5 553.3 L1790.5 556.3 L1792.5 559.4 L1794.5 562.4 L1796.5 565.4 L1798.5 568.5 L1800.5 571.5 L1802.5 574.5 L1804.5 577.5 L1806.5 580.5 L1808.5 583.6 L1809.5 585.1" fill="none" stroke="#10109a" stroke-width="1.3"/>
<path d="M735.4 842.7 743 836.4 751.1 846.1 743.5 852.4ZM748.6 831.5 755.9 824.9 764.4 834.3 757.1 840.8ZM761.6 819.6 768.7 812.8 777.4 821.9 770.3 828.7ZM773.8 807.7 780.7 800.7 789.7 809.6 782.8 816.6ZM785.8 795.4 792.5 788.3 801.7 796.9 795 804ZM797.5 782.8 804.1 775.5 813.5 783.9 806.9 791.2ZM808.8 770.2 815.2 762.8 824.7 771 818.3 778.4ZM820 757.1 826.3 749.5 836 757.6 829.7 765.1ZM830.8 744.1 836.9 736.5 846.7 744.4 840.6 752ZM841.3 731.1 847.3 723.4 857.2 731.2 851.2 738.9ZM851.8 717.7 857.7 709.9 867.7 717.6 861.8 725.4ZM861.8 704.6 867.7 696.8 877.7 704.4 871.8 712.2ZM872 690.9 877.8 683 888 690.5 882.2 698.4ZM881.8 677.6 887.5 669.7 897.7 677.1 892 685ZM891.5 664.1 897.2 656.1 907.5 663.4 901.8 671.4ZM901 650.7 906.7 642.7 917 649.9 911.3 658ZM910.5 637.1 916.1 629.1 926.5 636.3 920.9 644.3ZM920 623.4 925.6 615.3 936 622.4 930.4 630.5ZM929.3 609.8 934.8 601.7 945.2 608.8 939.7 616.9ZM938.5 596.2 944 588 954.5 595.1 949 603.2ZM947.5 582.8 953 574.6 963.5 581.6 958 589.8ZM956.8 568.9 962.2 560.7 972.7 567.7 967.3 575.9ZM965.8 555.3 971.2 547.2 981.7 554.1 976.3 562.3ZM974.8 541.7 980.2 533.5 990.7 540.5 985.3 548.7ZM983.8 528.1 989.2 519.9 999.7 526.8 994.3 535ZM993 514 998.4 505.8 1009 512.8 1003.6 521ZM1002 500.4 1007.4 492.2 1018 499.1 1012.6 507.3ZM1011 486.7 1016.5 478.6 1027 485.5 1021.5 493.7ZM1020 473.2 1025.5 465 1036 472 1030.5 480.1ZM1029.3 459.3 1034.7 451.1 1045.2 458.1 1039.8 466.3ZM1038.5 445.5 1044 437.4 1054.5 444.4 1049 452.5ZM1047.8 431.8 1053.3 423.7 1063.7 430.8 1058.2 438.9ZM1057 418.3 1062.6 410.2 1073 417.4 1067.4 425.5ZM1066.5 404.6 1072.2 396.6 1082.5 403.8 1076.8 411.8ZM1076 391.1 1081.7 383.1 1092 390.4 1086.3 398.4ZM1085.8 377.5 1091.5 369.5 1101.7 376.9 1096 384.9ZM1095.5 364.1 1101.4 356.2 1111.5 363.8 1105.6 371.6ZM1105.8 350.4 1111.7 342.6 1121.7 350.3 1115.8 358.1ZM1116 337.1 1122.1 329.4 1132 337.2 1125.9 344.9ZM1126.5 323.8 1132.7 316.2 1142.5 324.2 1136.3 331.8ZM1137.3 310.7 1143.6 303.3 1153.2 311.4 1146.9 318.9ZM1148.5 297.6 1155 290.3 1164.5 298.6 1158 306ZM1160.1 284.8 1166.8 277.6 1175.9 286.3 1169.2 293.4ZM1171.8 272.4 1178.8 265.5 1187.7 274.4 1180.7 281.3ZM1184.4 260 1191.5 253.3 1200.1 262.6 1193 269.2ZM1197.2 248.3 1204.6 241.9 1212.8 251.5 1205.4 257.9ZM1210.8 237 1218.6 231 1226.2 241 1218.4 247Z" fill="#0808f0"/>
</svg></body></html>
